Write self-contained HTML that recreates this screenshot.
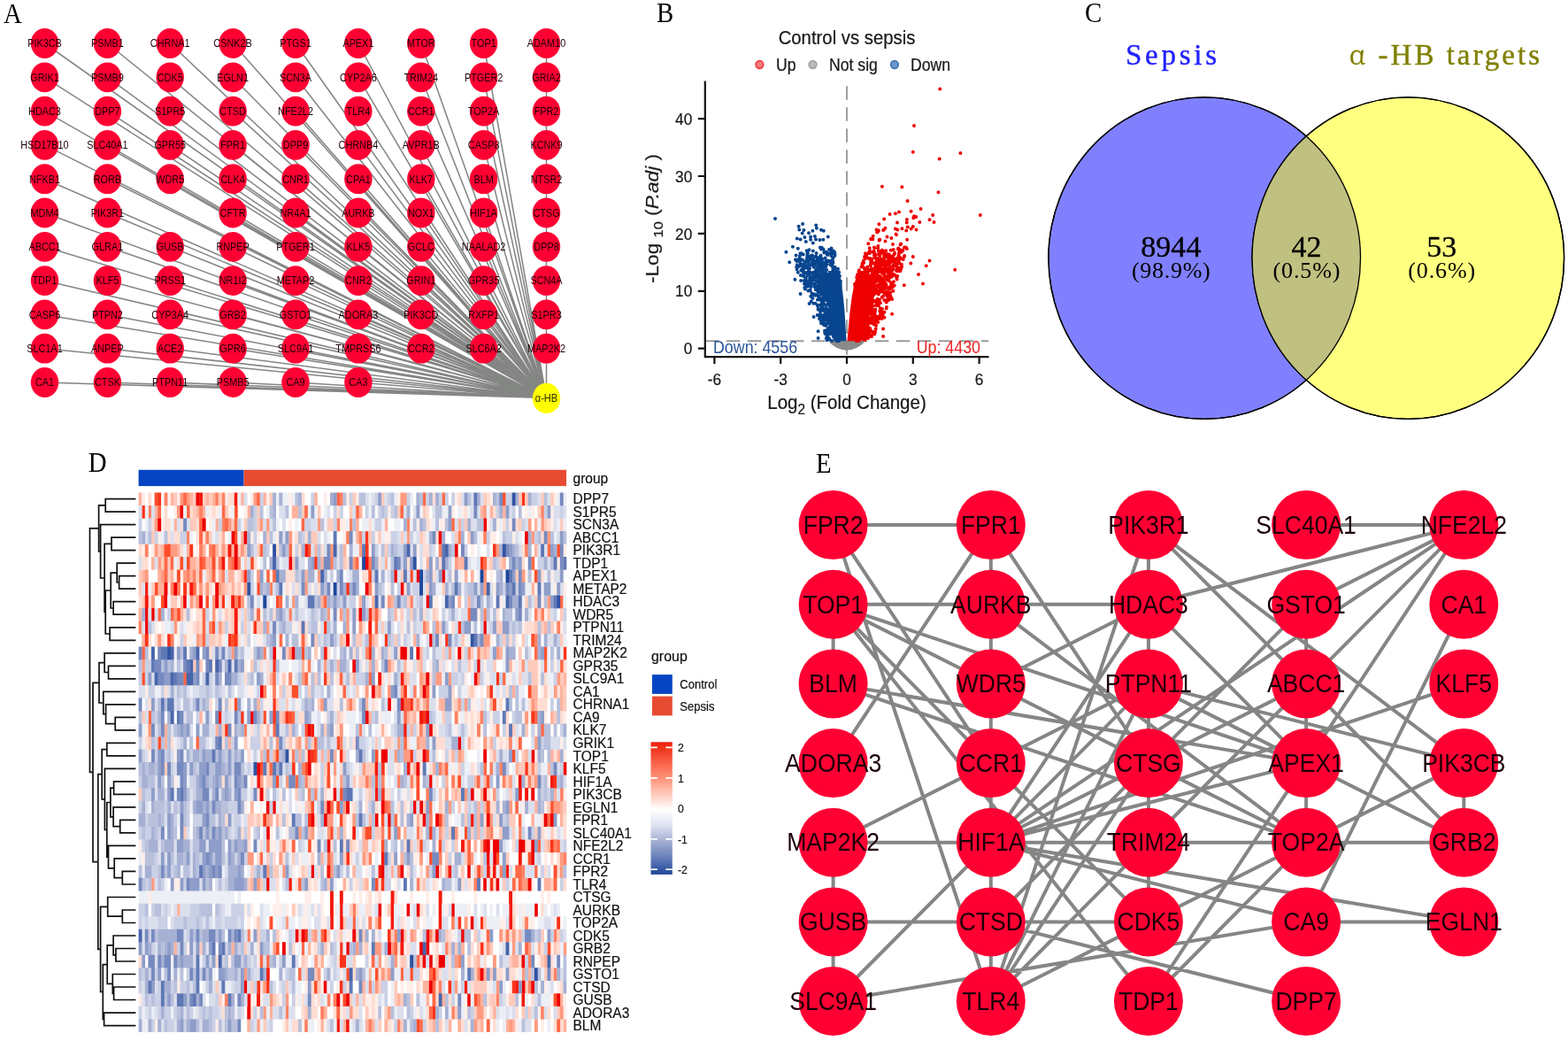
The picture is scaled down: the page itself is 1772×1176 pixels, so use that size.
<!DOCTYPE html>
<html lang="en"><head><meta charset="utf-8"><title>Figure</title>
<style>
html,body{margin:0;padding:0;background:#fff}
svg{display:block}
</style></head>
<body>
<svg width="1772" height="1176" viewBox="0 0 1772 1176">
<rect width="1772" height="1176" fill="#fff"/>
<g id="pA">
<g stroke="#848684" stroke-width="1.55" fill="none">
<path d="M50.5 49.0L617.5 449.6M121.4 49.0L617.5 449.6M192.2 49.0L617.5 449.6M263.1 49.0L617.5 449.6M334.0 49.0L617.5 449.6M404.9 49.0L617.5 449.6M475.8 49.0L617.5 449.6M546.6 49.0L617.5 449.6M617.5 49.0L617.5 449.6M50.5 87.3L617.5 449.6M121.4 87.3L617.5 449.6M192.2 87.3L617.5 449.6M263.1 87.3L617.5 449.6M334.0 87.3L617.5 449.6M404.9 87.3L617.5 449.6M475.8 87.3L617.5 449.6M546.6 87.3L617.5 449.6M617.5 87.3L617.5 449.6M50.5 125.6L617.5 449.6M121.4 125.6L617.5 449.6M192.2 125.6L617.5 449.6M263.1 125.6L617.5 449.6M334.0 125.6L617.5 449.6M404.9 125.6L617.5 449.6M475.8 125.6L617.5 449.6M546.6 125.6L617.5 449.6M617.5 125.6L617.5 449.6M50.5 163.9L617.5 449.6M121.4 163.9L617.5 449.6M192.2 163.9L617.5 449.6M263.1 163.9L617.5 449.6M334.0 163.9L617.5 449.6M404.9 163.9L617.5 449.6M475.8 163.9L617.5 449.6M546.6 163.9L617.5 449.6M617.5 163.9L617.5 449.6M50.5 202.2L617.5 449.6M121.4 202.2L617.5 449.6M192.2 202.2L617.5 449.6M263.1 202.2L617.5 449.6M334.0 202.2L617.5 449.6M404.9 202.2L617.5 449.6M475.8 202.2L617.5 449.6M546.6 202.2L617.5 449.6M617.5 202.2L617.5 449.6M50.5 240.5L617.5 449.6M121.4 240.5L617.5 449.6M263.1 240.5L617.5 449.6M334.0 240.5L617.5 449.6M404.9 240.5L617.5 449.6M475.8 240.5L617.5 449.6M546.6 240.5L617.5 449.6M617.5 240.5L617.5 449.6M50.5 278.8L617.5 449.6M121.4 278.8L617.5 449.6M192.2 278.8L617.5 449.6M263.1 278.8L617.5 449.6M334.0 278.8L617.5 449.6M404.9 278.8L617.5 449.6M475.8 278.8L617.5 449.6M546.6 278.8L617.5 449.6M617.5 278.8L617.5 449.6M50.5 317.1L617.5 449.6M121.4 317.1L617.5 449.6M192.2 317.1L617.5 449.6M263.1 317.1L617.5 449.6M334.0 317.1L617.5 449.6M404.9 317.1L617.5 449.6M475.8 317.1L617.5 449.6M546.6 317.1L617.5 449.6M617.5 317.1L617.5 449.6M50.5 355.4L617.5 449.6M121.4 355.4L617.5 449.6M192.2 355.4L617.5 449.6M263.1 355.4L617.5 449.6M334.0 355.4L617.5 449.6M404.9 355.4L617.5 449.6M475.8 355.4L617.5 449.6M546.6 355.4L617.5 449.6M617.5 355.4L617.5 449.6M50.5 393.7L617.5 449.6M121.4 393.7L617.5 449.6M192.2 393.7L617.5 449.6M263.1 393.7L617.5 449.6M334.0 393.7L617.5 449.6M404.9 393.7L617.5 449.6M475.8 393.7L617.5 449.6M546.6 393.7L617.5 449.6M617.5 393.7L617.5 449.6M50.5 432.0L617.5 449.6M121.4 432.0L617.5 449.6M192.2 432.0L617.5 449.6M263.1 432.0L617.5 449.6M334.0 432.0L617.5 449.6M404.9 432.0L617.5 449.6"/>
</g>
<g fill="#FF0033">
<ellipse cx="50.5" cy="49.0" rx="15.7" ry="16.9"/>
<ellipse cx="121.4" cy="49.0" rx="15.7" ry="16.9"/>
<ellipse cx="192.2" cy="49.0" rx="15.7" ry="16.9"/>
<ellipse cx="263.1" cy="49.0" rx="15.7" ry="16.9"/>
<ellipse cx="334.0" cy="49.0" rx="15.7" ry="16.9"/>
<ellipse cx="404.9" cy="49.0" rx="15.7" ry="16.9"/>
<ellipse cx="475.8" cy="49.0" rx="15.7" ry="16.9"/>
<ellipse cx="546.6" cy="49.0" rx="15.7" ry="16.9"/>
<ellipse cx="617.5" cy="49.0" rx="15.7" ry="16.9"/>
<ellipse cx="50.5" cy="87.3" rx="15.7" ry="16.9"/>
<ellipse cx="121.4" cy="87.3" rx="15.7" ry="16.9"/>
<ellipse cx="192.2" cy="87.3" rx="15.7" ry="16.9"/>
<ellipse cx="263.1" cy="87.3" rx="15.7" ry="16.9"/>
<ellipse cx="334.0" cy="87.3" rx="15.7" ry="16.9"/>
<ellipse cx="404.9" cy="87.3" rx="15.7" ry="16.9"/>
<ellipse cx="475.8" cy="87.3" rx="15.7" ry="16.9"/>
<ellipse cx="546.6" cy="87.3" rx="15.7" ry="16.9"/>
<ellipse cx="617.5" cy="87.3" rx="15.7" ry="16.9"/>
<ellipse cx="50.5" cy="125.6" rx="15.7" ry="16.9"/>
<ellipse cx="121.4" cy="125.6" rx="15.7" ry="16.9"/>
<ellipse cx="192.2" cy="125.6" rx="15.7" ry="16.9"/>
<ellipse cx="263.1" cy="125.6" rx="15.7" ry="16.9"/>
<ellipse cx="334.0" cy="125.6" rx="15.7" ry="16.9"/>
<ellipse cx="404.9" cy="125.6" rx="15.7" ry="16.9"/>
<ellipse cx="475.8" cy="125.6" rx="15.7" ry="16.9"/>
<ellipse cx="546.6" cy="125.6" rx="15.7" ry="16.9"/>
<ellipse cx="617.5" cy="125.6" rx="15.7" ry="16.9"/>
<ellipse cx="50.5" cy="163.9" rx="15.7" ry="16.9"/>
<ellipse cx="121.4" cy="163.9" rx="15.7" ry="16.9"/>
<ellipse cx="192.2" cy="163.9" rx="15.7" ry="16.9"/>
<ellipse cx="263.1" cy="163.9" rx="15.7" ry="16.9"/>
<ellipse cx="334.0" cy="163.9" rx="15.7" ry="16.9"/>
<ellipse cx="404.9" cy="163.9" rx="15.7" ry="16.9"/>
<ellipse cx="475.8" cy="163.9" rx="15.7" ry="16.9"/>
<ellipse cx="546.6" cy="163.9" rx="15.7" ry="16.9"/>
<ellipse cx="617.5" cy="163.9" rx="15.7" ry="16.9"/>
<ellipse cx="50.5" cy="202.2" rx="15.7" ry="16.9"/>
<ellipse cx="121.4" cy="202.2" rx="15.7" ry="16.9"/>
<ellipse cx="192.2" cy="202.2" rx="15.7" ry="16.9"/>
<ellipse cx="263.1" cy="202.2" rx="15.7" ry="16.9"/>
<ellipse cx="334.0" cy="202.2" rx="15.7" ry="16.9"/>
<ellipse cx="404.9" cy="202.2" rx="15.7" ry="16.9"/>
<ellipse cx="475.8" cy="202.2" rx="15.7" ry="16.9"/>
<ellipse cx="546.6" cy="202.2" rx="15.7" ry="16.9"/>
<ellipse cx="617.5" cy="202.2" rx="15.7" ry="16.9"/>
<ellipse cx="50.5" cy="240.5" rx="15.7" ry="16.9"/>
<ellipse cx="121.4" cy="240.5" rx="15.7" ry="16.9"/>
<ellipse cx="263.1" cy="240.5" rx="15.7" ry="16.9"/>
<ellipse cx="334.0" cy="240.5" rx="15.7" ry="16.9"/>
<ellipse cx="404.9" cy="240.5" rx="15.7" ry="16.9"/>
<ellipse cx="475.8" cy="240.5" rx="15.7" ry="16.9"/>
<ellipse cx="546.6" cy="240.5" rx="15.7" ry="16.9"/>
<ellipse cx="617.5" cy="240.5" rx="15.7" ry="16.9"/>
<ellipse cx="50.5" cy="278.8" rx="15.7" ry="16.9"/>
<ellipse cx="121.4" cy="278.8" rx="15.7" ry="16.9"/>
<ellipse cx="192.2" cy="278.8" rx="15.7" ry="16.9"/>
<ellipse cx="263.1" cy="278.8" rx="15.7" ry="16.9"/>
<ellipse cx="334.0" cy="278.8" rx="15.7" ry="16.9"/>
<ellipse cx="404.9" cy="278.8" rx="15.7" ry="16.9"/>
<ellipse cx="475.8" cy="278.8" rx="15.7" ry="16.9"/>
<ellipse cx="546.6" cy="278.8" rx="15.7" ry="16.9"/>
<ellipse cx="617.5" cy="278.8" rx="15.7" ry="16.9"/>
<ellipse cx="50.5" cy="317.1" rx="15.7" ry="16.9"/>
<ellipse cx="121.4" cy="317.1" rx="15.7" ry="16.9"/>
<ellipse cx="192.2" cy="317.1" rx="15.7" ry="16.9"/>
<ellipse cx="263.1" cy="317.1" rx="15.7" ry="16.9"/>
<ellipse cx="334.0" cy="317.1" rx="15.7" ry="16.9"/>
<ellipse cx="404.9" cy="317.1" rx="15.7" ry="16.9"/>
<ellipse cx="475.8" cy="317.1" rx="15.7" ry="16.9"/>
<ellipse cx="546.6" cy="317.1" rx="15.7" ry="16.9"/>
<ellipse cx="617.5" cy="317.1" rx="15.7" ry="16.9"/>
<ellipse cx="50.5" cy="355.4" rx="15.7" ry="16.9"/>
<ellipse cx="121.4" cy="355.4" rx="15.7" ry="16.9"/>
<ellipse cx="192.2" cy="355.4" rx="15.7" ry="16.9"/>
<ellipse cx="263.1" cy="355.4" rx="15.7" ry="16.9"/>
<ellipse cx="334.0" cy="355.4" rx="15.7" ry="16.9"/>
<ellipse cx="404.9" cy="355.4" rx="15.7" ry="16.9"/>
<ellipse cx="475.8" cy="355.4" rx="15.7" ry="16.9"/>
<ellipse cx="546.6" cy="355.4" rx="15.7" ry="16.9"/>
<ellipse cx="617.5" cy="355.4" rx="15.7" ry="16.9"/>
<ellipse cx="50.5" cy="393.7" rx="15.7" ry="16.9"/>
<ellipse cx="121.4" cy="393.7" rx="15.7" ry="16.9"/>
<ellipse cx="192.2" cy="393.7" rx="15.7" ry="16.9"/>
<ellipse cx="263.1" cy="393.7" rx="15.7" ry="16.9"/>
<ellipse cx="334.0" cy="393.7" rx="15.7" ry="16.9"/>
<ellipse cx="404.9" cy="393.7" rx="15.7" ry="16.9"/>
<ellipse cx="475.8" cy="393.7" rx="15.7" ry="16.9"/>
<ellipse cx="546.6" cy="393.7" rx="15.7" ry="16.9"/>
<ellipse cx="617.5" cy="393.7" rx="15.7" ry="16.9"/>
<ellipse cx="50.5" cy="432.0" rx="15.7" ry="16.9"/>
<ellipse cx="121.4" cy="432.0" rx="15.7" ry="16.9"/>
<ellipse cx="192.2" cy="432.0" rx="15.7" ry="16.9"/>
<ellipse cx="263.1" cy="432.0" rx="15.7" ry="16.9"/>
<ellipse cx="334.0" cy="432.0" rx="15.7" ry="16.9"/>
<ellipse cx="404.9" cy="432.0" rx="15.7" ry="16.9"/>
</g>
<ellipse cx="617.5" cy="449.90000000000003" rx="15.7" ry="17.2" fill="#FFFF00"/>
<g font-family="Liberation Sans, Arial, sans-serif" font-size="12.8" fill="#1c0008" text-anchor="middle">
<text transform="translate(50.5 53.3) scale(0.85 1)">PIK3CB</text>
<text transform="translate(121.4 53.3) scale(0.85 1)">PSMB1</text>
<text transform="translate(192.2 53.3) scale(0.85 1)">CHRNA1</text>
<text transform="translate(263.1 53.3) scale(0.85 1)">CSNK2B</text>
<text transform="translate(334.0 53.3) scale(0.85 1)">PTGS1</text>
<text transform="translate(404.9 53.3) scale(0.85 1)">APEX1</text>
<text transform="translate(475.8 53.3) scale(0.85 1)">MTOR</text>
<text transform="translate(546.6 53.3) scale(0.85 1)">TOP1</text>
<text transform="translate(617.5 53.3) scale(0.85 1)">ADAM10</text>
<text transform="translate(50.5 91.6) scale(0.85 1)">GRIK1</text>
<text transform="translate(121.4 91.6) scale(0.85 1)">PSMB9</text>
<text transform="translate(192.2 91.6) scale(0.85 1)">CDK5</text>
<text transform="translate(263.1 91.6) scale(0.85 1)">EGLN1</text>
<text transform="translate(334.0 91.6) scale(0.85 1)">SCN3A</text>
<text transform="translate(404.9 91.6) scale(0.85 1)">CYP2A6</text>
<text transform="translate(475.8 91.6) scale(0.85 1)">TRIM24</text>
<text transform="translate(546.6 91.6) scale(0.85 1)">PTGER2</text>
<text transform="translate(617.5 91.6) scale(0.85 1)">GRIA2</text>
<text transform="translate(50.5 129.9) scale(0.85 1)">HDAC3</text>
<text transform="translate(121.4 129.9) scale(0.85 1)">DPP7</text>
<text transform="translate(192.2 129.9) scale(0.85 1)">S1PR5</text>
<text transform="translate(263.1 129.9) scale(0.85 1)">CTSD</text>
<text transform="translate(334.0 129.9) scale(0.85 1)">NFE2L2</text>
<text transform="translate(404.9 129.9) scale(0.85 1)">TLR4</text>
<text transform="translate(475.8 129.9) scale(0.85 1)">CCR1</text>
<text transform="translate(546.6 129.9) scale(0.85 1)">TOP2A</text>
<text transform="translate(617.5 129.9) scale(0.85 1)">FPR2</text>
<text transform="translate(50.5 168.2) scale(0.85 1)">HSD17B10</text>
<text transform="translate(121.4 168.2) scale(0.85 1)">SLC40A1</text>
<text transform="translate(192.2 168.2) scale(0.85 1)">GPR55</text>
<text transform="translate(263.1 168.2) scale(0.85 1)">FPR1</text>
<text transform="translate(334.0 168.2) scale(0.85 1)">DPP9</text>
<text transform="translate(404.9 168.2) scale(0.85 1)">CHRNB4</text>
<text transform="translate(475.8 168.2) scale(0.85 1)">AVPR1B</text>
<text transform="translate(546.6 168.2) scale(0.85 1)">CASP8</text>
<text transform="translate(617.5 168.2) scale(0.85 1)">KCNK9</text>
<text transform="translate(50.5 206.5) scale(0.85 1)">NFKB1</text>
<text transform="translate(121.4 206.5) scale(0.85 1)">RORB</text>
<text transform="translate(192.2 206.5) scale(0.85 1)">WDR5</text>
<text transform="translate(263.1 206.5) scale(0.85 1)">CLK4</text>
<text transform="translate(334.0 206.5) scale(0.85 1)">CNR1</text>
<text transform="translate(404.9 206.5) scale(0.85 1)">CPA1</text>
<text transform="translate(475.8 206.5) scale(0.85 1)">KLK7</text>
<text transform="translate(546.6 206.5) scale(0.85 1)">BLM</text>
<text transform="translate(617.5 206.5) scale(0.85 1)">NTSR2</text>
<text transform="translate(50.5 244.8) scale(0.85 1)">MDM4</text>
<text transform="translate(121.4 244.8) scale(0.85 1)">PIK3R1</text>
<text transform="translate(263.1 244.8) scale(0.85 1)">CFTR</text>
<text transform="translate(334.0 244.8) scale(0.85 1)">NR4A1</text>
<text transform="translate(404.9 244.8) scale(0.85 1)">AURKB</text>
<text transform="translate(475.8 244.8) scale(0.85 1)">NOX1</text>
<text transform="translate(546.6 244.8) scale(0.85 1)">HIF1A</text>
<text transform="translate(617.5 244.8) scale(0.85 1)">CTSG</text>
<text transform="translate(50.5 283.1) scale(0.85 1)">ABCC1</text>
<text transform="translate(121.4 283.1) scale(0.85 1)">GLRA1</text>
<text transform="translate(192.2 283.1) scale(0.85 1)">GUSB</text>
<text transform="translate(263.1 283.1) scale(0.85 1)">RNPEP</text>
<text transform="translate(334.0 283.1) scale(0.85 1)">PTGER1</text>
<text transform="translate(404.9 283.1) scale(0.85 1)">KLK5</text>
<text transform="translate(475.8 283.1) scale(0.85 1)">GCLC</text>
<text transform="translate(546.6 283.1) scale(0.85 1)">NAALAD2</text>
<text transform="translate(617.5 283.1) scale(0.85 1)">DPP8</text>
<text transform="translate(50.5 321.4) scale(0.85 1)">TDP1</text>
<text transform="translate(121.4 321.4) scale(0.85 1)">KLF5</text>
<text transform="translate(192.2 321.4) scale(0.85 1)">PRSS1</text>
<text transform="translate(263.1 321.4) scale(0.85 1)">NR1I2</text>
<text transform="translate(334.0 321.4) scale(0.85 1)">METAP2</text>
<text transform="translate(404.9 321.4) scale(0.85 1)">CNR2</text>
<text transform="translate(475.8 321.4) scale(0.85 1)">GRIN1</text>
<text transform="translate(546.6 321.4) scale(0.85 1)">GPR35</text>
<text transform="translate(617.5 321.4) scale(0.85 1)">SCN4A</text>
<text transform="translate(50.5 359.7) scale(0.85 1)">CASP6</text>
<text transform="translate(121.4 359.7) scale(0.85 1)">PTPN2</text>
<text transform="translate(192.2 359.7) scale(0.85 1)">CYP3A4</text>
<text transform="translate(263.1 359.7) scale(0.85 1)">GRB2</text>
<text transform="translate(334.0 359.7) scale(0.85 1)">GSTO1</text>
<text transform="translate(404.9 359.7) scale(0.85 1)">ADORA3</text>
<text transform="translate(475.8 359.7) scale(0.85 1)">PIK3CD</text>
<text transform="translate(546.6 359.7) scale(0.85 1)">RXFP1</text>
<text transform="translate(617.5 359.7) scale(0.85 1)">S1PR3</text>
<text transform="translate(50.5 398.0) scale(0.85 1)">SLC1A1</text>
<text transform="translate(121.4 398.0) scale(0.85 1)">ANPEP</text>
<text transform="translate(192.2 398.0) scale(0.85 1)">ACE2</text>
<text transform="translate(263.1 398.0) scale(0.85 1)">GPR6</text>
<text transform="translate(334.0 398.0) scale(0.85 1)">SLC9A1</text>
<text transform="translate(404.9 398.0) scale(0.85 1)">TMPRSS6</text>
<text transform="translate(475.8 398.0) scale(0.85 1)">CCR2</text>
<text transform="translate(546.6 398.0) scale(0.85 1)">SLC6A2</text>
<text transform="translate(617.5 398.0) scale(0.85 1)">MAP2K2</text>
<text transform="translate(50.5 436.3) scale(0.85 1)">CA1</text>
<text transform="translate(121.4 436.3) scale(0.85 1)">CTSK</text>
<text transform="translate(192.2 436.3) scale(0.85 1)">PTPN11</text>
<text transform="translate(263.1 436.3) scale(0.85 1)">PSMB5</text>
<text transform="translate(334.0 436.3) scale(0.85 1)">CA9</text>
<text transform="translate(404.9 436.3) scale(0.85 1)">CA3</text>
<text transform="translate(617.5 453.8) scale(0.88 1)" font-size="12.5" fill="#2a2a00">α-HB</text>
</g>
</g>
<g id="pB">
<g stroke="#9a9a9a" stroke-width="1.9" stroke-dasharray="15.5 8.5" fill="none">
<path d="M957.0 97.3V403.1"/>
<path d="M796.8 385.3H1117"/>
</g>
<polygon points="937.1,384.9 938.1,387.2 941.0,390.1 945.8,392.9 951.5,395.0 957.0,395.8 962.5,395.0 968.2,392.9 973.0,390.1 975.9,387.2 977.4,384.9" fill="#8a8a8a"/>
<path d="M935.5 343.6h0M925.4 300.1h0M933.3 338.5h0M942.9 368.2h0M921.8 327.2h0M946.3 376.6h0M938.3 376.9h0M934.8 321.4h0M901.2 294.7h0M928.1 325.0h0M946.1 370.7h0M938.8 336.6h0M945.3 367.7h0M946.0 382.5h0M926.5 344.7h0M931.4 337.4h0M931.3 339.2h0M939.6 343.1h0M899.0 293.3h0M919.0 307.8h0M942.9 356.2h0M943.8 358.6h0M930.1 314.6h0M928.7 307.2h0M909.2 297.0h0M948.1 385.2h0M925.6 301.4h0M925.9 294.9h0M942.9 378.5h0M931.6 313.5h0M946.3 377.2h0M914.0 296.4h0M946.3 374.4h0M946.9 376.0h0M931.8 311.8h0M935.0 333.7h0M938.3 367.7h0M941.5 373.2h0M945.1 374.5h0M944.7 365.6h0M911.6 295.8h0M929.6 357.2h0M943.8 365.8h0M921.5 306.5h0M932.1 376.0h0M944.7 365.6h0M931.1 314.1h0M943.7 358.0h0M943.4 377.0h0M940.0 362.9h0M939.6 351.0h0M924.3 296.9h0M920.2 332.3h0M945.7 368.4h0M912.0 301.5h0M944.3 362.3h0M908.8 317.1h0M930.9 367.1h0M922.3 304.0h0M941.1 346.4h0M934.8 381.7h0M937.7 363.3h0M933.5 361.6h0M936.2 330.3h0M938.9 369.1h0M947.1 378.9h0M921.5 333.7h0M935.9 328.7h0M929.3 300.7h0M947.6 383.7h0M940.6 344.2h0M944.7 369.0h0M937.7 332.5h0M927.2 351.9h0M918.5 294.9h0M927.9 321.6h0M946.4 372.3h0M937.1 383.6h0M909.0 320.7h0M943.7 383.3h0M929.5 340.8h0M923.7 355.9h0M944.2 378.3h0M911.6 317.3h0M922.0 317.3h0M908.3 312.2h0M935.1 352.8h0M908.9 302.2h0M929.5 346.8h0M923.8 305.7h0M934.4 327.7h0M930.5 331.6h0M942.5 377.9h0M907.1 293.7h0M931.4 318.2h0M926.6 317.5h0M926.6 344.7h0M940.1 377.5h0M944.1 382.5h0M939.3 340.9h0M930.1 320.9h0M915.6 328.6h0M944.5 361.7h0M936.6 357.5h0M945.3 366.6h0M919.7 301.8h0M924.1 344.5h0M936.3 355.1h0M943.6 367.0h0M908.1 311.0h0M928.0 304.1h0M936.3 331.5h0M943.9 372.7h0M911.7 308.1h0M909.4 319.7h0M943.9 359.8h0M939.7 343.7h0M943.5 365.5h0M932.3 327.6h0M931.0 356.2h0M924.7 294.8h0M947.3 378.4h0M930.7 304.8h0M927.8 320.0h0M932.9 356.8h0M948.0 383.5h0M940.4 343.3h0M930.9 308.8h0M946.4 372.3h0M933.2 327.3h0M927.5 327.2h0M904.9 310.9h0M934.6 322.2h0M939.7 341.5h0M946.2 384.3h0M933.9 319.4h0M943.0 360.2h0M929.5 321.0h0M924.1 328.6h0M930.2 349.0h0M929.9 301.7h0M916.4 299.3h0M944.5 373.3h0M915.7 327.6h0M937.4 350.5h0M913.8 304.2h0M925.1 298.2h0M935.4 325.2h0M917.0 318.7h0M924.7 326.1h0M932.2 365.6h0M900.3 294.9h0M925.2 335.8h0M927.9 355.7h0M929.1 306.4h0M945.4 377.6h0M925.8 334.5h0M939.7 340.3h0M931.9 310.7h0M931.8 311.5h0M932.3 354.4h0M946.3 372.3h0M928.7 337.7h0M919.9 307.9h0M924.3 298.1h0M929.0 297.8h0M941.8 364.9h0M935.5 358.5h0M931.2 326.4h0M924.6 307.5h0M941.8 356.5h0M908.2 307.4h0M934.2 366.1h0M923.1 296.0h0M937.4 332.5h0M934.5 335.9h0M937.1 329.5h0M923.3 295.9h0M929.6 348.3h0M934.0 333.4h0M934.8 321.6h0M936.1 335.6h0M904.3 297.1h0M941.6 360.5h0M944.8 373.6h0M908.8 310.1h0M938.8 341.3h0M940.9 367.6h0M929.4 300.0h0M932.5 313.4h0M945.3 367.4h0M933.5 321.9h0M936.7 352.5h0M940.1 375.6h0M943.9 373.9h0M944.3 362.2h0M935.9 336.4h0M940.1 350.6h0M938.6 336.5h0M940.3 366.4h0M931.0 326.4h0M922.7 306.8h0M930.3 306.3h0M916.7 317.0h0M928.5 302.1h0M927.5 356.2h0M928.0 365.2h0M930.2 303.5h0M937.0 363.2h0M944.4 361.3h0M928.3 308.6h0M932.1 312.5h0M933.6 348.1h0M947.9 383.6h0M913.2 322.4h0M928.6 296.0h0M927.7 338.7h0M930.4 338.9h0M945.7 367.8h0M946.8 375.5h0M933.8 334.4h0M937.7 332.8h0M945.5 368.3h0M901.8 307.8h0M929.5 299.8h0M934.6 379.6h0M928.9 342.7h0M940.4 355.1h0M936.4 337.8h0M937.2 329.9h0M916.4 320.7h0M943.7 368.6h0M930.8 317.1h0M945.4 367.3h0M939.1 338.0h0M913.2 302.9h0M915.3 320.3h0M933.9 327.3h0M932.8 330.0h0M911.5 294.7h0M930.1 361.5h0M918.3 316.7h0M929.0 310.2h0M908.4 302.6h0M920.6 321.2h0M930.1 314.7h0M934.0 318.7h0M940.1 353.8h0M947.2 384.3h0M928.3 326.4h0M929.7 363.9h0M933.8 323.9h0M929.3 324.5h0M936.6 336.1h0M919.0 293.1h0M920.6 320.6h0M928.6 294.9h0M924.8 328.5h0M942.8 361.6h0M947.4 380.6h0M942.1 350.6h0M930.6 362.1h0M934.0 334.6h0M921.8 296.1h0M919.2 293.6h0M931.9 310.7h0M924.5 330.2h0M935.7 381.1h0M943.8 370.5h0M943.4 369.7h0M936.9 328.9h0M926.0 298.1h0M932.4 336.7h0M941.6 351.6h0M929.7 324.9h0M936.1 359.1h0M943.7 358.0h0M944.7 362.7h0M938.4 370.8h0M925.9 349.3h0M933.3 316.3h0M902.8 294.1h0M935.8 378.5h0M937.8 345.7h0M927.9 295.6h0M918.4 337.0h0M930.0 318.7h0M910.8 295.1h0M937.0 329.6h0M933.1 327.7h0M945.4 366.5h0M938.7 336.6h0M932.9 344.4h0M939.7 343.3h0M934.9 331.6h0M926.8 313.6h0M902.2 293.3h0M933.0 317.6h0M935.2 374.8h0M923.6 313.0h0M941.9 352.2h0M928.7 322.1h0M929.5 330.7h0M932.8 315.8h0M927.6 362.3h0M908.1 300.9h0M947.8 381.6h0M942.2 360.3h0M936.5 327.8h0M938.5 335.3h0M941.7 377.3h0M930.8 334.5h0M939.2 350.9h0M944.2 365.9h0M915.0 316.6h0M947.2 378.4h0M923.1 310.7h0M932.3 314.4h0M940.5 346.2h0M929.7 310.6h0M909.3 325.0h0M939.0 355.3h0M909.8 316.5h0M939.4 345.9h0M936.2 376.3h0M947.2 378.0h0M934.1 333.3h0M933.8 322.1h0M932.6 313.8h0M939.4 365.6h0M946.5 377.7h0M922.8 318.4h0M943.8 359.2h0M933.7 352.3h0M942.3 351.5h0M927.8 319.9h0M903.9 300.6h0M926.3 301.1h0M930.7 311.3h0M941.5 356.0h0M906.7 299.1h0M943.3 362.4h0M940.9 351.6h0M940.0 348.8h0M941.8 367.3h0M926.1 311.8h0M924.7 308.2h0M937.9 369.0h0M929.4 304.1h0M945.5 383.2h0M932.8 335.1h0M918.8 296.2h0M932.0 311.1h0M925.0 334.9h0M947.1 377.5h0M911.6 317.3h0M942.6 377.5h0M938.9 372.0h0M935.2 325.5h0M936.5 364.9h0M926.9 337.2h0M940.5 348.9h0M917.9 296.0h0M934.9 339.8h0M922.4 318.8h0M926.8 300.9h0M921.1 309.1h0M913.8 306.6h0M909.2 308.4h0M919.4 297.0h0M928.9 337.0h0M928.9 311.3h0M941.1 346.5h0M905.1 317.0h0M942.0 350.7h0M943.6 366.4h0M926.3 358.4h0M946.8 379.8h0M941.7 374.7h0M932.3 313.8h0M945.5 379.5h0M917.5 331.4h0M947.8 381.9h0M945.4 368.3h0M937.4 363.6h0M936.8 330.4h0M945.1 368.2h0M938.0 369.4h0M939.4 356.5h0M927.4 310.0h0M931.0 361.3h0M927.9 301.0h0M916.2 334.8h0M939.3 340.8h0M935.0 380.7h0M929.6 311.4h0M934.4 336.6h0M926.0 360.0h0M935.0 324.7h0M946.2 384.3h0M930.8 351.0h0M926.5 319.5h0M946.0 370.8h0M942.6 355.6h0M925.3 305.2h0M909.9 326.6h0M940.7 360.7h0M938.1 371.4h0M940.0 385.1h0M913.0 307.3h0M946.7 377.7h0M934.1 319.2h0M936.6 341.0h0M921.4 297.2h0M929.6 306.3h0M929.2 312.5h0M929.7 300.8h0M931.2 309.1h0M933.8 335.2h0M936.1 370.7h0M942.5 356.6h0M946.6 378.3h0M930.6 342.2h0M934.8 352.1h0M945.5 375.5h0M919.4 342.7h0M921.6 308.8h0M947.1 384.1h0M933.7 319.8h0M934.7 333.3h0M934.6 384.3h0M931.6 311.6h0M935.7 328.5h0M938.0 350.6h0M942.5 357.8h0M934.4 349.1h0M944.2 361.6h0M932.2 317.9h0M922.3 298.2h0M932.4 318.6h0M931.6 309.1h0M946.3 372.3h0M923.9 322.8h0M944.3 368.7h0M923.7 308.1h0M946.8 377.0h0M946.1 370.8h0M941.5 347.8h0M926.4 300.4h0M931.4 338.1h0M915.1 314.6h0M940.8 349.7h0M941.4 347.3h0M933.2 348.3h0M912.3 294.8h0M928.1 324.4h0M947.3 383.6h0M936.3 353.7h0M945.6 375.5h0M926.3 338.3h0M923.3 309.2h0M938.0 370.7h0M923.7 302.0h0M939.3 352.8h0M939.8 372.2h0M923.2 294.3h0M916.3 319.3h0M931.1 367.1h0M936.1 327.5h0M946.8 377.6h0M927.7 332.1h0M926.7 354.9h0M939.7 352.0h0M932.0 373.8h0M934.3 372.8h0M933.0 335.2h0M937.3 333.6h0M900.2 301.5h0M923.7 309.9h0M937.2 374.0h0M929.6 358.7h0M940.5 363.1h0M931.2 308.7h0M938.3 334.8h0M947.7 382.3h0M903.1 294.3h0M934.4 324.6h0M922.8 323.4h0M936.7 350.1h0M932.1 311.2h0M943.2 366.9h0M945.0 372.1h0M937.6 332.8h0M938.2 337.4h0M936.5 332.9h0M936.1 326.1h0M935.2 323.4h0M920.8 296.9h0M937.8 342.0h0M926.5 327.8h0M919.1 315.4h0M916.7 340.5h0M911.2 308.0h0M939.0 347.6h0M918.4 333.1h0M934.3 336.8h0M923.9 345.4h0M943.2 355.7h0M912.0 318.4h0M926.2 317.8h0M931.9 316.0h0M937.3 330.6h0M944.7 373.8h0M937.2 338.9h0M942.0 380.5h0M938.2 336.8h0M941.8 357.0h0M944.8 363.5h0M902.1 301.3h0M916.6 323.9h0M928.7 346.4h0M937.0 364.8h0M918.5 333.0h0M938.6 376.2h0M943.5 373.9h0M929.0 297.6h0M943.9 362.8h0M943.2 355.3h0M912.4 302.8h0M940.3 348.7h0M937.5 331.3h0M937.1 382.4h0M940.3 356.9h0M900.8 299.2h0M939.7 341.7h0M928.3 358.0h0M929.7 302.6h0M929.4 308.0h0M939.8 341.7h0M900.6 304.2h0M940.3 366.6h0M933.7 367.6h0M947.6 380.7h0M932.5 318.4h0M909.0 302.3h0M934.1 319.5h0M910.9 321.1h0M940.6 344.2h0M944.3 364.7h0M933.9 319.8h0M945.4 368.6h0M920.6 324.0h0M935.1 350.9h0M922.8 303.8h0M944.2 364.2h0M919.0 299.9h0M938.2 359.8h0M932.6 377.0h0M936.5 344.7h0M938.7 336.3h0M936.2 330.0h0M934.4 362.1h0M946.5 377.2h0M932.4 315.6h0M940.1 359.5h0M933.3 368.1h0M928.5 294.2h0M929.5 342.7h0M924.6 349.8h0M939.1 339.2h0M930.2 334.0h0M935.6 352.1h0M927.1 313.1h0M923.9 338.7h0M929.9 322.2h0M928.7 297.6h0M932.3 313.4h0M936.4 329.2h0M929.3 344.7h0M916.0 312.8h0M942.1 363.5h0M940.9 364.9h0M939.4 339.3h0M926.4 330.3h0M920.0 332.5h0M945.7 368.7h0M945.8 383.6h0M938.2 345.2h0M934.1 361.0h0M935.8 378.6h0M932.7 332.8h0M931.5 312.3h0M945.5 371.8h0M947.0 381.4h0M931.7 328.0h0M939.7 360.9h0M938.1 377.1h0M945.5 369.4h0M939.9 370.5h0M915.3 308.7h0M946.0 379.6h0M942.0 351.7h0M928.7 295.8h0M928.1 340.1h0M928.3 294.4h0M929.9 343.3h0M947.4 381.6h0M930.1 303.2h0M940.9 349.1h0M941.1 346.1h0M933.7 382.1h0M919.7 314.9h0M944.5 364.1h0M937.6 334.4h0M921.3 342.7h0M941.2 351.7h0M920.2 294.8h0M946.4 381.6h0M935.9 325.4h0M935.0 353.6h0M923.1 305.6h0M926.3 303.6h0M928.2 349.1h0M931.0 350.1h0M944.1 365.4h0M942.3 368.3h0M945.8 370.2h0M942.9 365.5h0M941.1 356.8h0M917.6 293.7h0M930.4 305.8h0M942.0 350.0h0M932.8 321.5h0M944.1 360.0h0M945.3 368.5h0M924.6 349.0h0M933.3 319.4h0M942.3 352.0h0M927.2 298.9h0M920.1 314.7h0M930.0 301.7h0M941.6 355.6h0M936.3 377.6h0M933.1 355.3h0M939.0 337.4h0M941.3 349.0h0M947.7 381.5h0M937.3 330.4h0M941.3 356.5h0M938.3 335.1h0M933.6 320.1h0M923.9 318.4h0M946.0 371.7h0M936.3 359.4h0M939.7 347.9h0M930.2 305.5h0M942.6 358.3h0M945.2 365.4h0M943.7 383.0h0M923.4 333.1h0M927.3 295.4h0M913.2 323.5h0M938.7 365.3h0M911.1 323.8h0M930.1 305.2h0M936.3 327.0h0M939.1 345.8h0M946.3 379.7h0M939.9 355.0h0M943.9 359.5h0M938.5 348.2h0M940.4 369.9h0M944.7 363.2h0M940.7 353.8h0M942.3 371.4h0M928.5 320.6h0M934.6 320.7h0M940.3 349.2h0M946.1 379.5h0M945.2 380.2h0M933.9 331.3h0M942.6 355.3h0M947.1 383.1h0M923.4 303.1h0M938.0 361.1h0M943.4 368.1h0M913.4 328.6h0M937.6 351.8h0M913.8 298.4h0M928.8 327.4h0M939.2 347.4h0M932.6 359.8h0M928.1 304.2h0M929.9 301.4h0M943.7 372.7h0M942.1 356.8h0M928.4 295.2h0M945.3 367.5h0M934.5 322.6h0M945.5 385.2h0M942.0 308.9h0M923.4 304.7h0M924.1 302.4h0M913.5 301.9h0M933.8 284.7h0M912.7 310.9h0M921.8 312.3h0M919.6 296.2h0M912.6 284.9h0M928.5 318.8h0M927.5 304.9h0M940.5 310.0h0M926.7 294.0h0M942.9 315.6h0M944.7 311.8h0M944.6 303.9h0M949.6 322.9h0M925.5 321.2h0M936.4 320.8h0M929.0 293.0h0M916.7 318.7h0M943.3 288.9h0M932.4 314.8h0M932.6 292.0h0M938.5 295.4h0M935.7 295.4h0M919.4 311.5h0M912.4 290.0h0M933.2 301.6h0M922.7 295.7h0M913.8 290.5h0M939.2 320.3h0M939.7 297.3h0M949.9 317.8h0M907.4 300.9h0M940.4 284.6h0M932.1 296.5h0M933.6 298.9h0M904.4 286.2h0M925.9 323.5h0M949.8 320.6h0M921.4 313.5h0M940.5 283.6h0M948.7 311.6h0M930.7 302.7h0M939.6 309.8h0M911.9 291.8h0M937.0 313.6h0M916.4 299.5h0M931.6 284.2h0M926.4 296.3h0M941.4 291.8h0M947.9 318.2h0M937.0 286.2h0M945.0 305.0h0M948.9 311.9h0M943.6 301.7h0M938.5 299.2h0M933.8 316.0h0M941.5 310.1h0M949.8 323.4h0M935.2 287.9h0M946.4 322.2h0M905.3 305.2h0M915.9 317.0h0M934.2 305.1h0M932.4 291.5h0M932.9 323.1h0M923.1 297.8h0M910.8 313.9h0M903.9 289.1h0M914.5 306.9h0M941.1 295.0h0M947.2 324.4h0M949.1 320.5h0M919.5 310.4h0M931.4 312.5h0M946.1 325.1h0M943.2 285.1h0M915.0 303.3h0M917.1 292.1h0M916.6 308.7h0M915.4 290.6h0M941.1 284.0h0M931.3 285.5h0M938.6 295.8h0M943.5 287.2h0M940.7 301.2h0M937.1 309.2h0M913.7 297.8h0M925.2 310.2h0M940.9 310.6h0M934.7 287.4h0M941.1 321.6h0M939.8 294.3h0M926.2 294.2h0M941.4 296.9h0M947.4 321.1h0M934.8 310.8h0M935.5 325.2h0M938.8 308.5h0M907.3 302.9h0M915.2 316.9h0M919.8 312.0h0M911.5 321.0h0M907.8 307.4h0M937.0 316.3h0M941.2 295.8h0M924.2 314.0h0M934.4 285.6h0M939.4 317.8h0M939.8 283.8h0M934.3 298.8h0M940.6 298.4h0M910.0 299.6h0M922.0 289.4h0M927.2 304.3h0M919.0 320.7h0M930.6 296.5h0M932.3 297.5h0M942.5 309.3h0M926.0 300.2h0M947.0 303.8h0M931.5 299.1h0M925.1 300.5h0M940.2 286.3h0M905.7 305.8h0M936.1 294.4h0M903.9 294.5h0M913.2 308.6h0M911.0 320.2h0M941.3 304.8h0M921.1 290.1h0M912.4 286.0h0M927.5 291.9h0M941.9 283.6h0M918.1 288.8h0M918.1 315.0h0M929.1 306.4h0M939.3 289.0h0M925.7 313.8h0M932.5 322.5h0M928.5 292.3h0M918.6 315.4h0M915.3 289.5h0M909.7 302.4h0M941.3 291.9h0M946.7 310.1h0M941.2 324.0h0M912.2 289.1h0M946.1 320.6h0M914.3 309.2h0M909.2 299.5h0M912.3 322.5h0M927.5 316.8h0M917.3 288.6h0M925.8 317.2h0M948.1 307.4h0M939.6 311.2h0M938.3 299.0h0M920.1 300.1h0M947.2 317.9h0M930.0 296.3h0M948.0 320.1h0M922.6 285.9h0M943.8 310.5h0M918.8 283.6h0M934.2 294.5h0M936.0 312.5h0M928.2 319.4h0M915.4 307.6h0M933.1 308.3h0M908.2 304.2h0M922.1 310.9h0M929.4 315.6h0M905.0 286.4h0M905.8 286.3h0M922.0 270.6h0M922.9 257.7h0M916.1 267.4h0M939.6 280.4h0M930.5 281.6h0M901.8 280.7h0M912.9 286.1h0M930.3 270.8h0M937.0 281.9h0M928.0 259.7h0M928.0 281.5h0M906.7 263.6h0M918.8 274.5h0M903.6 291.6h0M928.1 291.8h0M911.7 283.3h0M926.4 270.9h0M903.3 259.6h0M915.7 292.9h0M926.9 279.6h0M928.8 279.8h0M916.1 270.8h0M902.6 255.8h0M922.2 254.6h0M914.0 263.2h0M900.8 269.4h0M923.6 292.2h0M914.5 282.3h0M899.6 288.5h0M927.5 288.7h0M926.5 290.5h0M935.8 267.5h0M915.0 289.9h0M910.8 273.0h0M907.7 287.4h0M909.4 268.0h0M923.2 291.1h0M905.2 293.0h0M876.0 247.0h0M907.1 252.9h0M908.4 260.0h0M918.4 260.7h0M930.8 260.7h0M920.9 267.1h0M904.6 270.4h0M895.9 278.8h0M888.4 284.7h0M892.2 296.3h0M898.4 315.8h0M904.6 332.0h0M914.6 343.1h0M919.6 358.0h0M924.6 374.2h0M924.6 382.0h0" stroke="#08458f" stroke-width="4.0" stroke-linecap="round" fill="none"/>
<path d="M1013.2 298.2h0M969.6 383.0h0M984.4 335.9h0M980.9 375.0h0M978.1 357.5h0M975.0 373.8h0M970.5 373.3h0M979.5 338.1h0M985.8 313.6h0M976.4 347.1h0M975.0 365.2h0M983.1 333.8h0M987.5 306.9h0M987.6 306.9h0M997.0 295.8h0M983.5 347.8h0M1015.6 305.7h0M976.4 347.2h0M983.3 371.1h0M996.2 317.6h0M975.0 370.8h0M968.5 382.6h0M996.0 357.5h0M1000.4 326.0h0M970.7 381.0h0M970.0 378.0h0M986.1 375.0h0M978.4 355.0h0M1003.1 325.0h0M997.5 298.0h0M999.3 339.1h0M977.1 348.9h0M984.7 317.1h0M978.3 351.4h0M979.6 341.3h0M980.1 345.6h0M980.6 380.7h0M972.7 379.6h0M981.7 334.8h0M972.4 364.7h0M976.8 351.0h0M978.4 340.7h0M988.8 316.2h0M969.8 384.4h0M991.2 296.2h0M1006.1 330.6h0M982.1 351.6h0M976.6 351.3h0M987.8 329.1h0M978.3 356.2h0M991.8 337.7h0M969.0 380.4h0M973.7 362.0h0M988.9 311.9h0M990.5 306.0h0M982.4 358.9h0M988.2 377.4h0M988.4 308.6h0M988.9 356.0h0M995.0 312.6h0M978.4 380.0h0M974.4 380.8h0M1002.4 334.4h0M981.2 326.4h0M1004.6 299.2h0M979.8 331.8h0M986.9 317.4h0M1010.7 322.6h0M989.5 300.8h0M988.7 313.3h0M986.6 316.0h0M980.2 344.0h0M971.3 374.4h0M983.7 317.6h0M982.7 374.6h0M988.1 323.9h0M970.2 374.8h0M995.7 356.7h0M1002.4 333.6h0M974.3 365.8h0M996.7 335.8h0M984.5 373.9h0M977.6 341.7h0M978.9 345.5h0M1006.6 323.1h0M988.4 339.8h0M989.3 349.5h0M979.1 375.6h0M976.4 369.9h0M973.3 366.6h0M972.5 370.2h0M985.3 330.8h0M982.0 349.5h0M989.2 307.6h0M984.1 331.5h0M993.3 294.9h0M983.4 321.0h0M983.4 361.2h0M980.5 332.3h0M980.7 379.3h0M986.4 350.5h0M984.3 345.4h0M1006.0 333.7h0M993.2 301.4h0M978.5 340.4h0M984.3 315.9h0M989.8 357.0h0M975.9 382.0h0M985.6 332.9h0M974.9 354.6h0M1005.7 297.6h0M986.0 311.0h0M985.8 313.0h0M976.1 366.9h0M980.5 329.1h0M992.0 314.8h0M1013.8 302.4h0M984.7 321.7h0M1003.5 297.6h0M989.8 358.5h0M984.4 318.3h0M972.9 362.3h0M979.7 335.8h0M974.5 358.3h0M973.6 373.1h0M974.3 360.1h0M977.6 359.7h0M988.3 304.7h0M1008.0 306.0h0M986.4 329.1h0M989.6 317.6h0M1005.5 324.4h0M985.8 313.8h0M984.9 380.3h0M989.0 351.8h0M975.4 363.8h0M986.7 351.1h0M995.5 298.3h0M981.3 333.1h0M992.2 363.9h0M987.1 375.1h0M981.7 324.7h0M989.0 302.2h0M979.6 333.2h0M993.4 294.1h0M988.1 304.9h0M981.9 323.9h0M972.8 382.5h0M1003.0 294.7h0M1003.8 306.4h0M978.6 337.2h0M979.0 336.7h0M980.6 336.7h0M978.5 339.3h0M986.0 320.3h0M977.9 340.5h0M983.9 340.4h0M998.1 295.6h0M971.5 372.8h0M984.7 354.3h0M1018.8 298.7h0M1015.4 297.7h0M1013.4 306.1h0M971.1 383.4h0M990.8 330.8h0M988.7 328.8h0M990.1 299.3h0M1003.5 337.4h0M968.6 382.3h0M1015.3 305.2h0M968.4 383.0h0M998.3 308.8h0M985.3 337.4h0M1001.8 315.5h0M967.9 385.2h0M1014.1 312.1h0M989.8 308.5h0M976.3 354.3h0M977.4 383.9h0M978.9 361.1h0M980.3 336.8h0M986.0 323.1h0M988.8 363.7h0M971.5 369.1h0M976.4 361.9h0M986.9 313.0h0M980.2 363.3h0M977.4 361.3h0M989.4 361.8h0M972.0 368.3h0M975.4 357.5h0M994.3 318.3h0M991.5 312.4h0M979.0 378.0h0M973.2 362.7h0M1001.9 347.1h0M977.2 351.1h0M1019.1 301.3h0M976.0 349.6h0M1001.5 312.5h0M988.3 354.1h0M976.7 350.3h0M993.3 330.6h0M993.7 341.4h0M971.1 384.0h0M975.7 350.2h0M989.6 301.0h0M987.6 366.3h0M1016.2 296.7h0M995.6 353.8h0M979.3 372.2h0M990.9 298.1h0M978.0 372.8h0M1001.7 303.9h0M994.5 297.8h0M975.6 351.0h0M993.3 360.1h0M969.6 378.7h0M975.0 353.2h0M974.4 357.0h0M974.1 373.9h0M985.4 335.5h0M990.2 315.0h0M990.6 298.0h0M972.4 364.7h0M986.1 356.7h0M994.8 300.1h0M972.2 370.5h0M980.7 332.9h0M1013.9 312.2h0M984.5 342.9h0M991.4 307.3h0M990.2 367.7h0M991.6 295.1h0M987.3 315.0h0M969.1 380.5h0M980.9 369.3h0M972.1 365.8h0M984.7 365.0h0M987.2 339.3h0M977.8 342.4h0M969.0 383.9h0M969.3 381.4h0M982.8 328.2h0M985.5 341.7h0M976.0 356.0h0M995.9 303.8h0M981.7 346.8h0M978.9 342.8h0M990.0 301.1h0M1010.2 299.0h0M988.6 304.0h0M1004.8 338.4h0M974.0 358.7h0M984.1 318.6h0M980.1 331.5h0M991.7 297.9h0M977.2 376.3h0M980.5 353.3h0M1000.3 339.4h0M980.7 337.9h0M970.8 385.1h0M978.8 360.5h0M984.9 327.0h0M972.9 377.0h0M986.3 340.9h0M992.4 295.9h0M977.0 344.5h0M986.4 311.5h0M1003.7 308.9h0M990.6 361.8h0M981.2 338.8h0M1003.8 334.1h0M982.0 340.1h0M989.0 358.5h0M979.9 338.9h0M972.2 367.2h0M1004.2 308.4h0M1015.7 295.1h0M998.9 322.1h0M1000.4 319.7h0M986.1 311.4h0M987.6 310.2h0M991.1 362.8h0M971.6 383.2h0M988.5 353.6h0M1003.3 329.0h0M999.7 299.3h0M975.8 379.3h0M989.1 375.2h0M989.5 305.0h0M979.9 368.1h0M1013.6 315.4h0M980.9 327.9h0M983.5 318.3h0M1003.4 305.3h0M1006.7 312.9h0M1004.1 332.8h0M985.8 326.4h0M977.5 349.8h0M968.5 383.2h0M986.2 311.9h0M996.8 325.0h0M988.0 321.3h0M975.2 356.1h0M978.5 368.0h0M1007.9 322.0h0M994.9 354.8h0M990.5 301.3h0M999.4 297.5h0M1006.6 296.6h0M975.6 354.5h0M982.9 337.1h0M981.2 382.0h0M982.9 335.9h0M984.8 316.6h0M977.1 366.9h0M974.0 363.0h0M969.3 378.8h0M980.0 352.5h0M1000.1 297.8h0M978.9 347.1h0M975.8 363.6h0M991.0 296.9h0M986.7 345.4h0M991.1 315.0h0M1006.1 326.2h0M989.8 302.1h0M1006.9 335.4h0M979.1 336.6h0M984.6 314.7h0M975.3 371.4h0M983.3 360.1h0M985.0 318.3h0M994.5 314.6h0M986.8 320.2h0M976.8 345.4h0M1001.6 341.5h0M988.5 303.4h0M969.9 378.7h0M986.1 321.3h0M972.6 373.5h0M992.9 332.4h0M984.6 348.1h0M990.7 322.5h0M976.5 381.0h0M970.4 373.4h0M977.6 341.6h0M971.0 378.5h0M977.6 342.1h0M1010.7 297.4h0M984.7 340.4h0M997.7 356.2h0M971.2 374.2h0M987.6 364.9h0M981.1 338.4h0M995.1 348.5h0M985.6 361.5h0M986.7 320.0h0M978.4 351.6h0M978.5 343.5h0M983.7 327.8h0M986.4 357.3h0M981.1 343.3h0M992.2 304.2h0M995.0 350.6h0M1007.7 295.3h0M985.3 348.3h0M985.1 317.0h0M1009.8 318.5h0M992.0 324.8h0M985.6 345.2h0M983.7 364.4h0M1005.6 335.6h0M985.2 353.8h0M970.1 383.7h0M985.5 314.6h0M981.1 328.7h0M1001.6 348.6h0M988.9 367.1h0M973.7 379.8h0M1005.7 309.6h0M982.5 349.2h0M997.9 319.6h0M991.3 316.5h0M982.2 362.1h0M985.2 333.5h0M992.1 294.3h0M986.7 313.3h0M1009.9 318.3h0M978.8 360.0h0M983.2 336.6h0M977.4 369.9h0M999.2 302.9h0M987.3 358.6h0M976.7 346.6h0M984.2 329.4h0M1006.0 336.4h0M1004.8 332.8h0M987.4 352.8h0M970.2 378.3h0M994.0 321.5h0M989.1 308.9h0M975.1 360.0h0M978.9 335.7h0M984.2 350.7h0M971.8 371.6h0M1013.7 304.8h0M973.2 362.2h0M970.3 374.4h0M999.4 312.1h0M976.8 360.9h0M982.7 321.2h0M1007.0 309.8h0M980.9 365.8h0M984.5 320.8h0M988.8 304.3h0M978.9 341.6h0M992.4 344.5h0M987.4 332.7h0M992.5 294.3h0M978.8 364.7h0M989.7 371.4h0M977.8 353.8h0M992.9 345.5h0M1000.5 300.9h0M972.7 369.5h0M983.5 320.2h0M1009.8 303.9h0M974.0 364.4h0M981.9 364.2h0M976.1 380.9h0M981.3 379.5h0M986.0 335.2h0M969.8 376.5h0M999.4 352.7h0M999.9 330.0h0M969.2 379.5h0M975.4 383.3h0M972.1 369.0h0M993.4 323.8h0M977.9 355.6h0M979.1 358.6h0M977.0 352.5h0M973.8 362.3h0M973.2 361.2h0M980.4 356.7h0M973.4 360.5h0M991.5 307.3h0M979.7 338.1h0M1003.2 303.5h0M990.6 327.9h0M987.5 321.5h0M978.6 347.2h0M982.1 338.8h0M984.2 336.5h0M1008.0 312.6h0M972.4 364.6h0M974.0 357.5h0M994.4 311.9h0M974.0 358.9h0M1007.2 305.2h0M993.8 322.3h0M987.9 316.6h0M981.6 348.6h0M1018.2 304.1h0M1008.6 300.8h0M969.9 378.4h0M997.5 295.8h0M979.8 337.8h0M993.2 305.8h0M992.0 294.0h0M992.1 293.7h0M972.6 371.6h0M981.3 326.3h0M1003.6 333.4h0M989.9 345.1h0M987.1 330.7h0M974.2 369.3h0M999.9 302.3h0M974.9 365.3h0M980.7 335.2h0M988.4 332.0h0M968.6 383.6h0M982.2 324.7h0M978.8 378.6h0M996.9 354.5h0M979.4 333.8h0M982.0 326.6h0M999.4 310.2h0M984.4 315.4h0M978.8 382.1h0M971.0 372.3h0M968.7 382.5h0M1001.8 341.6h0M975.2 355.7h0M987.0 309.0h0M989.4 326.7h0M990.1 299.1h0M981.8 333.4h0M987.3 309.4h0M983.6 319.4h0M1003.2 339.6h0M973.5 363.2h0M1000.4 300.7h0M969.4 379.2h0M973.6 363.4h0M999.3 307.4h0M1002.3 295.0h0M983.3 327.4h0M988.0 319.1h0M972.1 379.8h0M980.7 349.9h0M968.9 380.8h0M994.0 294.7h0M974.8 354.8h0M1002.9 330.7h0M975.0 368.6h0M991.9 339.2h0M980.2 333.2h0M980.9 367.8h0M982.7 378.1h0M968.8 382.2h0M994.9 342.2h0M994.3 328.2h0M997.5 315.1h0M980.3 380.5h0M971.0 371.6h0M968.6 381.8h0M990.7 304.4h0M969.6 377.3h0M995.4 307.3h0M989.4 300.8h0M970.9 374.9h0M971.7 367.7h0M978.7 366.8h0M971.4 369.8h0M981.1 335.9h0M975.6 371.5h0M980.7 338.5h0M977.6 341.6h0M981.0 328.6h0M974.8 354.3h0M996.2 303.5h0M981.2 349.1h0M990.4 298.6h0M986.2 349.9h0M985.9 351.0h0M989.2 301.6h0M974.6 359.0h0M1000.3 316.1h0M1007.2 320.8h0M973.4 368.1h0M1002.7 306.7h0M989.1 374.9h0M1004.7 317.0h0M982.2 351.9h0M1013.8 296.9h0M1000.9 332.1h0M1011.4 293.2h0M1008.2 324.8h0M972.7 372.0h0M979.6 333.3h0M985.1 313.3h0M982.0 327.3h0M981.2 355.5h0M974.3 367.6h0M1017.2 306.3h0M974.9 361.1h0M983.0 321.3h0M987.8 307.0h0M981.0 334.0h0M967.9 385.2h0M968.9 385.1h0M996.4 359.9h0M981.2 326.5h0M983.9 319.3h0M989.5 340.9h0M1013.3 306.3h0M977.9 346.5h0M977.3 348.6h0M988.0 316.9h0M982.6 322.1h0M1013.1 313.1h0M978.1 366.6h0M971.1 370.3h0M976.7 347.1h0M990.7 317.9h0M1009.4 323.1h0M969.1 379.9h0M971.1 382.0h0M997.9 309.3h0M997.9 334.8h0M975.6 351.0h0M981.3 326.1h0M972.5 364.1h0M971.1 370.4h0M978.9 336.3h0M997.8 329.7h0M975.0 353.5h0M995.0 323.4h0M995.0 303.8h0M999.4 331.6h0M1010.0 322.9h0M985.9 358.8h0M985.1 326.9h0M970.7 384.3h0M979.4 361.0h0M983.1 338.3h0M969.2 379.8h0M991.1 329.3h0M1008.5 294.0h0M976.9 358.5h0M993.9 338.7h0M996.9 348.9h0M980.3 340.7h0M979.6 341.0h0M992.3 293.1h0M976.1 348.4h0M982.4 322.8h0M973.1 371.5h0M994.6 329.8h0M978.1 344.3h0M994.2 351.4h0M972.1 365.6h0M993.1 303.6h0M970.6 373.1h0M1003.0 303.2h0M976.0 379.3h0M974.8 365.6h0M980.3 329.5h0M991.9 299.0h0M981.5 372.0h0M970.1 375.2h0M985.7 325.2h0M1005.5 302.3h0M972.0 366.2h0M984.4 329.7h0M993.2 357.5h0M979.0 366.1h0M985.0 378.5h0M999.3 297.8h0M985.0 355.7h0M1005.8 302.0h0M971.8 381.5h0M974.9 372.4h0M1011.4 297.7h0M977.8 362.3h0M974.6 356.0h0M998.8 316.7h0M977.4 354.2h0M995.8 321.1h0M977.5 342.5h0M970.0 376.4h0M991.5 309.1h0M983.5 325.9h0M975.7 351.3h0M999.7 295.4h0M978.5 373.4h0M988.3 330.2h0M993.1 314.3h0M1016.4 304.5h0M984.7 347.8h0M978.1 350.8h0M983.6 351.5h0M976.8 352.8h0M1004.4 307.2h0M1001.2 322.9h0M984.0 349.7h0M974.1 362.1h0M980.9 376.0h0M991.0 300.4h0M975.7 350.4h0M977.1 372.2h0M988.7 303.1h0M984.2 361.8h0M988.3 364.4h0M978.7 352.7h0M972.8 366.7h0M977.5 346.1h0M983.6 318.1h0M997.7 326.4h0M974.9 355.2h0M970.3 374.2h0M993.6 312.3h0M970.5 383.9h0M981.7 330.1h0M970.5 382.1h0M998.6 352.7h0M995.8 352.1h0M995.2 305.3h0M982.0 373.7h0M974.0 377.0h0M969.9 376.3h0M976.5 347.4h0M999.3 293.8h0M1016.1 302.6h0M994.1 315.4h0M991.7 341.7h0M982.2 323.6h0M985.0 303.2h0M998.9 303.8h0M994.5 296.5h0M1008.7 292.3h0M969.2 321.7h0M969.2 323.6h0M986.8 285.1h0M986.0 307.0h0M980.1 301.7h0M985.6 292.7h0M1008.3 289.9h0M983.8 325.5h0M1001.5 321.6h0M973.1 322.6h0M996.8 293.1h0M987.2 297.4h0M976.7 303.6h0M977.8 306.0h0M976.1 297.1h0M971.3 319.8h0M992.7 303.1h0M1005.6 325.4h0M988.4 290.3h0M999.4 318.9h0M982.3 284.3h0M1007.8 293.7h0M982.9 286.0h0M970.1 320.5h0M1004.4 315.8h0M993.2 287.2h0M977.0 320.2h0M991.6 315.4h0M1005.1 295.2h0M985.6 307.1h0M982.3 305.8h0M996.7 306.4h0M984.3 295.5h0M975.4 301.6h0M977.4 323.6h0M969.4 310.4h0M979.4 322.2h0M1011.1 285.8h0M974.5 324.3h0M978.5 310.0h0M987.5 319.8h0M988.5 290.2h0M968.8 318.1h0M994.3 324.9h0M995.2 315.8h0M977.4 292.2h0M976.2 317.6h0M1003.9 293.1h0M983.4 312.8h0M985.0 310.6h0M983.2 292.1h0M1014.0 291.4h0M1013.1 300.2h0M981.7 286.0h0M983.2 283.7h0M978.7 291.6h0M983.0 312.8h0M1002.0 290.2h0M1003.9 317.0h0M994.3 289.0h0M973.5 323.4h0M981.8 313.2h0M999.0 285.8h0M977.6 291.0h0M995.8 315.2h0M974.9 311.2h0M966.3 322.9h0M989.3 308.2h0M990.0 308.7h0M968.2 313.3h0M984.1 297.1h0M983.0 304.8h0M968.6 314.2h0M976.9 313.0h0M966.4 320.7h0M970.9 305.3h0M988.0 288.5h0M988.8 306.8h0M967.2 324.5h0M995.4 292.4h0M981.6 304.7h0M992.5 293.9h0M1009.3 292.1h0M1004.9 287.8h0M989.4 297.1h0M992.6 303.1h0M1004.5 303.4h0M977.5 289.4h0M997.7 293.8h0M1010.3 300.3h0M981.2 323.5h0M1009.3 309.7h0M986.5 318.6h0M995.5 319.5h0M999.7 304.9h0M1004.7 312.6h0M970.9 325.3h0M1010.7 294.6h0M983.4 292.8h0M992.4 322.1h0M975.9 294.7h0M995.8 286.1h0M981.2 324.1h0M970.9 311.3h0M1015.6 288.2h0M980.8 320.3h0M993.3 314.0h0M976.0 320.9h0M985.9 308.2h0M992.0 307.2h0M1016.0 285.9h0M1010.3 287.3h0M973.9 315.9h0M994.7 306.2h0M983.5 300.0h0M987.3 283.7h0M966.9 324.7h0M995.2 316.7h0M977.1 290.1h0M974.0 315.6h0M1012.4 292.4h0M969.8 314.4h0M1018.5 284.8h0M990.5 295.3h0M1005.1 294.1h0M979.0 304.1h0M996.5 303.4h0M992.4 311.9h0M1006.9 319.4h0M973.1 316.6h0M1017.3 285.0h0M1011.1 286.5h0M1009.2 289.8h0M973.4 301.6h0M1008.4 294.7h0M977.1 290.2h0M993.2 323.0h0M1008.0 305.0h0M992.8 283.8h0M998.9 297.1h0M985.7 296.3h0M974.5 298.6h0M1004.8 287.6h0M991.5 291.7h0M982.0 316.9h0M993.4 296.8h0M965.9 321.0h0M976.4 308.8h0M973.1 316.0h0M996.6 308.0h0M1002.6 287.0h0M999.6 324.7h0M1001.2 299.9h0M983.9 299.7h0M970.0 311.2h0M974.6 297.5h0M1011.7 296.8h0M995.9 297.4h0M1016.1 291.5h0M1017.8 291.3h0M970.5 306.2h0M996.7 299.6h0M999.0 289.1h0M969.0 310.2h0M999.2 290.5h0M999.4 284.0h0M1006.7 289.6h0M993.5 283.8h0M989.7 287.7h0M974.6 325.1h0M1011.3 310.7h0M992.3 278.1h0M992.6 260.2h0M996.8 282.6h0M1004.5 290.1h0M1017.6 276.6h0M1024.8 280.9h0M1002.0 287.5h0M978.0 286.2h0M1020.4 282.8h0M1001.1 283.3h0M993.7 270.8h0M984.6 270.1h0M992.2 280.4h0M1024.7 251.6h0M1014.3 259.6h0M1024.9 248.0h0M981.9 292.1h0M1025.8 256.4h0M1029.6 238.8h0M1003.3 288.9h0M1012.5 264.6h0M1022.0 289.8h0M993.6 271.6h0M1016.0 239.4h0M1007.3 291.8h0M988.0 284.8h0M1006.8 282.8h0M1009.7 281.9h0M1035.2 245.1h0M1032.3 246.3h0M1016.4 285.0h0M1003.4 291.2h0M980.7 291.6h0M1005.6 241.9h0M1011.9 258.5h0M1012.7 293.1h0M1017.5 292.0h0M1014.0 251.4h0M981.3 275.3h0M990.5 259.6h0M1025.1 270.7h0M992.9 261.1h0M1019.4 258.2h0M1014.9 281.5h0M1002.5 267.5h0M994.3 270.7h0M1019.9 283.5h0M1015.2 280.4h0M987.9 279.6h0M1020.7 293.1h0M1031.8 256.1h0M986.7 266.8h0M979.1 288.7h0M1013.0 265.3h0M1011.9 241.3h0M987.8 285.9h0M978.0 289.3h0M1000.5 272.6h0M1023.9 279.5h0M1017.3 282.2h0M986.3 270.3h0M1004.2 292.7h0M999.2 247.4h0M998.9 259.5h0M1024.2 260.5h0M1000.4 257.8h0M1022.1 289.0h0M1033.0 244.3h0M984.2 269.8h0M1022.0 279.5h0M989.8 291.9h0M1017.0 292.4h0M982.7 280.2h0M988.4 280.1h0M1009.0 276.0h0M991.2 262.4h0M984.2 270.2h0M1018.2 275.5h0M1016.5 284.6h0M996.0 285.4h0M993.4 253.3h0M1007.4 269.0h0M1029.6 258.6h0M998.2 260.0h0M999.7 287.3h0M1062.2 100.4h0M1033.0 141.9h0M1031.8 171.7h0M1061.7 179.5h0M1085.4 173.0h0M996.9 210.7h0M1019.3 211.3h0M1060.5 217.2h0M1025.6 226.9h0M1040.5 236.0h0M1107.8 243.1h0M1054.2 243.1h0M1050.5 248.3h0M1055.5 250.9h0M1039.3 250.9h0M1035.5 259.4h0M1050.5 294.4h0M1046.7 300.2h0M1038.0 310.0h0M1079.2 304.8h0M1043.0 320.4h0M1021.8 322.3h0M1009.4 328.8h0M1008.1 337.9h0M1008.1 354.8h0M999.4 358.7h0M998.1 371.6h0M998.1 380.1h0M1029.3 297.6h0M1031.8 289.9h0" stroke="#ee0000" stroke-width="4.0" stroke-linecap="round" fill="none"/>
<polygon points="956.6,385.3 955.9,374.2 955.1,361.2 954.2,348.3 952.9,335.3 951.2,322.3 949.8,312.6 948.5,306.1 936.2,306.1 934.9,312.6 933.8,322.3 933.1,335.3 936.9,348.3 940.4,361.2 943.3,374.2 945.3,385.3" fill="#08458f"/>
<polygon points="957.4,385.3 958.4,374.2 959.6,361.2 961.0,348.3 962.7,335.3 965.1,322.3 967.7,312.6 969.9,306.1 982.4,306.1 982.8,312.6 983.7,322.3 985.2,335.3 981.8,348.3 978.2,361.2 974.7,374.2 971.8,385.3" fill="#ee0000"/>
<g stroke="#111" stroke-width="2.2" fill="none">
<path d="M796.8 91.5V403.1H1117.5"/>
<path d="M788.8 393.7H796.8M788.8 328.8H796.8M788.8 263.9H796.8M788.8 199.0H796.8M788.8 134.1H796.8M807.4 403.1V411.1M882.2 403.1V411.1M957.0 403.1V411.1M1031.8 403.1V411.1M1106.6 403.1V411.1"/>
</g>
<g font-family="Liberation Sans, Arial, sans-serif" fill="#1a1a1a" stroke="#1a1a1a" stroke-width="0.25">
<text transform="translate(782.3 400.3) scale(0.9 1)" font-size="19.2" text-anchor="end">0</text>
<text transform="translate(782.3 335.4) scale(0.9 1)" font-size="19.2" text-anchor="end">10</text>
<text transform="translate(782.3 270.5) scale(0.9 1)" font-size="19.2" text-anchor="end">20</text>
<text transform="translate(782.3 205.6) scale(0.9 1)" font-size="19.2" text-anchor="end">30</text>
<text transform="translate(782.3 140.7) scale(0.9 1)" font-size="19.2" text-anchor="end">40</text>
<text transform="translate(807.4 435.2) scale(0.9 1)" font-size="19.2" text-anchor="middle">-6</text>
<text transform="translate(882.2 435.2) scale(0.9 1)" font-size="19.2" text-anchor="middle">-3</text>
<text transform="translate(957.0 435.2) scale(0.9 1)" font-size="19.2" text-anchor="middle">0</text>
<text transform="translate(1031.8 435.2) scale(0.9 1)" font-size="19.2" text-anchor="middle">3</text>
<text transform="translate(1106.6 435.2) scale(0.9 1)" font-size="19.2" text-anchor="middle">6</text>
<text transform="translate(957 49.8) scale(0.9 1)" font-size="22.6" text-anchor="middle">Control vs sepsis</text>
<text transform="translate(877 79.6) scale(0.9 1)" font-size="19.6" text-anchor="start">Up</text>
<text transform="translate(937 79.6) scale(0.9 1)" font-size="19.6" text-anchor="start">Not sig</text>
<text transform="translate(1029 79.6) scale(0.9 1)" font-size="19.6" text-anchor="start">Down</text>
<text transform="translate(957 461.8) scale(0.9 1)" font-size="22.8" text-anchor="middle">Log<tspan font-size="17" dy="6">2</tspan><tspan dy="-6"> (Fold Change)</tspan></text>
<text transform="translate(744.3 247) rotate(-90) scale(1 0.9)" font-size="22.6" text-anchor="middle">-Log <tspan font-size="16.5" dy="5.5">10</tspan><tspan dy="-5.5"> (</tspan><tspan font-style="italic">P.adj</tspan> )</text>
</g>
<g font-family="Liberation Sans, Arial, sans-serif" stroke-width="0.2">
<text transform="translate(806 398.8) scale(0.9 1)" font-size="19.8" text-anchor="start" fill="#2a5599">Down: 4556</text>
<text transform="translate(1108 398.8) scale(0.9 1)" font-size="19.8" text-anchor="end" fill="#ee2222">Up: 4430</text>
</g>
<circle cx="858.4" cy="73" r="4.3" fill="#f47c7c" stroke="#f03a3a" stroke-width="1.7"/>
<circle cx="918.5" cy="73" r="4.3" fill="#bcbcbc" stroke="#a0a0a0" stroke-width="1.7"/>
<circle cx="1010.9" cy="73" r="4.3" fill="#6b97c8" stroke="#3f74b4" stroke-width="1.7"/>
</g>
<g id="pC">
<ellipse cx="1361.2" cy="291.6" rx="176.3" ry="181.8" fill="#8080ff" stroke="#000" stroke-width="1.3"/>
<ellipse cx="1591.3" cy="291.6" rx="176.3" ry="181.8" fill="#ffff80" stroke="#000" stroke-width="1.3"/>
<clipPath id="cl1"><ellipse cx="1361.2" cy="291.6" rx="176.3" ry="181.8"/></clipPath>
<ellipse cx="1591.3" cy="291.6" rx="176.3" ry="181.8" fill="#c0c080" clip-path="url(#cl1)"/>
<ellipse cx="1361.2" cy="291.6" rx="176.3" ry="181.8" fill="none" stroke="#000" stroke-width="1.3"/>
<ellipse cx="1591.3" cy="291.6" rx="176.3" ry="181.8" fill="none" stroke="#000" stroke-width="1.3"/>
<g font-family="Liberation Serif, Noto Serif CJK SC, serif" fill="#000" text-anchor="middle">
<text x="1323.3" y="290" font-size="34" textLength="68.3" stroke="#000" stroke-width="0.3" lengthAdjust="spacing">8944</text>
<text x="1323.3" y="314" font-size="26" textLength="88.8" lengthAdjust="spacing">(98.9%)</text>
<text x="1476.5" y="290" font-size="34" textLength="33.9" stroke="#000" stroke-width="0.3" lengthAdjust="spacing">42</text>
<text x="1476.5" y="314" font-size="26" textLength="75.9" lengthAdjust="spacing">(0.5%)</text>
<text x="1629.2" y="290" font-size="34" textLength="33.9" stroke="#000" stroke-width="0.3" lengthAdjust="spacing">53</text>
<text x="1629.2" y="314" font-size="26" textLength="75.9" lengthAdjust="spacing">(0.6%)</text>
</g>
<text x="1272" y="73" font-family="Liberation Serif, Noto Serif CJK SC, serif" font-size="33" fill="#2222ff" stroke="#2222ff" stroke-width="0.4" textLength="103" lengthAdjust="spacing">Sepsis</text>
<text x="1525" y="73" font-family="Liberation Serif, Noto Serif CJK SC, serif" font-size="33" fill="#808000" stroke="#808000" stroke-width="0.4" textLength="215" lengthAdjust="spacing"><tspan font-family="Noto Serif CJK SC, Liberation Serif, serif" font-size="30">α</tspan> -HB targets</text>
</g>
<g id="pD">
<rect x="156.6" y="530.8" width="119.0" height="18.3" fill="#0545c4"/>
<rect x="275.6" y="530.8" width="364.4" height="18.3" fill="#e64b32"/>
<path fill="rgb(255,178,157)" d="M156.6 556.4h3.9v14.8h-3.9zM192.7 556.4h3.9v14.8h-3.9zM214.3 556.4h3.9v14.8h-3.9zM232.4 556.4h3.9v14.8h-3.9zM239.6 556.4h3.9v14.8h-3.9zM272.0 556.4h3.9v14.8h-3.9zM297.3 556.4h3.9v14.8h-3.9zM355.0 556.4h3.9v14.8h-3.9zM174.6 570.9h3.9v14.8h-3.9zM221.5 570.9h3.9v14.8h-3.9zM228.7 570.9h3.9v14.8h-3.9zM279.3 570.9h3.9v14.8h-3.9zM329.8 570.9h3.9v14.8h-3.9zM333.4 570.9h3.9v14.8h-3.9zM405.5 570.9h3.9v14.8h-3.9zM542.6 570.9h3.9v14.8h-3.9zM553.4 570.9h3.9v14.8h-3.9zM567.9 570.9h3.9v14.8h-3.9zM196.3 585.4h3.9v14.8h-3.9zM243.2 585.4h3.9v14.8h-3.9zM401.9 585.4h3.9v14.8h-3.9zM434.4 585.4h3.9v14.8h-3.9zM517.3 585.4h3.9v14.8h-3.9zM603.9 585.4h3.9v14.8h-3.9zM250.4 599.9h3.9v14.8h-3.9zM272.0 599.9h3.9v14.8h-3.9zM401.9 599.9h3.9v14.8h-3.9zM181.9 614.4h3.9v14.8h-3.9zM199.9 614.4h3.9v14.8h-3.9zM210.7 614.4h3.9v14.8h-3.9zM228.7 614.4h3.9v14.8h-3.9zM243.2 614.4h3.9v14.8h-3.9zM261.2 614.4h3.9v14.8h-3.9zM355.0 614.4h3.9v14.8h-3.9zM387.5 614.4h3.9v14.8h-3.9zM603.9 614.4h3.9v14.8h-3.9zM171.0 628.9h3.9v14.8h-3.9zM214.3 628.9h3.9v14.8h-3.9zM217.9 628.9h3.9v14.8h-3.9zM232.4 628.9h3.9v14.8h-3.9zM236.0 628.9h3.9v14.8h-3.9zM362.2 628.9h3.9v14.8h-3.9zM434.4 628.9h3.9v14.8h-3.9zM481.3 628.9h3.9v14.8h-3.9zM517.3 628.9h3.9v14.8h-3.9zM521.0 628.9h3.9v14.8h-3.9zM567.9 628.9h3.9v14.8h-3.9zM160.2 643.5h3.9v14.8h-3.9zM178.2 643.5h3.9v14.8h-3.9zM192.7 643.5h3.9v14.8h-3.9zM214.3 643.5h3.9v14.8h-3.9zM236.0 643.5h3.9v14.8h-3.9zM246.8 643.5h3.9v14.8h-3.9zM257.6 643.5h3.9v14.8h-3.9zM261.2 643.5h3.9v14.8h-3.9zM272.0 643.5h3.9v14.8h-3.9zM344.2 643.5h3.9v14.8h-3.9zM524.6 643.5h3.9v14.8h-3.9zM531.8 643.5h3.9v14.8h-3.9zM178.2 658.0h3.9v14.8h-3.9zM181.9 658.0h3.9v14.8h-3.9zM250.4 658.0h3.9v14.8h-3.9zM261.2 658.0h3.9v14.8h-3.9zM600.3 658.0h3.9v14.8h-3.9zM203.5 672.5h3.9v14.8h-3.9zM362.2 672.5h3.9v14.8h-3.9zM405.5 672.5h3.9v14.8h-3.9zM419.9 672.5h3.9v14.8h-3.9zM441.6 672.5h3.9v14.8h-3.9zM517.3 672.5h3.9v14.8h-3.9zM528.2 672.5h3.9v14.8h-3.9zM156.6 687.0h3.9v14.8h-3.9zM203.5 687.0h3.9v14.8h-3.9zM419.9 687.0h3.9v14.8h-3.9zM445.2 687.0h3.9v14.8h-3.9zM481.3 701.5h3.9v14.8h-3.9zM614.7 701.5h3.9v14.8h-3.9zM160.2 716.0h3.9v14.8h-3.9zM225.1 716.0h3.9v14.8h-3.9zM383.9 716.0h3.9v14.8h-3.9zM419.9 716.0h3.9v14.8h-3.9zM466.8 716.0h3.9v14.8h-3.9zM474.1 730.5h3.9v14.8h-3.9zM546.2 730.5h3.9v14.8h-3.9zM564.2 730.5h3.9v14.8h-3.9zM340.6 745.0h3.9v14.8h-3.9zM380.3 745.0h3.9v14.8h-3.9zM416.3 745.0h3.9v14.8h-3.9zM456.0 745.0h3.9v14.8h-3.9zM474.1 745.0h3.9v14.8h-3.9zM575.1 745.0h3.9v14.8h-3.9zM304.5 759.5h3.9v14.8h-3.9zM398.3 759.5h3.9v14.8h-3.9zM456.0 759.5h3.9v14.8h-3.9zM477.7 759.5h3.9v14.8h-3.9zM636.4 759.5h3.9v14.8h-3.9zM423.6 774.0h3.9v14.8h-3.9zM474.1 774.0h3.9v14.8h-3.9zM549.8 774.0h3.9v14.8h-3.9zM578.7 774.0h3.9v14.8h-3.9zM600.3 774.0h3.9v14.8h-3.9zM603.9 774.0h3.9v14.8h-3.9zM632.8 774.0h3.9v14.8h-3.9zM290.1 788.6h3.9v14.8h-3.9zM391.1 788.6h3.9v14.8h-3.9zM412.7 788.6h3.9v14.8h-3.9zM477.7 788.6h3.9v14.8h-3.9zM495.7 788.6h3.9v14.8h-3.9zM499.3 788.6h3.9v14.8h-3.9zM553.4 788.6h3.9v14.8h-3.9zM603.9 788.6h3.9v14.8h-3.9zM632.8 788.6h3.9v14.8h-3.9zM225.1 803.1h3.9v14.8h-3.9zM318.9 803.1h3.9v14.8h-3.9zM416.3 803.1h3.9v14.8h-3.9zM459.6 803.1h3.9v14.8h-3.9zM466.8 803.1h3.9v14.8h-3.9zM622.0 803.1h3.9v14.8h-3.9zM185.5 817.6h3.9v14.8h-3.9zM243.2 817.6h3.9v14.8h-3.9zM300.9 817.6h3.9v14.8h-3.9zM430.8 817.6h3.9v14.8h-3.9zM463.2 817.6h3.9v14.8h-3.9zM185.5 832.1h3.9v14.8h-3.9zM257.6 832.1h3.9v14.8h-3.9zM297.3 832.1h3.9v14.8h-3.9zM333.4 832.1h3.9v14.8h-3.9zM474.1 832.1h3.9v14.8h-3.9zM477.7 832.1h3.9v14.8h-3.9zM528.2 832.1h3.9v14.8h-3.9zM553.4 832.1h3.9v14.8h-3.9zM293.7 846.6h3.9v14.8h-3.9zM308.1 846.6h3.9v14.8h-3.9zM337.0 846.6h3.9v14.8h-3.9zM362.2 846.6h3.9v14.8h-3.9zM369.4 846.6h3.9v14.8h-3.9zM376.7 846.6h3.9v14.8h-3.9zM510.1 846.6h3.9v14.8h-3.9zM521.0 846.6h3.9v14.8h-3.9zM557.0 846.6h3.9v14.8h-3.9zM593.1 846.6h3.9v14.8h-3.9zM622.0 846.6h3.9v14.8h-3.9zM629.2 846.6h3.9v14.8h-3.9zM466.8 861.1h3.9v14.8h-3.9zM488.5 861.1h3.9v14.8h-3.9zM499.3 861.1h3.9v14.8h-3.9zM582.3 861.1h3.9v14.8h-3.9zM618.4 861.1h3.9v14.8h-3.9zM416.3 875.6h3.9v14.8h-3.9zM502.9 875.6h3.9v14.8h-3.9zM535.4 875.6h3.9v14.8h-3.9zM546.2 875.6h3.9v14.8h-3.9zM513.7 890.1h3.9v14.8h-3.9zM542.6 890.1h3.9v14.8h-3.9zM625.6 890.1h3.9v14.8h-3.9zM282.9 904.6h3.9v14.8h-3.9zM347.8 904.6h3.9v14.8h-3.9zM365.8 904.6h3.9v14.8h-3.9zM539.0 904.6h3.9v14.8h-3.9zM546.2 904.6h3.9v14.8h-3.9zM603.9 904.6h3.9v14.8h-3.9zM632.8 904.6h3.9v14.8h-3.9zM304.5 919.1h3.9v14.8h-3.9zM311.7 919.1h3.9v14.8h-3.9zM416.3 919.1h3.9v14.8h-3.9zM470.4 919.1h3.9v14.8h-3.9zM499.3 919.1h3.9v14.8h-3.9zM539.0 919.1h3.9v14.8h-3.9zM600.3 919.1h3.9v14.8h-3.9zM632.8 919.1h3.9v14.8h-3.9zM347.8 933.7h3.9v14.8h-3.9zM380.3 933.7h3.9v14.8h-3.9zM409.1 933.7h3.9v14.8h-3.9zM456.0 933.7h3.9v14.8h-3.9zM539.0 933.7h3.9v14.8h-3.9zM409.1 948.2h3.9v14.8h-3.9zM412.7 948.2h3.9v14.8h-3.9zM535.4 948.2h3.9v14.8h-3.9zM542.6 948.2h3.9v14.8h-3.9zM618.4 948.2h3.9v14.8h-3.9zM362.2 962.7h3.9v14.8h-3.9zM452.4 962.7h3.9v14.8h-3.9zM398.3 977.2h3.9v14.8h-3.9zM441.6 977.2h3.9v14.8h-3.9zM502.9 977.2h3.9v14.8h-3.9zM542.6 977.2h3.9v14.8h-3.9zM282.9 991.7h3.9v14.8h-3.9zM387.5 991.7h3.9v14.8h-3.9zM412.7 991.7h3.9v14.8h-3.9zM614.7 991.7h3.9v14.8h-3.9zM618.4 991.7h3.9v14.8h-3.9zM199.9 1020.7h3.9v14.8h-3.9zM423.6 1035.2h3.9v14.8h-3.9zM351.4 1049.7h3.9v14.8h-3.9zM466.8 1049.7h3.9v14.8h-3.9zM585.9 1049.7h3.9v14.8h-3.9zM196.3 1064.2h3.9v14.8h-3.9zM261.2 1064.2h3.9v14.8h-3.9zM347.8 1064.2h3.9v14.8h-3.9zM521.0 1064.2h3.9v14.8h-3.9zM607.5 1064.2h3.9v14.8h-3.9zM362.2 1078.8h3.9v14.8h-3.9zM539.0 1078.8h3.9v14.8h-3.9zM578.7 1078.8h3.9v14.8h-3.9zM582.3 1078.8h3.9v14.8h-3.9zM614.7 1078.8h3.9v14.8h-3.9zM416.3 1093.3h3.9v14.8h-3.9zM492.1 1093.3h3.9v14.8h-3.9zM546.2 1093.3h3.9v14.8h-3.9zM596.7 1093.3h3.9v14.8h-3.9zM409.1 1107.8h3.9v14.8h-3.9zM477.7 1107.8h3.9v14.8h-3.9zM481.3 1107.8h3.9v14.8h-3.9zM401.9 1122.3h3.9v14.8h-3.9zM448.8 1122.3h3.9v14.8h-3.9zM481.3 1122.3h3.9v14.8h-3.9zM499.3 1122.3h3.9v14.8h-3.9zM542.6 1122.3h3.9v14.8h-3.9zM632.8 1122.3h3.9v14.8h-3.9zM304.5 1136.8h3.9v14.8h-3.9zM365.8 1136.8h3.9v14.8h-3.9zM557.0 1136.8h3.9v14.8h-3.9zM279.3 1151.3h3.9v14.8h-3.9zM362.2 1151.3h3.9v14.8h-3.9zM387.5 1151.3h3.9v14.8h-3.9zM412.7 1151.3h3.9v14.8h-3.9zM419.9 1151.3h3.9v14.8h-3.9zM434.4 1151.3h3.9v14.8h-3.9zM488.5 1151.3h3.9v14.8h-3.9zM506.5 1151.3h3.9v14.8h-3.9zM517.3 1151.3h3.9v14.8h-3.9zM542.6 1151.3h3.9v14.8h-3.9zM571.5 1151.3h3.9v14.8h-3.9zM578.7 1151.3h3.9v14.8h-3.9zM636.4 1151.3h3.9v14.8h-3.9z"/>
<path fill="rgb(255,238,233)" d="M160.2 556.4h3.9v14.8h-3.9zM189.1 556.4h3.9v14.8h-3.9zM199.9 556.4h3.9v14.8h-3.9zM254.0 556.4h3.9v14.8h-3.9zM282.9 556.4h3.9v14.8h-3.9zM300.9 556.4h3.9v14.8h-3.9zM326.2 556.4h3.9v14.8h-3.9zM365.8 556.4h3.9v14.8h-3.9zM391.1 556.4h3.9v14.8h-3.9zM401.9 556.4h3.9v14.8h-3.9zM448.8 556.4h3.9v14.8h-3.9zM513.7 556.4h3.9v14.8h-3.9zM553.4 556.4h3.9v14.8h-3.9zM625.6 556.4h3.9v14.8h-3.9zM196.3 570.9h3.9v14.8h-3.9zM236.0 570.9h3.9v14.8h-3.9zM243.2 570.9h3.9v14.8h-3.9zM257.6 570.9h3.9v14.8h-3.9zM275.6 570.9h3.9v14.8h-3.9zM438.0 570.9h3.9v14.8h-3.9zM510.1 570.9h3.9v14.8h-3.9zM521.0 570.9h3.9v14.8h-3.9zM593.1 570.9h3.9v14.8h-3.9zM600.3 570.9h3.9v14.8h-3.9zM622.0 570.9h3.9v14.8h-3.9zM181.9 585.4h3.9v14.8h-3.9zM236.0 585.4h3.9v14.8h-3.9zM326.2 585.4h3.9v14.8h-3.9zM383.9 585.4h3.9v14.8h-3.9zM387.5 585.4h3.9v14.8h-3.9zM470.4 585.4h3.9v14.8h-3.9zM484.9 585.4h3.9v14.8h-3.9zM495.7 585.4h3.9v14.8h-3.9zM499.3 585.4h3.9v14.8h-3.9zM549.8 585.4h3.9v14.8h-3.9zM560.6 585.4h3.9v14.8h-3.9zM575.1 585.4h3.9v14.8h-3.9zM622.0 585.4h3.9v14.8h-3.9zM178.2 599.9h3.9v14.8h-3.9zM282.9 599.9h3.9v14.8h-3.9zM290.1 599.9h3.9v14.8h-3.9zM311.7 599.9h3.9v14.8h-3.9zM329.8 599.9h3.9v14.8h-3.9zM387.5 599.9h3.9v14.8h-3.9zM423.6 599.9h3.9v14.8h-3.9zM434.4 599.9h3.9v14.8h-3.9zM438.0 599.9h3.9v14.8h-3.9zM542.6 599.9h3.9v14.8h-3.9zM553.4 599.9h3.9v14.8h-3.9zM557.0 599.9h3.9v14.8h-3.9zM578.7 599.9h3.9v14.8h-3.9zM160.2 614.4h3.9v14.8h-3.9zM171.0 614.4h3.9v14.8h-3.9zM221.5 614.4h3.9v14.8h-3.9zM329.8 614.4h3.9v14.8h-3.9zM416.3 614.4h3.9v14.8h-3.9zM470.4 614.4h3.9v14.8h-3.9zM531.8 614.4h3.9v14.8h-3.9zM636.4 614.4h3.9v14.8h-3.9zM477.7 628.9h3.9v14.8h-3.9zM488.5 628.9h3.9v14.8h-3.9zM629.2 628.9h3.9v14.8h-3.9zM196.3 643.5h3.9v14.8h-3.9zM203.5 643.5h3.9v14.8h-3.9zM243.2 643.5h3.9v14.8h-3.9zM264.8 643.5h3.9v14.8h-3.9zM304.5 643.5h3.9v14.8h-3.9zM510.1 643.5h3.9v14.8h-3.9zM521.0 643.5h3.9v14.8h-3.9zM553.4 643.5h3.9v14.8h-3.9zM593.1 643.5h3.9v14.8h-3.9zM600.3 643.5h3.9v14.8h-3.9zM622.0 643.5h3.9v14.8h-3.9zM189.1 658.0h3.9v14.8h-3.9zM239.6 658.0h3.9v14.8h-3.9zM272.0 658.0h3.9v14.8h-3.9zM326.2 658.0h3.9v14.8h-3.9zM351.4 658.0h3.9v14.8h-3.9zM419.9 658.0h3.9v14.8h-3.9zM438.0 658.0h3.9v14.8h-3.9zM557.0 658.0h3.9v14.8h-3.9zM603.9 658.0h3.9v14.8h-3.9zM625.6 658.0h3.9v14.8h-3.9zM636.4 658.0h3.9v14.8h-3.9zM199.9 672.5h3.9v14.8h-3.9zM275.6 672.5h3.9v14.8h-3.9zM416.3 672.5h3.9v14.8h-3.9zM434.4 672.5h3.9v14.8h-3.9zM488.5 672.5h3.9v14.8h-3.9zM492.1 672.5h3.9v14.8h-3.9zM564.2 672.5h3.9v14.8h-3.9zM611.1 672.5h3.9v14.8h-3.9zM214.3 687.0h3.9v14.8h-3.9zM243.2 687.0h3.9v14.8h-3.9zM250.4 687.0h3.9v14.8h-3.9zM293.7 687.0h3.9v14.8h-3.9zM380.3 687.0h3.9v14.8h-3.9zM448.8 687.0h3.9v14.8h-3.9zM539.0 687.0h3.9v14.8h-3.9zM614.7 687.0h3.9v14.8h-3.9zM174.6 701.5h3.9v14.8h-3.9zM181.9 701.5h3.9v14.8h-3.9zM199.9 701.5h3.9v14.8h-3.9zM210.7 701.5h3.9v14.8h-3.9zM214.3 701.5h3.9v14.8h-3.9zM268.4 701.5h3.9v14.8h-3.9zM282.9 701.5h3.9v14.8h-3.9zM329.8 701.5h3.9v14.8h-3.9zM358.6 701.5h3.9v14.8h-3.9zM463.2 701.5h3.9v14.8h-3.9zM589.5 701.5h3.9v14.8h-3.9zM625.6 701.5h3.9v14.8h-3.9zM632.8 701.5h3.9v14.8h-3.9zM199.9 716.0h3.9v14.8h-3.9zM210.7 716.0h3.9v14.8h-3.9zM214.3 716.0h3.9v14.8h-3.9zM250.4 716.0h3.9v14.8h-3.9zM290.1 716.0h3.9v14.8h-3.9zM293.7 716.0h3.9v14.8h-3.9zM337.0 716.0h3.9v14.8h-3.9zM394.7 716.0h3.9v14.8h-3.9zM452.4 716.0h3.9v14.8h-3.9zM524.6 716.0h3.9v14.8h-3.9zM553.4 716.0h3.9v14.8h-3.9zM582.3 716.0h3.9v14.8h-3.9zM167.4 730.5h3.9v14.8h-3.9zM282.9 730.5h3.9v14.8h-3.9zM311.7 730.5h3.9v14.8h-3.9zM315.3 730.5h3.9v14.8h-3.9zM405.5 730.5h3.9v14.8h-3.9zM423.6 730.5h3.9v14.8h-3.9zM513.7 730.5h3.9v14.8h-3.9zM239.6 745.0h3.9v14.8h-3.9zM275.6 745.0h3.9v14.8h-3.9zM344.2 745.0h3.9v14.8h-3.9zM409.1 745.0h3.9v14.8h-3.9zM445.2 745.0h3.9v14.8h-3.9zM459.6 745.0h3.9v14.8h-3.9zM463.2 745.0h3.9v14.8h-3.9zM484.9 745.0h3.9v14.8h-3.9zM502.9 745.0h3.9v14.8h-3.9zM531.8 745.0h3.9v14.8h-3.9zM546.2 745.0h3.9v14.8h-3.9zM578.7 745.0h3.9v14.8h-3.9zM607.5 745.0h3.9v14.8h-3.9zM625.6 745.0h3.9v14.8h-3.9zM315.3 759.5h3.9v14.8h-3.9zM322.5 759.5h3.9v14.8h-3.9zM329.8 759.5h3.9v14.8h-3.9zM347.8 759.5h3.9v14.8h-3.9zM376.7 759.5h3.9v14.8h-3.9zM524.6 759.5h3.9v14.8h-3.9zM549.8 759.5h3.9v14.8h-3.9zM575.1 759.5h3.9v14.8h-3.9zM607.5 759.5h3.9v14.8h-3.9zM163.8 774.0h3.9v14.8h-3.9zM279.3 774.0h3.9v14.8h-3.9zM282.9 774.0h3.9v14.8h-3.9zM304.5 774.0h3.9v14.8h-3.9zM380.3 774.0h3.9v14.8h-3.9zM383.9 774.0h3.9v14.8h-3.9zM409.1 774.0h3.9v14.8h-3.9zM459.6 774.0h3.9v14.8h-3.9zM484.9 774.0h3.9v14.8h-3.9zM535.4 774.0h3.9v14.8h-3.9zM542.6 774.0h3.9v14.8h-3.9zM564.2 774.0h3.9v14.8h-3.9zM611.1 774.0h3.9v14.8h-3.9zM618.4 774.0h3.9v14.8h-3.9zM250.4 788.6h3.9v14.8h-3.9zM261.2 788.6h3.9v14.8h-3.9zM297.3 788.6h3.9v14.8h-3.9zM300.9 788.6h3.9v14.8h-3.9zM333.4 788.6h3.9v14.8h-3.9zM376.7 788.6h3.9v14.8h-3.9zM380.3 788.6h3.9v14.8h-3.9zM387.5 788.6h3.9v14.8h-3.9zM423.6 788.6h3.9v14.8h-3.9zM441.6 788.6h3.9v14.8h-3.9zM492.1 788.6h3.9v14.8h-3.9zM531.8 788.6h3.9v14.8h-3.9zM535.4 788.6h3.9v14.8h-3.9zM560.6 788.6h3.9v14.8h-3.9zM365.8 803.1h3.9v14.8h-3.9zM387.5 803.1h3.9v14.8h-3.9zM427.2 803.1h3.9v14.8h-3.9zM470.4 803.1h3.9v14.8h-3.9zM517.3 803.1h3.9v14.8h-3.9zM528.2 803.1h3.9v14.8h-3.9zM535.4 803.1h3.9v14.8h-3.9zM553.4 803.1h3.9v14.8h-3.9zM589.5 803.1h3.9v14.8h-3.9zM596.7 803.1h3.9v14.8h-3.9zM614.7 803.1h3.9v14.8h-3.9zM636.4 803.1h3.9v14.8h-3.9zM163.8 817.6h3.9v14.8h-3.9zM261.2 817.6h3.9v14.8h-3.9zM297.3 817.6h3.9v14.8h-3.9zM376.7 817.6h3.9v14.8h-3.9zM427.2 817.6h3.9v14.8h-3.9zM434.4 817.6h3.9v14.8h-3.9zM492.1 817.6h3.9v14.8h-3.9zM513.7 817.6h3.9v14.8h-3.9zM528.2 817.6h3.9v14.8h-3.9zM535.4 817.6h3.9v14.8h-3.9zM542.6 817.6h3.9v14.8h-3.9zM553.4 817.6h3.9v14.8h-3.9zM603.9 817.6h3.9v14.8h-3.9zM279.3 832.1h3.9v14.8h-3.9zM308.1 832.1h3.9v14.8h-3.9zM329.8 832.1h3.9v14.8h-3.9zM391.1 832.1h3.9v14.8h-3.9zM535.4 832.1h3.9v14.8h-3.9zM539.0 832.1h3.9v14.8h-3.9zM560.6 832.1h3.9v14.8h-3.9zM567.9 832.1h3.9v14.8h-3.9zM632.8 832.1h3.9v14.8h-3.9zM167.4 846.6h3.9v14.8h-3.9zM196.3 846.6h3.9v14.8h-3.9zM326.2 846.6h3.9v14.8h-3.9zM427.2 846.6h3.9v14.8h-3.9zM492.1 846.6h3.9v14.8h-3.9zM499.3 846.6h3.9v14.8h-3.9zM603.9 846.6h3.9v14.8h-3.9zM636.4 846.6h3.9v14.8h-3.9zM358.6 861.1h3.9v14.8h-3.9zM401.9 861.1h3.9v14.8h-3.9zM434.4 861.1h3.9v14.8h-3.9zM445.2 861.1h3.9v14.8h-3.9zM474.1 861.1h3.9v14.8h-3.9zM510.1 861.1h3.9v14.8h-3.9zM535.4 861.1h3.9v14.8h-3.9zM196.3 875.6h3.9v14.8h-3.9zM297.3 875.6h3.9v14.8h-3.9zM358.6 875.6h3.9v14.8h-3.9zM401.9 875.6h3.9v14.8h-3.9zM564.2 875.6h3.9v14.8h-3.9zM582.3 875.6h3.9v14.8h-3.9zM618.4 875.6h3.9v14.8h-3.9zM315.3 890.1h3.9v14.8h-3.9zM369.4 890.1h3.9v14.8h-3.9zM373.0 890.1h3.9v14.8h-3.9zM456.0 890.1h3.9v14.8h-3.9zM499.3 890.1h3.9v14.8h-3.9zM535.4 890.1h3.9v14.8h-3.9zM539.0 890.1h3.9v14.8h-3.9zM553.4 890.1h3.9v14.8h-3.9zM596.7 890.1h3.9v14.8h-3.9zM636.4 890.1h3.9v14.8h-3.9zM275.6 904.6h3.9v14.8h-3.9zM293.7 904.6h3.9v14.8h-3.9zM322.5 904.6h3.9v14.8h-3.9zM337.0 904.6h3.9v14.8h-3.9zM376.7 904.6h3.9v14.8h-3.9zM394.7 904.6h3.9v14.8h-3.9zM427.2 904.6h3.9v14.8h-3.9zM459.6 904.6h3.9v14.8h-3.9zM564.2 904.6h3.9v14.8h-3.9zM578.7 904.6h3.9v14.8h-3.9zM589.5 904.6h3.9v14.8h-3.9zM614.7 904.6h3.9v14.8h-3.9zM326.2 919.1h3.9v14.8h-3.9zM394.7 919.1h3.9v14.8h-3.9zM448.8 919.1h3.9v14.8h-3.9zM456.0 919.1h3.9v14.8h-3.9zM466.8 919.1h3.9v14.8h-3.9zM506.5 919.1h3.9v14.8h-3.9zM304.5 933.7h3.9v14.8h-3.9zM322.5 933.7h3.9v14.8h-3.9zM394.7 933.7h3.9v14.8h-3.9zM517.3 933.7h3.9v14.8h-3.9zM557.0 933.7h3.9v14.8h-3.9zM560.6 933.7h3.9v14.8h-3.9zM614.7 933.7h3.9v14.8h-3.9zM625.6 933.7h3.9v14.8h-3.9zM156.6 948.2h3.9v14.8h-3.9zM304.5 948.2h3.9v14.8h-3.9zM308.1 948.2h3.9v14.8h-3.9zM326.2 948.2h3.9v14.8h-3.9zM351.4 948.2h3.9v14.8h-3.9zM355.0 948.2h3.9v14.8h-3.9zM401.9 948.2h3.9v14.8h-3.9zM427.2 948.2h3.9v14.8h-3.9zM492.1 948.2h3.9v14.8h-3.9zM506.5 948.2h3.9v14.8h-3.9zM553.4 948.2h3.9v14.8h-3.9zM160.2 962.7h3.9v14.8h-3.9zM337.0 962.7h3.9v14.8h-3.9zM347.8 962.7h3.9v14.8h-3.9zM466.8 962.7h3.9v14.8h-3.9zM470.4 962.7h3.9v14.8h-3.9zM510.1 962.7h3.9v14.8h-3.9zM593.1 962.7h3.9v14.8h-3.9zM614.7 962.7h3.9v14.8h-3.9zM329.8 977.2h3.9v14.8h-3.9zM337.0 977.2h3.9v14.8h-3.9zM412.7 977.2h3.9v14.8h-3.9zM517.3 977.2h3.9v14.8h-3.9zM578.7 977.2h3.9v14.8h-3.9zM196.3 991.7h3.9v14.8h-3.9zM199.9 991.7h3.9v14.8h-3.9zM351.4 991.7h3.9v14.8h-3.9zM391.1 991.7h3.9v14.8h-3.9zM398.3 991.7h3.9v14.8h-3.9zM445.2 991.7h3.9v14.8h-3.9zM492.1 991.7h3.9v14.8h-3.9zM531.8 991.7h3.9v14.8h-3.9zM542.6 991.7h3.9v14.8h-3.9zM600.3 991.7h3.9v14.8h-3.9zM167.4 1006.2h3.9v14.8h-3.9zM311.7 1006.2h3.9v14.8h-3.9zM344.2 1006.2h3.9v14.8h-3.9zM347.8 1006.2h3.9v14.8h-3.9zM362.2 1006.2h3.9v14.8h-3.9zM398.3 1006.2h3.9v14.8h-3.9zM405.5 1006.2h3.9v14.8h-3.9zM412.7 1006.2h3.9v14.8h-3.9zM423.6 1006.2h3.9v14.8h-3.9zM463.2 1006.2h3.9v14.8h-3.9zM481.3 1006.2h3.9v14.8h-3.9zM510.1 1006.2h3.9v14.8h-3.9zM535.4 1006.2h3.9v14.8h-3.9zM578.7 1006.2h3.9v14.8h-3.9zM611.1 1006.2h3.9v14.8h-3.9zM618.4 1006.2h3.9v14.8h-3.9zM275.6 1020.7h3.9v14.8h-3.9zM282.9 1020.7h3.9v14.8h-3.9zM308.1 1020.7h3.9v14.8h-3.9zM311.7 1020.7h3.9v14.8h-3.9zM315.3 1020.7h3.9v14.8h-3.9zM322.5 1020.7h3.9v14.8h-3.9zM333.4 1020.7h3.9v14.8h-3.9zM344.2 1020.7h3.9v14.8h-3.9zM355.0 1020.7h3.9v14.8h-3.9zM362.2 1020.7h3.9v14.8h-3.9zM376.7 1020.7h3.9v14.8h-3.9zM434.4 1020.7h3.9v14.8h-3.9zM452.4 1020.7h3.9v14.8h-3.9zM477.7 1020.7h3.9v14.8h-3.9zM502.9 1020.7h3.9v14.8h-3.9zM528.2 1020.7h3.9v14.8h-3.9zM582.3 1020.7h3.9v14.8h-3.9zM589.5 1020.7h3.9v14.8h-3.9zM279.3 1035.2h3.9v14.8h-3.9zM286.5 1035.2h3.9v14.8h-3.9zM340.6 1035.2h3.9v14.8h-3.9zM344.2 1035.2h3.9v14.8h-3.9zM362.2 1035.2h3.9v14.8h-3.9zM365.8 1035.2h3.9v14.8h-3.9zM405.5 1035.2h3.9v14.8h-3.9zM412.7 1035.2h3.9v14.8h-3.9zM419.9 1035.2h3.9v14.8h-3.9zM456.0 1035.2h3.9v14.8h-3.9zM477.7 1035.2h3.9v14.8h-3.9zM528.2 1035.2h3.9v14.8h-3.9zM564.2 1035.2h3.9v14.8h-3.9zM567.9 1035.2h3.9v14.8h-3.9zM596.7 1035.2h3.9v14.8h-3.9zM600.3 1035.2h3.9v14.8h-3.9zM625.6 1035.2h3.9v14.8h-3.9zM315.3 1049.7h3.9v14.8h-3.9zM391.1 1049.7h3.9v14.8h-3.9zM394.7 1049.7h3.9v14.8h-3.9zM423.6 1049.7h3.9v14.8h-3.9zM474.1 1049.7h3.9v14.8h-3.9zM510.1 1049.7h3.9v14.8h-3.9zM546.2 1049.7h3.9v14.8h-3.9zM210.7 1064.2h3.9v14.8h-3.9zM322.5 1064.2h3.9v14.8h-3.9zM351.4 1064.2h3.9v14.8h-3.9zM369.4 1064.2h3.9v14.8h-3.9zM456.0 1064.2h3.9v14.8h-3.9zM488.5 1064.2h3.9v14.8h-3.9zM603.9 1064.2h3.9v14.8h-3.9zM622.0 1064.2h3.9v14.8h-3.9zM257.6 1078.8h3.9v14.8h-3.9zM290.1 1078.8h3.9v14.8h-3.9zM416.3 1078.8h3.9v14.8h-3.9zM448.8 1078.8h3.9v14.8h-3.9zM488.5 1078.8h3.9v14.8h-3.9zM531.8 1078.8h3.9v14.8h-3.9zM607.5 1078.8h3.9v14.8h-3.9zM383.9 1093.3h3.9v14.8h-3.9zM481.3 1093.3h3.9v14.8h-3.9zM567.9 1093.3h3.9v14.8h-3.9zM582.3 1093.3h3.9v14.8h-3.9zM199.9 1107.8h3.9v14.8h-3.9zM344.2 1107.8h3.9v14.8h-3.9zM362.2 1107.8h3.9v14.8h-3.9zM380.3 1107.8h3.9v14.8h-3.9zM452.4 1107.8h3.9v14.8h-3.9zM459.6 1107.8h3.9v14.8h-3.9zM463.2 1107.8h3.9v14.8h-3.9zM474.1 1107.8h3.9v14.8h-3.9zM549.8 1107.8h3.9v14.8h-3.9zM575.1 1107.8h3.9v14.8h-3.9zM614.7 1107.8h3.9v14.8h-3.9zM629.2 1107.8h3.9v14.8h-3.9zM156.6 1122.3h3.9v14.8h-3.9zM250.4 1122.3h3.9v14.8h-3.9zM282.9 1122.3h3.9v14.8h-3.9zM286.5 1122.3h3.9v14.8h-3.9zM293.7 1122.3h3.9v14.8h-3.9zM315.3 1122.3h3.9v14.8h-3.9zM333.4 1122.3h3.9v14.8h-3.9zM355.0 1122.3h3.9v14.8h-3.9zM373.0 1122.3h3.9v14.8h-3.9zM383.9 1122.3h3.9v14.8h-3.9zM412.7 1122.3h3.9v14.8h-3.9zM416.3 1122.3h3.9v14.8h-3.9zM423.6 1122.3h3.9v14.8h-3.9zM513.7 1122.3h3.9v14.8h-3.9zM524.6 1122.3h3.9v14.8h-3.9zM571.5 1122.3h3.9v14.8h-3.9zM622.0 1122.3h3.9v14.8h-3.9zM636.4 1122.3h3.9v14.8h-3.9zM290.1 1136.8h3.9v14.8h-3.9zM383.9 1136.8h3.9v14.8h-3.9zM416.3 1136.8h3.9v14.8h-3.9zM423.6 1136.8h3.9v14.8h-3.9zM470.4 1136.8h3.9v14.8h-3.9zM524.6 1136.8h3.9v14.8h-3.9zM607.5 1136.8h3.9v14.8h-3.9zM636.4 1136.8h3.9v14.8h-3.9zM174.6 1151.3h3.9v14.8h-3.9zM243.2 1151.3h3.9v14.8h-3.9zM318.9 1151.3h3.9v14.8h-3.9zM340.6 1151.3h3.9v14.8h-3.9zM358.6 1151.3h3.9v14.8h-3.9zM365.8 1151.3h3.9v14.8h-3.9zM441.6 1151.3h3.9v14.8h-3.9zM499.3 1151.3h3.9v14.8h-3.9zM528.2 1151.3h3.9v14.8h-3.9zM582.3 1151.3h3.9v14.8h-3.9zM611.1 1151.3h3.9v14.8h-3.9z"/>
<path fill="rgb(255,221,211)" d="M167.4 556.4h3.9v14.8h-3.9zM257.6 556.4h3.9v14.8h-3.9zM261.2 556.4h3.9v14.8h-3.9zM340.6 556.4h3.9v14.8h-3.9zM488.5 556.4h3.9v14.8h-3.9zM517.3 556.4h3.9v14.8h-3.9zM549.8 556.4h3.9v14.8h-3.9zM185.5 570.9h3.9v14.8h-3.9zM214.3 570.9h3.9v14.8h-3.9zM239.6 570.9h3.9v14.8h-3.9zM380.3 570.9h3.9v14.8h-3.9zM481.3 570.9h3.9v14.8h-3.9zM524.6 570.9h3.9v14.8h-3.9zM557.0 570.9h3.9v14.8h-3.9zM171.0 585.4h3.9v14.8h-3.9zM185.5 585.4h3.9v14.8h-3.9zM189.1 585.4h3.9v14.8h-3.9zM203.5 585.4h3.9v14.8h-3.9zM221.5 585.4h3.9v14.8h-3.9zM416.3 585.4h3.9v14.8h-3.9zM481.3 585.4h3.9v14.8h-3.9zM567.9 585.4h3.9v14.8h-3.9zM582.3 585.4h3.9v14.8h-3.9zM618.4 585.4h3.9v14.8h-3.9zM189.1 599.9h3.9v14.8h-3.9zM196.3 599.9h3.9v14.8h-3.9zM199.9 599.9h3.9v14.8h-3.9zM221.5 599.9h3.9v14.8h-3.9zM228.7 599.9h3.9v14.8h-3.9zM246.8 599.9h3.9v14.8h-3.9zM333.4 599.9h3.9v14.8h-3.9zM344.2 599.9h3.9v14.8h-3.9zM477.7 599.9h3.9v14.8h-3.9zM492.1 599.9h3.9v14.8h-3.9zM611.1 599.9h3.9v14.8h-3.9zM156.6 614.4h3.9v14.8h-3.9zM203.5 614.4h3.9v14.8h-3.9zM246.8 614.4h3.9v14.8h-3.9zM311.7 614.4h3.9v14.8h-3.9zM337.0 614.4h3.9v14.8h-3.9zM362.2 614.4h3.9v14.8h-3.9zM477.7 614.4h3.9v14.8h-3.9zM481.3 614.4h3.9v14.8h-3.9zM589.5 614.4h3.9v14.8h-3.9zM160.2 628.9h3.9v14.8h-3.9zM163.8 628.9h3.9v14.8h-3.9zM199.9 628.9h3.9v14.8h-3.9zM243.2 628.9h3.9v14.8h-3.9zM286.5 628.9h3.9v14.8h-3.9zM391.1 628.9h3.9v14.8h-3.9zM427.2 628.9h3.9v14.8h-3.9zM459.6 628.9h3.9v14.8h-3.9zM495.7 628.9h3.9v14.8h-3.9zM549.8 628.9h3.9v14.8h-3.9zM589.5 628.9h3.9v14.8h-3.9zM268.4 643.5h3.9v14.8h-3.9zM322.5 643.5h3.9v14.8h-3.9zM326.2 643.5h3.9v14.8h-3.9zM329.8 643.5h3.9v14.8h-3.9zM409.1 643.5h3.9v14.8h-3.9zM412.7 643.5h3.9v14.8h-3.9zM488.5 643.5h3.9v14.8h-3.9zM611.1 643.5h3.9v14.8h-3.9zM210.7 658.0h3.9v14.8h-3.9zM221.5 658.0h3.9v14.8h-3.9zM228.7 658.0h3.9v14.8h-3.9zM236.0 658.0h3.9v14.8h-3.9zM257.6 658.0h3.9v14.8h-3.9zM264.8 658.0h3.9v14.8h-3.9zM322.5 658.0h3.9v14.8h-3.9zM333.4 658.0h3.9v14.8h-3.9zM358.6 658.0h3.9v14.8h-3.9zM456.0 658.0h3.9v14.8h-3.9zM156.6 672.5h3.9v14.8h-3.9zM167.4 672.5h3.9v14.8h-3.9zM257.6 672.5h3.9v14.8h-3.9zM207.1 687.0h3.9v14.8h-3.9zM221.5 687.0h3.9v14.8h-3.9zM225.1 687.0h3.9v14.8h-3.9zM257.6 687.0h3.9v14.8h-3.9zM268.4 687.0h3.9v14.8h-3.9zM286.5 687.0h3.9v14.8h-3.9zM308.1 687.0h3.9v14.8h-3.9zM401.9 687.0h3.9v14.8h-3.9zM477.7 687.0h3.9v14.8h-3.9zM492.1 687.0h3.9v14.8h-3.9zM560.6 687.0h3.9v14.8h-3.9zM217.9 701.5h3.9v14.8h-3.9zM225.1 701.5h3.9v14.8h-3.9zM257.6 701.5h3.9v14.8h-3.9zM337.0 701.5h3.9v14.8h-3.9zM344.2 701.5h3.9v14.8h-3.9zM409.1 701.5h3.9v14.8h-3.9zM452.4 701.5h3.9v14.8h-3.9zM510.1 701.5h3.9v14.8h-3.9zM593.1 701.5h3.9v14.8h-3.9zM596.7 701.5h3.9v14.8h-3.9zM600.3 701.5h3.9v14.8h-3.9zM167.4 716.0h3.9v14.8h-3.9zM174.6 716.0h3.9v14.8h-3.9zM181.9 716.0h3.9v14.8h-3.9zM243.2 716.0h3.9v14.8h-3.9zM268.4 716.0h3.9v14.8h-3.9zM275.6 716.0h3.9v14.8h-3.9zM344.2 716.0h3.9v14.8h-3.9zM495.7 716.0h3.9v14.8h-3.9zM575.1 716.0h3.9v14.8h-3.9zM236.0 730.5h3.9v14.8h-3.9zM369.4 730.5h3.9v14.8h-3.9zM398.3 730.5h3.9v14.8h-3.9zM427.2 730.5h3.9v14.8h-3.9zM438.0 730.5h3.9v14.8h-3.9zM448.8 730.5h3.9v14.8h-3.9zM459.6 730.5h3.9v14.8h-3.9zM521.0 730.5h3.9v14.8h-3.9zM293.7 745.0h3.9v14.8h-3.9zM300.9 745.0h3.9v14.8h-3.9zM495.7 745.0h3.9v14.8h-3.9zM513.7 745.0h3.9v14.8h-3.9zM585.9 745.0h3.9v14.8h-3.9zM636.4 745.0h3.9v14.8h-3.9zM275.6 759.5h3.9v14.8h-3.9zM300.9 759.5h3.9v14.8h-3.9zM380.3 759.5h3.9v14.8h-3.9zM394.7 759.5h3.9v14.8h-3.9zM430.8 759.5h3.9v14.8h-3.9zM438.0 759.5h3.9v14.8h-3.9zM484.9 759.5h3.9v14.8h-3.9zM614.7 759.5h3.9v14.8h-3.9zM185.5 774.0h3.9v14.8h-3.9zM322.5 774.0h3.9v14.8h-3.9zM326.2 774.0h3.9v14.8h-3.9zM510.1 774.0h3.9v14.8h-3.9zM528.2 774.0h3.9v14.8h-3.9zM571.5 774.0h3.9v14.8h-3.9zM629.2 774.0h3.9v14.8h-3.9zM167.4 788.6h3.9v14.8h-3.9zM236.0 788.6h3.9v14.8h-3.9zM257.6 788.6h3.9v14.8h-3.9zM419.9 788.6h3.9v14.8h-3.9zM474.1 788.6h3.9v14.8h-3.9zM510.1 788.6h3.9v14.8h-3.9zM542.6 788.6h3.9v14.8h-3.9zM564.2 788.6h3.9v14.8h-3.9zM596.7 788.6h3.9v14.8h-3.9zM607.5 788.6h3.9v14.8h-3.9zM611.1 788.6h3.9v14.8h-3.9zM614.7 788.6h3.9v14.8h-3.9zM337.0 803.1h3.9v14.8h-3.9zM340.6 803.1h3.9v14.8h-3.9zM383.9 803.1h3.9v14.8h-3.9zM524.6 803.1h3.9v14.8h-3.9zM531.8 803.1h3.9v14.8h-3.9zM539.0 803.1h3.9v14.8h-3.9zM571.5 803.1h3.9v14.8h-3.9zM632.8 803.1h3.9v14.8h-3.9zM282.9 817.6h3.9v14.8h-3.9zM293.7 817.6h3.9v14.8h-3.9zM380.3 817.6h3.9v14.8h-3.9zM470.4 817.6h3.9v14.8h-3.9zM488.5 817.6h3.9v14.8h-3.9zM531.8 817.6h3.9v14.8h-3.9zM557.0 817.6h3.9v14.8h-3.9zM571.5 817.6h3.9v14.8h-3.9zM163.8 832.1h3.9v14.8h-3.9zM192.7 832.1h3.9v14.8h-3.9zM250.4 832.1h3.9v14.8h-3.9zM293.7 832.1h3.9v14.8h-3.9zM300.9 832.1h3.9v14.8h-3.9zM322.5 832.1h3.9v14.8h-3.9zM398.3 832.1h3.9v14.8h-3.9zM441.6 832.1h3.9v14.8h-3.9zM459.6 832.1h3.9v14.8h-3.9zM492.1 832.1h3.9v14.8h-3.9zM495.7 832.1h3.9v14.8h-3.9zM499.3 832.1h3.9v14.8h-3.9zM531.8 832.1h3.9v14.8h-3.9zM549.8 832.1h3.9v14.8h-3.9zM564.2 832.1h3.9v14.8h-3.9zM571.5 832.1h3.9v14.8h-3.9zM582.3 832.1h3.9v14.8h-3.9zM279.3 846.6h3.9v14.8h-3.9zM344.2 846.6h3.9v14.8h-3.9zM470.4 846.6h3.9v14.8h-3.9zM474.1 846.6h3.9v14.8h-3.9zM506.5 846.6h3.9v14.8h-3.9zM553.4 846.6h3.9v14.8h-3.9zM625.6 846.6h3.9v14.8h-3.9zM355.0 861.1h3.9v14.8h-3.9zM383.9 861.1h3.9v14.8h-3.9zM448.8 861.1h3.9v14.8h-3.9zM463.2 861.1h3.9v14.8h-3.9zM484.9 861.1h3.9v14.8h-3.9zM531.8 861.1h3.9v14.8h-3.9zM250.4 875.6h3.9v14.8h-3.9zM282.9 875.6h3.9v14.8h-3.9zM351.4 875.6h3.9v14.8h-3.9zM365.8 875.6h3.9v14.8h-3.9zM466.8 875.6h3.9v14.8h-3.9zM492.1 875.6h3.9v14.8h-3.9zM513.7 875.6h3.9v14.8h-3.9zM593.1 875.6h3.9v14.8h-3.9zM290.1 890.1h3.9v14.8h-3.9zM297.3 890.1h3.9v14.8h-3.9zM365.8 890.1h3.9v14.8h-3.9zM412.7 890.1h3.9v14.8h-3.9zM434.4 890.1h3.9v14.8h-3.9zM438.0 890.1h3.9v14.8h-3.9zM463.2 890.1h3.9v14.8h-3.9zM549.8 890.1h3.9v14.8h-3.9zM315.3 904.6h3.9v14.8h-3.9zM398.3 904.6h3.9v14.8h-3.9zM412.7 904.6h3.9v14.8h-3.9zM423.6 904.6h3.9v14.8h-3.9zM448.8 904.6h3.9v14.8h-3.9zM456.0 904.6h3.9v14.8h-3.9zM499.3 904.6h3.9v14.8h-3.9zM553.4 904.6h3.9v14.8h-3.9zM557.0 904.6h3.9v14.8h-3.9zM254.0 919.1h3.9v14.8h-3.9zM286.5 919.1h3.9v14.8h-3.9zM293.7 919.1h3.9v14.8h-3.9zM315.3 919.1h3.9v14.8h-3.9zM322.5 919.1h3.9v14.8h-3.9zM355.0 919.1h3.9v14.8h-3.9zM474.1 919.1h3.9v14.8h-3.9zM546.2 919.1h3.9v14.8h-3.9zM560.6 919.1h3.9v14.8h-3.9zM611.1 919.1h3.9v14.8h-3.9zM636.4 919.1h3.9v14.8h-3.9zM272.0 933.7h3.9v14.8h-3.9zM611.1 933.7h3.9v14.8h-3.9zM636.4 933.7h3.9v14.8h-3.9zM279.3 948.2h3.9v14.8h-3.9zM293.7 948.2h3.9v14.8h-3.9zM322.5 948.2h3.9v14.8h-3.9zM373.0 948.2h3.9v14.8h-3.9zM387.5 948.2h3.9v14.8h-3.9zM398.3 948.2h3.9v14.8h-3.9zM423.6 948.2h3.9v14.8h-3.9zM456.0 948.2h3.9v14.8h-3.9zM502.9 948.2h3.9v14.8h-3.9zM578.7 948.2h3.9v14.8h-3.9zM593.1 948.2h3.9v14.8h-3.9zM596.7 948.2h3.9v14.8h-3.9zM290.1 962.7h3.9v14.8h-3.9zM308.1 962.7h3.9v14.8h-3.9zM318.9 962.7h3.9v14.8h-3.9zM394.7 962.7h3.9v14.8h-3.9zM441.6 962.7h3.9v14.8h-3.9zM542.6 962.7h3.9v14.8h-3.9zM622.0 962.7h3.9v14.8h-3.9zM629.2 962.7h3.9v14.8h-3.9zM344.2 977.2h3.9v14.8h-3.9zM358.6 977.2h3.9v14.8h-3.9zM459.6 977.2h3.9v14.8h-3.9zM474.1 977.2h3.9v14.8h-3.9zM553.4 977.2h3.9v14.8h-3.9zM614.7 977.2h3.9v14.8h-3.9zM629.2 977.2h3.9v14.8h-3.9zM311.7 991.7h3.9v14.8h-3.9zM333.4 991.7h3.9v14.8h-3.9zM347.8 991.7h3.9v14.8h-3.9zM355.0 991.7h3.9v14.8h-3.9zM401.9 991.7h3.9v14.8h-3.9zM427.2 991.7h3.9v14.8h-3.9zM474.1 991.7h3.9v14.8h-3.9zM488.5 991.7h3.9v14.8h-3.9zM521.0 991.7h3.9v14.8h-3.9zM528.2 991.7h3.9v14.8h-3.9zM557.0 991.7h3.9v14.8h-3.9zM582.3 991.7h3.9v14.8h-3.9zM636.4 991.7h3.9v14.8h-3.9zM416.3 1006.2h3.9v14.8h-3.9zM427.2 1006.2h3.9v14.8h-3.9zM445.2 1006.2h3.9v14.8h-3.9zM401.9 1020.7h3.9v14.8h-3.9zM412.7 1020.7h3.9v14.8h-3.9zM416.3 1020.7h3.9v14.8h-3.9zM474.1 1020.7h3.9v14.8h-3.9zM578.7 1020.7h3.9v14.8h-3.9zM611.1 1020.7h3.9v14.8h-3.9zM452.4 1035.2h3.9v14.8h-3.9zM589.5 1035.2h3.9v14.8h-3.9zM380.3 1049.7h3.9v14.8h-3.9zM401.9 1049.7h3.9v14.8h-3.9zM506.5 1049.7h3.9v14.8h-3.9zM567.9 1049.7h3.9v14.8h-3.9zM575.1 1049.7h3.9v14.8h-3.9zM582.3 1049.7h3.9v14.8h-3.9zM290.1 1064.2h3.9v14.8h-3.9zM329.8 1064.2h3.9v14.8h-3.9zM355.0 1064.2h3.9v14.8h-3.9zM409.1 1064.2h3.9v14.8h-3.9zM448.8 1064.2h3.9v14.8h-3.9zM459.6 1064.2h3.9v14.8h-3.9zM492.1 1064.2h3.9v14.8h-3.9zM531.8 1064.2h3.9v14.8h-3.9zM546.2 1064.2h3.9v14.8h-3.9zM611.1 1064.2h3.9v14.8h-3.9zM629.2 1064.2h3.9v14.8h-3.9zM156.6 1078.8h3.9v14.8h-3.9zM243.2 1078.8h3.9v14.8h-3.9zM344.2 1078.8h3.9v14.8h-3.9zM358.6 1078.8h3.9v14.8h-3.9zM380.3 1078.8h3.9v14.8h-3.9zM434.4 1078.8h3.9v14.8h-3.9zM506.5 1078.8h3.9v14.8h-3.9zM546.2 1078.8h3.9v14.8h-3.9zM585.9 1078.8h3.9v14.8h-3.9zM622.0 1078.8h3.9v14.8h-3.9zM398.3 1093.3h3.9v14.8h-3.9zM427.2 1093.3h3.9v14.8h-3.9zM474.1 1093.3h3.9v14.8h-3.9zM495.7 1093.3h3.9v14.8h-3.9zM506.5 1093.3h3.9v14.8h-3.9zM513.7 1093.3h3.9v14.8h-3.9zM560.6 1093.3h3.9v14.8h-3.9zM564.2 1093.3h3.9v14.8h-3.9zM575.1 1093.3h3.9v14.8h-3.9zM578.7 1093.3h3.9v14.8h-3.9zM293.7 1107.8h3.9v14.8h-3.9zM351.4 1107.8h3.9v14.8h-3.9zM391.1 1107.8h3.9v14.8h-3.9zM470.4 1107.8h3.9v14.8h-3.9zM492.1 1107.8h3.9v14.8h-3.9zM531.8 1107.8h3.9v14.8h-3.9zM632.8 1107.8h3.9v14.8h-3.9zM311.7 1122.3h3.9v14.8h-3.9zM340.6 1122.3h3.9v14.8h-3.9zM351.4 1122.3h3.9v14.8h-3.9zM358.6 1122.3h3.9v14.8h-3.9zM419.9 1122.3h3.9v14.8h-3.9zM492.1 1122.3h3.9v14.8h-3.9zM506.5 1122.3h3.9v14.8h-3.9zM549.8 1122.3h3.9v14.8h-3.9zM600.3 1122.3h3.9v14.8h-3.9zM250.4 1136.8h3.9v14.8h-3.9zM282.9 1136.8h3.9v14.8h-3.9zM340.6 1136.8h3.9v14.8h-3.9zM351.4 1136.8h3.9v14.8h-3.9zM355.0 1136.8h3.9v14.8h-3.9zM376.7 1136.8h3.9v14.8h-3.9zM387.5 1136.8h3.9v14.8h-3.9zM398.3 1136.8h3.9v14.8h-3.9zM401.9 1136.8h3.9v14.8h-3.9zM419.9 1136.8h3.9v14.8h-3.9zM481.3 1136.8h3.9v14.8h-3.9zM546.2 1136.8h3.9v14.8h-3.9zM553.4 1136.8h3.9v14.8h-3.9zM582.3 1136.8h3.9v14.8h-3.9zM618.4 1136.8h3.9v14.8h-3.9zM329.8 1151.3h3.9v14.8h-3.9zM333.4 1151.3h3.9v14.8h-3.9zM438.0 1151.3h3.9v14.8h-3.9zM481.3 1151.3h3.9v14.8h-3.9zM521.0 1151.3h3.9v14.8h-3.9zM557.0 1151.3h3.9v14.8h-3.9zM625.6 1151.3h3.9v14.8h-3.9zM632.8 1151.3h3.9v14.8h-3.9z"/>
<path fill="rgb(255,78,43)" d="M174.6 556.4h3.9v14.8h-3.9zM567.9 556.4h3.9v14.8h-3.9zM264.8 570.9h3.9v14.8h-3.9zM264.8 599.9h3.9v14.8h-3.9zM185.5 614.4h3.9v14.8h-3.9zM189.1 614.4h3.9v14.8h-3.9zM347.8 614.4h3.9v14.8h-3.9zM629.2 614.4h3.9v14.8h-3.9zM203.5 628.9h3.9v14.8h-3.9zM210.7 628.9h3.9v14.8h-3.9zM225.1 628.9h3.9v14.8h-3.9zM239.6 628.9h3.9v14.8h-3.9zM282.9 628.9h3.9v14.8h-3.9zM199.9 643.5h3.9v14.8h-3.9zM416.3 643.5h3.9v14.8h-3.9zM463.2 643.5h3.9v14.8h-3.9zM603.9 643.5h3.9v14.8h-3.9zM174.6 658.0h3.9v14.8h-3.9zM290.1 658.0h3.9v14.8h-3.9zM181.9 672.5h3.9v14.8h-3.9zM232.4 672.5h3.9v14.8h-3.9zM311.7 672.5h3.9v14.8h-3.9zM199.9 687.0h3.9v14.8h-3.9zM239.6 701.5h3.9v14.8h-3.9zM261.2 716.0h3.9v14.8h-3.9zM416.3 716.0h3.9v14.8h-3.9zM600.3 716.0h3.9v14.8h-3.9zM340.6 730.5h3.9v14.8h-3.9zM614.7 730.5h3.9v14.8h-3.9zM160.2 759.5h3.9v14.8h-3.9zM329.8 774.0h3.9v14.8h-3.9zM333.4 774.0h3.9v14.8h-3.9zM596.7 774.0h3.9v14.8h-3.9zM264.8 788.6h3.9v14.8h-3.9zM557.0 788.6h3.9v14.8h-3.9zM297.3 803.1h3.9v14.8h-3.9zM326.2 803.1h3.9v14.8h-3.9zM344.2 817.6h3.9v14.8h-3.9zM178.2 832.1h3.9v14.8h-3.9zM380.3 832.1h3.9v14.8h-3.9zM311.7 846.6h3.9v14.8h-3.9zM355.0 846.6h3.9v14.8h-3.9zM423.6 846.6h3.9v14.8h-3.9zM481.3 846.6h3.9v14.8h-3.9zM578.7 846.6h3.9v14.8h-3.9zM293.7 861.1h3.9v14.8h-3.9zM344.2 861.1h3.9v14.8h-3.9zM369.4 861.1h3.9v14.8h-3.9zM311.7 875.6h3.9v14.8h-3.9zM369.4 875.6h3.9v14.8h-3.9zM423.6 875.6h3.9v14.8h-3.9zM470.4 875.6h3.9v14.8h-3.9zM517.3 875.6h3.9v14.8h-3.9zM549.8 875.6h3.9v14.8h-3.9zM383.9 890.1h3.9v14.8h-3.9zM470.4 890.1h3.9v14.8h-3.9zM351.4 904.6h3.9v14.8h-3.9zM380.3 904.6h3.9v14.8h-3.9zM549.8 904.6h3.9v14.8h-3.9zM622.0 904.6h3.9v14.8h-3.9zM383.9 919.1h3.9v14.8h-3.9zM430.8 919.1h3.9v14.8h-3.9zM495.7 919.1h3.9v14.8h-3.9zM373.0 933.7h3.9v14.8h-3.9zM412.7 933.7h3.9v14.8h-3.9zM416.3 933.7h3.9v14.8h-3.9zM438.0 933.7h3.9v14.8h-3.9zM524.6 933.7h3.9v14.8h-3.9zM347.8 948.2h3.9v14.8h-3.9zM430.8 948.2h3.9v14.8h-3.9zM474.1 948.2h3.9v14.8h-3.9zM495.7 948.2h3.9v14.8h-3.9zM484.9 962.7h3.9v14.8h-3.9zM560.6 962.7h3.9v14.8h-3.9zM596.7 962.7h3.9v14.8h-3.9zM539.0 977.2h3.9v14.8h-3.9zM625.6 977.2h3.9v14.8h-3.9zM423.6 991.7h3.9v14.8h-3.9zM304.5 1035.2h3.9v14.8h-3.9zM427.2 1035.2h3.9v14.8h-3.9zM311.7 1064.2h3.9v14.8h-3.9zM618.4 1064.2h3.9v14.8h-3.9zM391.1 1093.3h3.9v14.8h-3.9zM423.6 1093.3h3.9v14.8h-3.9zM463.2 1093.3h3.9v14.8h-3.9zM355.0 1107.8h3.9v14.8h-3.9zM387.5 1122.3h3.9v14.8h-3.9zM535.4 1122.3h3.9v14.8h-3.9zM625.6 1122.3h3.9v14.8h-3.9zM470.4 1151.3h3.9v14.8h-3.9z"/>
<path fill="rgb(250,52,26)" d="M178.2 556.4h3.9v14.8h-3.9zM589.5 556.4h3.9v14.8h-3.9zM160.2 570.9h3.9v14.8h-3.9zM412.7 599.9h3.9v14.8h-3.9zM214.3 614.4h3.9v14.8h-3.9zM412.7 614.4h3.9v14.8h-3.9zM557.0 614.4h3.9v14.8h-3.9zM355.0 628.9h3.9v14.8h-3.9zM542.6 628.9h3.9v14.8h-3.9zM275.6 643.5h3.9v14.8h-3.9zM207.1 658.0h3.9v14.8h-3.9zM391.1 658.0h3.9v14.8h-3.9zM250.4 672.5h3.9v14.8h-3.9zM268.4 672.5h3.9v14.8h-3.9zM416.3 687.0h3.9v14.8h-3.9zM286.5 701.5h3.9v14.8h-3.9zM365.8 701.5h3.9v14.8h-3.9zM517.3 701.5h3.9v14.8h-3.9zM163.8 716.0h3.9v14.8h-3.9zM189.1 716.0h3.9v14.8h-3.9zM257.6 716.0h3.9v14.8h-3.9zM264.8 716.0h3.9v14.8h-3.9zM434.4 716.0h3.9v14.8h-3.9zM502.9 716.0h3.9v14.8h-3.9zM416.3 730.5h3.9v14.8h-3.9zM636.4 730.5h3.9v14.8h-3.9zM308.1 745.0h3.9v14.8h-3.9zM365.8 759.5h3.9v14.8h-3.9zM560.6 759.5h3.9v14.8h-3.9zM456.0 774.0h3.9v14.8h-3.9zM553.4 774.0h3.9v14.8h-3.9zM308.1 788.6h3.9v14.8h-3.9zM463.2 788.6h3.9v14.8h-3.9zM272.0 803.1h3.9v14.8h-3.9zM308.1 803.1h3.9v14.8h-3.9zM322.5 803.1h3.9v14.8h-3.9zM477.7 803.1h3.9v14.8h-3.9zM600.3 803.1h3.9v14.8h-3.9zM254.0 817.6h3.9v14.8h-3.9zM351.4 846.6h3.9v14.8h-3.9zM383.9 846.6h3.9v14.8h-3.9zM463.2 846.6h3.9v14.8h-3.9zM329.8 861.1h3.9v14.8h-3.9zM430.8 861.1h3.9v14.8h-3.9zM593.1 861.1h3.9v14.8h-3.9zM625.6 875.6h3.9v14.8h-3.9zM430.8 890.1h3.9v14.8h-3.9zM297.3 919.1h3.9v14.8h-3.9zM347.8 919.1h3.9v14.8h-3.9zM484.9 933.7h3.9v14.8h-3.9zM622.0 948.2h3.9v14.8h-3.9zM391.1 962.7h3.9v14.8h-3.9zM430.8 991.7h3.9v14.8h-3.9zM553.4 991.7h3.9v14.8h-3.9zM517.3 1035.2h3.9v14.8h-3.9zM542.6 1035.2h3.9v14.8h-3.9zM629.2 1035.2h3.9v14.8h-3.9zM344.2 1049.7h3.9v14.8h-3.9zM365.8 1049.7h3.9v14.8h-3.9zM438.0 1049.7h3.9v14.8h-3.9zM383.9 1064.2h3.9v14.8h-3.9zM542.6 1064.2h3.9v14.8h-3.9zM383.9 1078.8h3.9v14.8h-3.9zM387.5 1078.8h3.9v14.8h-3.9zM488.5 1093.3h3.9v14.8h-3.9zM290.1 1107.8h3.9v14.8h-3.9zM300.9 1107.8h3.9v14.8h-3.9zM383.9 1107.8h3.9v14.8h-3.9zM506.5 1107.8h3.9v14.8h-3.9zM578.7 1107.8h3.9v14.8h-3.9zM488.5 1136.8h3.9v14.8h-3.9z"/>
<path fill="rgb(255,129,98)" d="M185.5 556.4h3.9v14.8h-3.9zM243.2 556.4h3.9v14.8h-3.9zM250.4 556.4h3.9v14.8h-3.9zM383.9 556.4h3.9v14.8h-3.9zM167.4 570.9h3.9v14.8h-3.9zM225.1 570.9h3.9v14.8h-3.9zM611.1 570.9h3.9v14.8h-3.9zM250.4 585.4h3.9v14.8h-3.9zM380.3 585.4h3.9v14.8h-3.9zM394.7 585.4h3.9v14.8h-3.9zM459.6 585.4h3.9v14.8h-3.9zM210.7 599.9h3.9v14.8h-3.9zM232.4 599.9h3.9v14.8h-3.9zM391.1 599.9h3.9v14.8h-3.9zM405.5 599.9h3.9v14.8h-3.9zM517.3 599.9h3.9v14.8h-3.9zM546.2 599.9h3.9v14.8h-3.9zM163.8 614.4h3.9v14.8h-3.9zM225.1 614.4h3.9v14.8h-3.9zM236.0 614.4h3.9v14.8h-3.9zM495.7 614.4h3.9v14.8h-3.9zM593.1 614.4h3.9v14.8h-3.9zM246.8 628.9h3.9v14.8h-3.9zM257.6 628.9h3.9v14.8h-3.9zM268.4 628.9h3.9v14.8h-3.9zM373.0 628.9h3.9v14.8h-3.9zM416.3 628.9h3.9v14.8h-3.9zM210.7 643.5h3.9v14.8h-3.9zM217.9 643.5h3.9v14.8h-3.9zM250.4 643.5h3.9v14.8h-3.9zM192.7 658.0h3.9v14.8h-3.9zM199.9 658.0h3.9v14.8h-3.9zM304.5 658.0h3.9v14.8h-3.9zM416.3 658.0h3.9v14.8h-3.9zM264.8 672.5h3.9v14.8h-3.9zM463.2 672.5h3.9v14.8h-3.9zM326.2 687.0h3.9v14.8h-3.9zM546.2 687.0h3.9v14.8h-3.9zM603.9 687.0h3.9v14.8h-3.9zM611.1 687.0h3.9v14.8h-3.9zM156.6 701.5h3.9v14.8h-3.9zM236.0 701.5h3.9v14.8h-3.9zM477.7 701.5h3.9v14.8h-3.9zM629.2 701.5h3.9v14.8h-3.9zM192.7 716.0h3.9v14.8h-3.9zM603.9 716.0h3.9v14.8h-3.9zM297.3 730.5h3.9v14.8h-3.9zM412.7 730.5h3.9v14.8h-3.9zM528.2 730.5h3.9v14.8h-3.9zM539.0 730.5h3.9v14.8h-3.9zM347.8 745.0h3.9v14.8h-3.9zM326.2 759.5h3.9v14.8h-3.9zM297.3 774.0h3.9v14.8h-3.9zM308.1 774.0h3.9v14.8h-3.9zM466.8 774.0h3.9v14.8h-3.9zM394.7 788.6h3.9v14.8h-3.9zM481.3 788.6h3.9v14.8h-3.9zM513.7 803.1h3.9v14.8h-3.9zM542.6 803.1h3.9v14.8h-3.9zM275.6 817.6h3.9v14.8h-3.9zM405.5 817.6h3.9v14.8h-3.9zM474.1 817.6h3.9v14.8h-3.9zM539.0 817.6h3.9v14.8h-3.9zM560.6 817.6h3.9v14.8h-3.9zM383.9 832.1h3.9v14.8h-3.9zM575.1 832.1h3.9v14.8h-3.9zM329.8 846.6h3.9v14.8h-3.9zM340.6 861.1h3.9v14.8h-3.9zM495.7 861.1h3.9v14.8h-3.9zM553.4 861.1h3.9v14.8h-3.9zM564.2 861.1h3.9v14.8h-3.9zM600.3 861.1h3.9v14.8h-3.9zM344.2 875.6h3.9v14.8h-3.9zM412.7 875.6h3.9v14.8h-3.9zM430.8 875.6h3.9v14.8h-3.9zM448.8 875.6h3.9v14.8h-3.9zM463.2 875.6h3.9v14.8h-3.9zM510.1 875.6h3.9v14.8h-3.9zM567.9 875.6h3.9v14.8h-3.9zM596.7 875.6h3.9v14.8h-3.9zM347.8 890.1h3.9v14.8h-3.9zM355.0 890.1h3.9v14.8h-3.9zM481.3 890.1h3.9v14.8h-3.9zM632.8 890.1h3.9v14.8h-3.9zM438.0 904.6h3.9v14.8h-3.9zM484.9 919.1h3.9v14.8h-3.9zM430.8 933.7h3.9v14.8h-3.9zM448.8 933.7h3.9v14.8h-3.9zM470.4 933.7h3.9v14.8h-3.9zM553.4 933.7h3.9v14.8h-3.9zM585.9 933.7h3.9v14.8h-3.9zM318.9 948.2h3.9v14.8h-3.9zM625.6 948.2h3.9v14.8h-3.9zM416.3 962.7h3.9v14.8h-3.9zM495.7 962.7h3.9v14.8h-3.9zM636.4 962.7h3.9v14.8h-3.9zM448.8 977.2h3.9v14.8h-3.9zM564.2 977.2h3.9v14.8h-3.9zM589.5 977.2h3.9v14.8h-3.9zM470.4 991.7h3.9v14.8h-3.9zM535.4 991.7h3.9v14.8h-3.9zM398.3 1020.7h3.9v14.8h-3.9zM416.3 1035.2h3.9v14.8h-3.9zM510.1 1035.2h3.9v14.8h-3.9zM593.1 1035.2h3.9v14.8h-3.9zM279.3 1049.7h3.9v14.8h-3.9zM445.2 1049.7h3.9v14.8h-3.9zM484.9 1049.7h3.9v14.8h-3.9zM571.5 1049.7h3.9v14.8h-3.9zM625.6 1049.7h3.9v14.8h-3.9zM502.9 1064.2h3.9v14.8h-3.9zM517.3 1078.8h3.9v14.8h-3.9zM596.7 1078.8h3.9v14.8h-3.9zM539.0 1093.3h3.9v14.8h-3.9zM625.6 1093.3h3.9v14.8h-3.9zM416.3 1107.8h3.9v14.8h-3.9zM495.7 1107.8h3.9v14.8h-3.9zM596.7 1107.8h3.9v14.8h-3.9zM254.0 1122.3h3.9v14.8h-3.9zM369.4 1122.3h3.9v14.8h-3.9zM376.7 1122.3h3.9v14.8h-3.9zM539.0 1122.3h3.9v14.8h-3.9zM560.6 1122.3h3.9v14.8h-3.9zM322.5 1136.8h3.9v14.8h-3.9zM362.2 1136.8h3.9v14.8h-3.9zM510.1 1136.8h3.9v14.8h-3.9zM611.1 1136.8h3.9v14.8h-3.9zM344.2 1151.3h3.9v14.8h-3.9zM416.3 1151.3h3.9v14.8h-3.9zM448.8 1151.3h3.9v14.8h-3.9z"/>
<path fill="rgb(255,202,187)" d="M196.3 556.4h3.9v14.8h-3.9zM217.9 556.4h3.9v14.8h-3.9zM228.7 556.4h3.9v14.8h-3.9zM236.0 556.4h3.9v14.8h-3.9zM246.8 556.4h3.9v14.8h-3.9zM304.5 556.4h3.9v14.8h-3.9zM398.3 556.4h3.9v14.8h-3.9zM430.8 556.4h3.9v14.8h-3.9zM546.2 556.4h3.9v14.8h-3.9zM585.9 556.4h3.9v14.8h-3.9zM593.1 556.4h3.9v14.8h-3.9zM611.1 556.4h3.9v14.8h-3.9zM622.0 556.4h3.9v14.8h-3.9zM217.9 570.9h3.9v14.8h-3.9zM254.0 570.9h3.9v14.8h-3.9zM290.1 570.9h3.9v14.8h-3.9zM340.6 570.9h3.9v14.8h-3.9zM358.6 570.9h3.9v14.8h-3.9zM394.7 570.9h3.9v14.8h-3.9zM448.8 570.9h3.9v14.8h-3.9zM477.7 570.9h3.9v14.8h-3.9zM607.5 570.9h3.9v14.8h-3.9zM214.3 585.4h3.9v14.8h-3.9zM217.9 585.4h3.9v14.8h-3.9zM261.2 585.4h3.9v14.8h-3.9zM275.6 585.4h3.9v14.8h-3.9zM290.1 585.4h3.9v14.8h-3.9zM369.4 585.4h3.9v14.8h-3.9zM373.0 585.4h3.9v14.8h-3.9zM524.6 585.4h3.9v14.8h-3.9zM585.9 585.4h3.9v14.8h-3.9zM614.7 585.4h3.9v14.8h-3.9zM632.8 585.4h3.9v14.8h-3.9zM171.0 599.9h3.9v14.8h-3.9zM236.0 599.9h3.9v14.8h-3.9zM300.9 599.9h3.9v14.8h-3.9zM351.4 599.9h3.9v14.8h-3.9zM355.0 599.9h3.9v14.8h-3.9zM416.3 599.9h3.9v14.8h-3.9zM427.2 599.9h3.9v14.8h-3.9zM452.4 599.9h3.9v14.8h-3.9zM474.1 599.9h3.9v14.8h-3.9zM513.7 599.9h3.9v14.8h-3.9zM528.2 599.9h3.9v14.8h-3.9zM178.2 614.4h3.9v14.8h-3.9zM254.0 614.4h3.9v14.8h-3.9zM268.4 614.4h3.9v14.8h-3.9zM275.6 614.4h3.9v14.8h-3.9zM290.1 614.4h3.9v14.8h-3.9zM434.4 614.4h3.9v14.8h-3.9zM181.9 628.9h3.9v14.8h-3.9zM189.1 628.9h3.9v14.8h-3.9zM221.5 628.9h3.9v14.8h-3.9zM275.6 628.9h3.9v14.8h-3.9zM329.8 628.9h3.9v14.8h-3.9zM387.5 628.9h3.9v14.8h-3.9zM553.4 628.9h3.9v14.8h-3.9zM564.2 628.9h3.9v14.8h-3.9zM156.6 643.5h3.9v14.8h-3.9zM189.1 643.5h3.9v14.8h-3.9zM221.5 643.5h3.9v14.8h-3.9zM232.4 643.5h3.9v14.8h-3.9zM452.4 643.5h3.9v14.8h-3.9zM582.3 643.5h3.9v14.8h-3.9zM156.6 658.0h3.9v14.8h-3.9zM171.0 658.0h3.9v14.8h-3.9zM254.0 658.0h3.9v14.8h-3.9zM268.4 658.0h3.9v14.8h-3.9zM481.3 658.0h3.9v14.8h-3.9zM499.3 658.0h3.9v14.8h-3.9zM160.2 672.5h3.9v14.8h-3.9zM192.7 672.5h3.9v14.8h-3.9zM196.3 672.5h3.9v14.8h-3.9zM217.9 672.5h3.9v14.8h-3.9zM246.8 672.5h3.9v14.8h-3.9zM459.6 672.5h3.9v14.8h-3.9zM593.1 672.5h3.9v14.8h-3.9zM603.9 672.5h3.9v14.8h-3.9zM254.0 687.0h3.9v14.8h-3.9zM261.2 687.0h3.9v14.8h-3.9zM275.6 687.0h3.9v14.8h-3.9zM427.2 687.0h3.9v14.8h-3.9zM452.4 687.0h3.9v14.8h-3.9zM463.2 687.0h3.9v14.8h-3.9zM488.5 687.0h3.9v14.8h-3.9zM607.5 687.0h3.9v14.8h-3.9zM618.4 687.0h3.9v14.8h-3.9zM632.8 687.0h3.9v14.8h-3.9zM221.5 701.5h3.9v14.8h-3.9zM250.4 701.5h3.9v14.8h-3.9zM261.2 701.5h3.9v14.8h-3.9zM275.6 701.5h3.9v14.8h-3.9zM290.1 701.5h3.9v14.8h-3.9zM293.7 701.5h3.9v14.8h-3.9zM430.8 701.5h3.9v14.8h-3.9zM495.7 701.5h3.9v14.8h-3.9zM560.6 701.5h3.9v14.8h-3.9zM564.2 701.5h3.9v14.8h-3.9zM603.9 701.5h3.9v14.8h-3.9zM611.1 701.5h3.9v14.8h-3.9zM622.0 701.5h3.9v14.8h-3.9zM207.1 716.0h3.9v14.8h-3.9zM236.0 716.0h3.9v14.8h-3.9zM239.6 716.0h3.9v14.8h-3.9zM246.8 716.0h3.9v14.8h-3.9zM355.0 716.0h3.9v14.8h-3.9zM387.5 716.0h3.9v14.8h-3.9zM401.9 716.0h3.9v14.8h-3.9zM405.5 716.0h3.9v14.8h-3.9zM423.6 716.0h3.9v14.8h-3.9zM445.2 716.0h3.9v14.8h-3.9zM521.0 716.0h3.9v14.8h-3.9zM567.9 716.0h3.9v14.8h-3.9zM589.5 716.0h3.9v14.8h-3.9zM632.8 716.0h3.9v14.8h-3.9zM322.5 730.5h3.9v14.8h-3.9zM355.0 730.5h3.9v14.8h-3.9zM499.3 730.5h3.9v14.8h-3.9zM531.8 730.5h3.9v14.8h-3.9zM542.6 730.5h3.9v14.8h-3.9zM549.8 730.5h3.9v14.8h-3.9zM585.9 730.5h3.9v14.8h-3.9zM217.9 745.0h3.9v14.8h-3.9zM225.1 745.0h3.9v14.8h-3.9zM282.9 745.0h3.9v14.8h-3.9zM423.6 745.0h3.9v14.8h-3.9zM441.6 745.0h3.9v14.8h-3.9zM470.4 745.0h3.9v14.8h-3.9zM528.2 745.0h3.9v14.8h-3.9zM557.0 745.0h3.9v14.8h-3.9zM596.7 745.0h3.9v14.8h-3.9zM600.3 745.0h3.9v14.8h-3.9zM603.9 745.0h3.9v14.8h-3.9zM318.9 759.5h3.9v14.8h-3.9zM355.0 759.5h3.9v14.8h-3.9zM369.4 759.5h3.9v14.8h-3.9zM459.6 759.5h3.9v14.8h-3.9zM585.9 759.5h3.9v14.8h-3.9zM600.3 759.5h3.9v14.8h-3.9zM603.9 759.5h3.9v14.8h-3.9zM632.8 759.5h3.9v14.8h-3.9zM315.3 774.0h3.9v14.8h-3.9zM347.8 774.0h3.9v14.8h-3.9zM401.9 774.0h3.9v14.8h-3.9zM531.8 774.0h3.9v14.8h-3.9zM614.7 774.0h3.9v14.8h-3.9zM636.4 774.0h3.9v14.8h-3.9zM311.7 788.6h3.9v14.8h-3.9zM322.5 788.6h3.9v14.8h-3.9zM358.6 788.6h3.9v14.8h-3.9zM398.3 788.6h3.9v14.8h-3.9zM466.8 788.6h3.9v14.8h-3.9zM513.7 788.6h3.9v14.8h-3.9zM636.4 788.6h3.9v14.8h-3.9zM160.2 803.1h3.9v14.8h-3.9zM315.3 803.1h3.9v14.8h-3.9zM380.3 803.1h3.9v14.8h-3.9zM463.2 803.1h3.9v14.8h-3.9zM499.3 803.1h3.9v14.8h-3.9zM625.6 803.1h3.9v14.8h-3.9zM250.4 817.6h3.9v14.8h-3.9zM326.2 817.6h3.9v14.8h-3.9zM365.8 817.6h3.9v14.8h-3.9zM477.7 817.6h3.9v14.8h-3.9zM578.7 817.6h3.9v14.8h-3.9zM593.1 817.6h3.9v14.8h-3.9zM167.4 832.1h3.9v14.8h-3.9zM275.6 832.1h3.9v14.8h-3.9zM326.2 832.1h3.9v14.8h-3.9zM351.4 832.1h3.9v14.8h-3.9zM423.6 832.1h3.9v14.8h-3.9zM434.4 832.1h3.9v14.8h-3.9zM438.0 832.1h3.9v14.8h-3.9zM387.5 846.6h3.9v14.8h-3.9zM589.5 846.6h3.9v14.8h-3.9zM185.5 861.1h3.9v14.8h-3.9zM300.9 861.1h3.9v14.8h-3.9zM365.8 861.1h3.9v14.8h-3.9zM412.7 861.1h3.9v14.8h-3.9zM416.3 861.1h3.9v14.8h-3.9zM419.9 861.1h3.9v14.8h-3.9zM517.3 861.1h3.9v14.8h-3.9zM585.9 861.1h3.9v14.8h-3.9zM589.5 861.1h3.9v14.8h-3.9zM596.7 861.1h3.9v14.8h-3.9zM603.9 861.1h3.9v14.8h-3.9zM300.9 875.6h3.9v14.8h-3.9zM304.5 875.6h3.9v14.8h-3.9zM347.8 875.6h3.9v14.8h-3.9zM355.0 875.6h3.9v14.8h-3.9zM376.7 875.6h3.9v14.8h-3.9zM398.3 875.6h3.9v14.8h-3.9zM405.5 875.6h3.9v14.8h-3.9zM409.1 875.6h3.9v14.8h-3.9zM571.5 875.6h3.9v14.8h-3.9zM600.3 875.6h3.9v14.8h-3.9zM156.6 890.1h3.9v14.8h-3.9zM333.4 890.1h3.9v14.8h-3.9zM416.3 890.1h3.9v14.8h-3.9zM495.7 890.1h3.9v14.8h-3.9zM510.1 890.1h3.9v14.8h-3.9zM517.3 890.1h3.9v14.8h-3.9zM575.1 890.1h3.9v14.8h-3.9zM344.2 904.6h3.9v14.8h-3.9zM477.7 904.6h3.9v14.8h-3.9zM495.7 904.6h3.9v14.8h-3.9zM517.3 904.6h3.9v14.8h-3.9zM524.6 904.6h3.9v14.8h-3.9zM618.4 904.6h3.9v14.8h-3.9zM636.4 904.6h3.9v14.8h-3.9zM279.3 919.1h3.9v14.8h-3.9zM282.9 919.1h3.9v14.8h-3.9zM290.1 919.1h3.9v14.8h-3.9zM387.5 919.1h3.9v14.8h-3.9zM524.6 919.1h3.9v14.8h-3.9zM575.1 919.1h3.9v14.8h-3.9zM578.7 919.1h3.9v14.8h-3.9zM207.1 933.7h3.9v14.8h-3.9zM279.3 933.7h3.9v14.8h-3.9zM387.5 933.7h3.9v14.8h-3.9zM423.6 933.7h3.9v14.8h-3.9zM427.2 933.7h3.9v14.8h-3.9zM474.1 933.7h3.9v14.8h-3.9zM499.3 933.7h3.9v14.8h-3.9zM506.5 933.7h3.9v14.8h-3.9zM531.8 933.7h3.9v14.8h-3.9zM546.2 933.7h3.9v14.8h-3.9zM564.2 933.7h3.9v14.8h-3.9zM578.7 933.7h3.9v14.8h-3.9zM603.9 933.7h3.9v14.8h-3.9zM622.0 933.7h3.9v14.8h-3.9zM315.3 948.2h3.9v14.8h-3.9zM394.7 948.2h3.9v14.8h-3.9zM419.9 948.2h3.9v14.8h-3.9zM463.2 948.2h3.9v14.8h-3.9zM470.4 948.2h3.9v14.8h-3.9zM513.7 948.2h3.9v14.8h-3.9zM524.6 948.2h3.9v14.8h-3.9zM614.7 948.2h3.9v14.8h-3.9zM300.9 962.7h3.9v14.8h-3.9zM329.8 962.7h3.9v14.8h-3.9zM351.4 962.7h3.9v14.8h-3.9zM387.5 962.7h3.9v14.8h-3.9zM412.7 962.7h3.9v14.8h-3.9zM502.9 962.7h3.9v14.8h-3.9zM524.6 962.7h3.9v14.8h-3.9zM571.5 962.7h3.9v14.8h-3.9zM282.9 977.2h3.9v14.8h-3.9zM308.1 977.2h3.9v14.8h-3.9zM311.7 977.2h3.9v14.8h-3.9zM340.6 977.2h3.9v14.8h-3.9zM495.7 977.2h3.9v14.8h-3.9zM521.0 977.2h3.9v14.8h-3.9zM535.4 977.2h3.9v14.8h-3.9zM279.3 991.7h3.9v14.8h-3.9zM293.7 991.7h3.9v14.8h-3.9zM369.4 991.7h3.9v14.8h-3.9zM409.1 991.7h3.9v14.8h-3.9zM477.7 991.7h3.9v14.8h-3.9zM567.9 991.7h3.9v14.8h-3.9zM622.0 991.7h3.9v14.8h-3.9zM329.8 1020.7h3.9v14.8h-3.9zM394.7 1020.7h3.9v14.8h-3.9zM438.0 1020.7h3.9v14.8h-3.9zM290.1 1035.2h3.9v14.8h-3.9zM387.5 1035.2h3.9v14.8h-3.9zM470.4 1035.2h3.9v14.8h-3.9zM546.2 1035.2h3.9v14.8h-3.9zM578.7 1035.2h3.9v14.8h-3.9zM290.1 1049.7h3.9v14.8h-3.9zM311.7 1049.7h3.9v14.8h-3.9zM337.0 1049.7h3.9v14.8h-3.9zM369.4 1049.7h3.9v14.8h-3.9zM383.9 1049.7h3.9v14.8h-3.9zM409.1 1049.7h3.9v14.8h-3.9zM441.6 1049.7h3.9v14.8h-3.9zM456.0 1049.7h3.9v14.8h-3.9zM488.5 1049.7h3.9v14.8h-3.9zM502.9 1049.7h3.9v14.8h-3.9zM535.4 1049.7h3.9v14.8h-3.9zM611.1 1049.7h3.9v14.8h-3.9zM629.2 1049.7h3.9v14.8h-3.9zM225.1 1064.2h3.9v14.8h-3.9zM275.6 1064.2h3.9v14.8h-3.9zM365.8 1064.2h3.9v14.8h-3.9zM412.7 1064.2h3.9v14.8h-3.9zM506.5 1064.2h3.9v14.8h-3.9zM513.7 1064.2h3.9v14.8h-3.9zM539.0 1064.2h3.9v14.8h-3.9zM553.4 1064.2h3.9v14.8h-3.9zM625.6 1064.2h3.9v14.8h-3.9zM340.6 1078.8h3.9v14.8h-3.9zM398.3 1078.8h3.9v14.8h-3.9zM452.4 1078.8h3.9v14.8h-3.9zM456.0 1078.8h3.9v14.8h-3.9zM474.1 1078.8h3.9v14.8h-3.9zM492.1 1078.8h3.9v14.8h-3.9zM528.2 1078.8h3.9v14.8h-3.9zM535.4 1078.8h3.9v14.8h-3.9zM575.1 1078.8h3.9v14.8h-3.9zM611.1 1078.8h3.9v14.8h-3.9zM344.2 1093.3h3.9v14.8h-3.9zM355.0 1093.3h3.9v14.8h-3.9zM434.4 1093.3h3.9v14.8h-3.9zM535.4 1093.3h3.9v14.8h-3.9zM553.4 1093.3h3.9v14.8h-3.9zM614.7 1093.3h3.9v14.8h-3.9zM622.0 1093.3h3.9v14.8h-3.9zM243.2 1107.8h3.9v14.8h-3.9zM282.9 1107.8h3.9v14.8h-3.9zM322.5 1107.8h3.9v14.8h-3.9zM358.6 1107.8h3.9v14.8h-3.9zM427.2 1107.8h3.9v14.8h-3.9zM445.2 1107.8h3.9v14.8h-3.9zM535.4 1107.8h3.9v14.8h-3.9zM539.0 1107.8h3.9v14.8h-3.9zM542.6 1107.8h3.9v14.8h-3.9zM546.2 1107.8h3.9v14.8h-3.9zM593.1 1107.8h3.9v14.8h-3.9zM246.8 1122.3h3.9v14.8h-3.9zM308.1 1122.3h3.9v14.8h-3.9zM394.7 1122.3h3.9v14.8h-3.9zM409.1 1122.3h3.9v14.8h-3.9zM445.2 1122.3h3.9v14.8h-3.9zM452.4 1122.3h3.9v14.8h-3.9zM463.2 1122.3h3.9v14.8h-3.9zM553.4 1122.3h3.9v14.8h-3.9zM557.0 1122.3h3.9v14.8h-3.9zM575.1 1122.3h3.9v14.8h-3.9zM578.7 1122.3h3.9v14.8h-3.9zM344.2 1136.8h3.9v14.8h-3.9zM412.7 1136.8h3.9v14.8h-3.9zM434.4 1136.8h3.9v14.8h-3.9zM513.7 1136.8h3.9v14.8h-3.9zM535.4 1136.8h3.9v14.8h-3.9zM589.5 1136.8h3.9v14.8h-3.9zM596.7 1136.8h3.9v14.8h-3.9zM629.2 1136.8h3.9v14.8h-3.9zM297.3 1151.3h3.9v14.8h-3.9zM322.5 1151.3h3.9v14.8h-3.9zM427.2 1151.3h3.9v14.8h-3.9zM452.4 1151.3h3.9v14.8h-3.9zM484.9 1151.3h3.9v14.8h-3.9zM495.7 1151.3h3.9v14.8h-3.9zM539.0 1151.3h3.9v14.8h-3.9z"/>
<path fill="rgb(255,154,127)" d="M203.5 556.4h3.9v14.8h-3.9zM210.7 556.4h3.9v14.8h-3.9zM286.5 556.4h3.9v14.8h-3.9zM452.4 556.4h3.9v14.8h-3.9zM456.0 556.4h3.9v14.8h-3.9zM199.9 570.9h3.9v14.8h-3.9zM546.2 570.9h3.9v14.8h-3.9zM174.6 585.4h3.9v14.8h-3.9zM257.6 585.4h3.9v14.8h-3.9zM293.7 585.4h3.9v14.8h-3.9zM300.9 585.4h3.9v14.8h-3.9zM358.6 585.4h3.9v14.8h-3.9zM596.7 585.4h3.9v14.8h-3.9zM611.1 585.4h3.9v14.8h-3.9zM326.2 599.9h3.9v14.8h-3.9zM459.6 599.9h3.9v14.8h-3.9zM600.3 599.9h3.9v14.8h-3.9zM618.4 599.9h3.9v14.8h-3.9zM174.6 614.4h3.9v14.8h-3.9zM192.7 614.4h3.9v14.8h-3.9zM196.3 614.4h3.9v14.8h-3.9zM250.4 614.4h3.9v14.8h-3.9zM272.0 614.4h3.9v14.8h-3.9zM373.0 614.4h3.9v14.8h-3.9zM405.5 614.4h3.9v14.8h-3.9zM560.6 614.4h3.9v14.8h-3.9zM178.2 628.9h3.9v14.8h-3.9zM398.3 628.9h3.9v14.8h-3.9zM513.7 628.9h3.9v14.8h-3.9zM163.8 643.5h3.9v14.8h-3.9zM181.9 643.5h3.9v14.8h-3.9zM207.1 643.5h3.9v14.8h-3.9zM290.1 643.5h3.9v14.8h-3.9zM358.6 643.5h3.9v14.8h-3.9zM546.2 643.5h3.9v14.8h-3.9zM589.5 643.5h3.9v14.8h-3.9zM225.1 658.0h3.9v14.8h-3.9zM232.4 658.0h3.9v14.8h-3.9zM246.8 658.0h3.9v14.8h-3.9zM275.6 658.0h3.9v14.8h-3.9zM344.2 658.0h3.9v14.8h-3.9zM546.2 658.0h3.9v14.8h-3.9zM171.0 672.5h3.9v14.8h-3.9zM214.3 672.5h3.9v14.8h-3.9zM221.5 672.5h3.9v14.8h-3.9zM239.6 672.5h3.9v14.8h-3.9zM272.0 672.5h3.9v14.8h-3.9zM329.8 672.5h3.9v14.8h-3.9zM438.0 672.5h3.9v14.8h-3.9zM618.4 672.5h3.9v14.8h-3.9zM196.3 687.0h3.9v14.8h-3.9zM239.6 687.0h3.9v14.8h-3.9zM369.4 687.0h3.9v14.8h-3.9zM383.9 687.0h3.9v14.8h-3.9zM391.1 687.0h3.9v14.8h-3.9zM196.3 701.5h3.9v14.8h-3.9zM246.8 701.5h3.9v14.8h-3.9zM300.9 701.5h3.9v14.8h-3.9zM391.1 701.5h3.9v14.8h-3.9zM405.5 701.5h3.9v14.8h-3.9zM492.1 701.5h3.9v14.8h-3.9zM178.2 716.0h3.9v14.8h-3.9zM221.5 716.0h3.9v14.8h-3.9zM546.2 716.0h3.9v14.8h-3.9zM549.8 716.0h3.9v14.8h-3.9zM261.2 730.5h3.9v14.8h-3.9zM326.2 730.5h3.9v14.8h-3.9zM506.5 730.5h3.9v14.8h-3.9zM560.6 730.5h3.9v14.8h-3.9zM160.2 745.0h3.9v14.8h-3.9zM365.8 745.0h3.9v14.8h-3.9zM438.0 745.0h3.9v14.8h-3.9zM589.5 745.0h3.9v14.8h-3.9zM340.6 759.5h3.9v14.8h-3.9zM474.1 759.5h3.9v14.8h-3.9zM492.1 759.5h3.9v14.8h-3.9zM495.7 759.5h3.9v14.8h-3.9zM506.5 759.5h3.9v14.8h-3.9zM539.0 759.5h3.9v14.8h-3.9zM629.2 759.5h3.9v14.8h-3.9zM412.7 774.0h3.9v14.8h-3.9zM427.2 774.0h3.9v14.8h-3.9zM438.0 774.0h3.9v14.8h-3.9zM452.4 774.0h3.9v14.8h-3.9zM625.6 774.0h3.9v14.8h-3.9zM362.2 788.6h3.9v14.8h-3.9zM470.4 788.6h3.9v14.8h-3.9zM517.3 788.6h3.9v14.8h-3.9zM524.6 788.6h3.9v14.8h-3.9zM600.3 788.6h3.9v14.8h-3.9zM593.1 803.1h3.9v14.8h-3.9zM167.4 817.6h3.9v14.8h-3.9zM383.9 817.6h3.9v14.8h-3.9zM311.7 832.1h3.9v14.8h-3.9zM337.0 832.1h3.9v14.8h-3.9zM344.2 832.1h3.9v14.8h-3.9zM448.8 832.1h3.9v14.8h-3.9zM470.4 832.1h3.9v14.8h-3.9zM546.2 832.1h3.9v14.8h-3.9zM603.9 832.1h3.9v14.8h-3.9zM445.2 846.6h3.9v14.8h-3.9zM456.0 846.6h3.9v14.8h-3.9zM459.6 846.6h3.9v14.8h-3.9zM517.3 846.6h3.9v14.8h-3.9zM376.7 861.1h3.9v14.8h-3.9zM409.1 861.1h3.9v14.8h-3.9zM293.7 875.6h3.9v14.8h-3.9zM322.5 875.6h3.9v14.8h-3.9zM383.9 875.6h3.9v14.8h-3.9zM575.1 875.6h3.9v14.8h-3.9zM603.9 875.6h3.9v14.8h-3.9zM502.9 890.1h3.9v14.8h-3.9zM524.6 890.1h3.9v14.8h-3.9zM557.0 890.1h3.9v14.8h-3.9zM387.5 904.6h3.9v14.8h-3.9zM506.5 904.6h3.9v14.8h-3.9zM575.1 904.6h3.9v14.8h-3.9zM625.6 904.6h3.9v14.8h-3.9zM629.2 904.6h3.9v14.8h-3.9zM300.9 919.1h3.9v14.8h-3.9zM369.4 919.1h3.9v14.8h-3.9zM373.0 919.1h3.9v14.8h-3.9zM398.3 919.1h3.9v14.8h-3.9zM553.4 919.1h3.9v14.8h-3.9zM337.0 933.7h3.9v14.8h-3.9zM351.4 933.7h3.9v14.8h-3.9zM369.4 933.7h3.9v14.8h-3.9zM495.7 933.7h3.9v14.8h-3.9zM513.7 933.7h3.9v14.8h-3.9zM549.8 933.7h3.9v14.8h-3.9zM279.3 962.7h3.9v14.8h-3.9zM282.9 962.7h3.9v14.8h-3.9zM315.3 962.7h3.9v14.8h-3.9zM373.0 962.7h3.9v14.8h-3.9zM409.1 962.7h3.9v14.8h-3.9zM474.1 962.7h3.9v14.8h-3.9zM531.8 962.7h3.9v14.8h-3.9zM632.8 962.7h3.9v14.8h-3.9zM300.9 977.2h3.9v14.8h-3.9zM318.9 977.2h3.9v14.8h-3.9zM373.0 977.2h3.9v14.8h-3.9zM481.3 977.2h3.9v14.8h-3.9zM632.8 977.2h3.9v14.8h-3.9zM171.0 991.7h3.9v14.8h-3.9zM290.1 991.7h3.9v14.8h-3.9zM589.5 991.7h3.9v14.8h-3.9zM593.1 991.7h3.9v14.8h-3.9zM322.5 1035.2h3.9v14.8h-3.9zM524.6 1035.2h3.9v14.8h-3.9zM355.0 1049.7h3.9v14.8h-3.9zM463.2 1049.7h3.9v14.8h-3.9zM564.2 1049.7h3.9v14.8h-3.9zM578.7 1049.7h3.9v14.8h-3.9zM308.1 1064.2h3.9v14.8h-3.9zM401.9 1064.2h3.9v14.8h-3.9zM423.6 1064.2h3.9v14.8h-3.9zM427.2 1064.2h3.9v14.8h-3.9zM441.6 1064.2h3.9v14.8h-3.9zM549.8 1064.2h3.9v14.8h-3.9zM578.7 1064.2h3.9v14.8h-3.9zM596.7 1064.2h3.9v14.8h-3.9zM636.4 1064.2h3.9v14.8h-3.9zM355.0 1078.8h3.9v14.8h-3.9zM427.2 1078.8h3.9v14.8h-3.9zM445.2 1078.8h3.9v14.8h-3.9zM513.7 1078.8h3.9v14.8h-3.9zM557.0 1078.8h3.9v14.8h-3.9zM275.6 1093.3h3.9v14.8h-3.9zM358.6 1093.3h3.9v14.8h-3.9zM430.8 1093.3h3.9v14.8h-3.9zM438.0 1093.3h3.9v14.8h-3.9zM589.5 1093.3h3.9v14.8h-3.9zM297.3 1107.8h3.9v14.8h-3.9zM423.6 1107.8h3.9v14.8h-3.9zM513.7 1107.8h3.9v14.8h-3.9zM560.6 1107.8h3.9v14.8h-3.9zM304.5 1122.3h3.9v14.8h-3.9zM322.5 1122.3h3.9v14.8h-3.9zM297.3 1136.8h3.9v14.8h-3.9zM394.7 1136.8h3.9v14.8h-3.9zM438.0 1136.8h3.9v14.8h-3.9zM539.0 1136.8h3.9v14.8h-3.9zM542.6 1136.8h3.9v14.8h-3.9zM632.8 1136.8h3.9v14.8h-3.9zM290.1 1151.3h3.9v14.8h-3.9zM535.4 1151.3h3.9v14.8h-3.9zM575.1 1151.3h3.9v14.8h-3.9zM603.9 1151.3h3.9v14.8h-3.9z"/>
<path fill="rgb(255,104,71)" d="M207.1 556.4h3.9v14.8h-3.9zM290.1 556.4h3.9v14.8h-3.9zM380.3 556.4h3.9v14.8h-3.9zM477.7 556.4h3.9v14.8h-3.9zM499.3 556.4h3.9v14.8h-3.9zM178.2 570.9h3.9v14.8h-3.9zM210.7 570.9h3.9v14.8h-3.9zM250.4 570.9h3.9v14.8h-3.9zM344.2 570.9h3.9v14.8h-3.9zM401.9 570.9h3.9v14.8h-3.9zM452.4 570.9h3.9v14.8h-3.9zM225.1 585.4h3.9v14.8h-3.9zM254.0 585.4h3.9v14.8h-3.9zM264.8 585.4h3.9v14.8h-3.9zM340.6 585.4h3.9v14.8h-3.9zM510.1 585.4h3.9v14.8h-3.9zM225.1 599.9h3.9v14.8h-3.9zM239.6 614.4h3.9v14.8h-3.9zM293.7 614.4h3.9v14.8h-3.9zM326.2 614.4h3.9v14.8h-3.9zM618.4 614.4h3.9v14.8h-3.9zM185.5 628.9h3.9v14.8h-3.9zM192.7 628.9h3.9v14.8h-3.9zM228.7 628.9h3.9v14.8h-3.9zM261.2 628.9h3.9v14.8h-3.9zM401.9 628.9h3.9v14.8h-3.9zM546.2 628.9h3.9v14.8h-3.9zM600.3 628.9h3.9v14.8h-3.9zM185.5 643.5h3.9v14.8h-3.9zM225.1 643.5h3.9v14.8h-3.9zM239.6 643.5h3.9v14.8h-3.9zM300.9 643.5h3.9v14.8h-3.9zM308.1 643.5h3.9v14.8h-3.9zM217.9 658.0h3.9v14.8h-3.9zM315.3 672.5h3.9v14.8h-3.9zM365.8 672.5h3.9v14.8h-3.9zM632.8 672.5h3.9v14.8h-3.9zM178.2 687.0h3.9v14.8h-3.9zM192.7 687.0h3.9v14.8h-3.9zM228.7 687.0h3.9v14.8h-3.9zM290.1 687.0h3.9v14.8h-3.9zM423.6 687.0h3.9v14.8h-3.9zM528.2 687.0h3.9v14.8h-3.9zM228.7 701.5h3.9v14.8h-3.9zM423.6 701.5h3.9v14.8h-3.9zM228.7 716.0h3.9v14.8h-3.9zM315.3 716.0h3.9v14.8h-3.9zM340.6 716.0h3.9v14.8h-3.9zM160.2 730.5h3.9v14.8h-3.9zM603.9 730.5h3.9v14.8h-3.9zM614.7 745.0h3.9v14.8h-3.9zM632.8 745.0h3.9v14.8h-3.9zM207.1 759.5h3.9v14.8h-3.9zM308.1 759.5h3.9v14.8h-3.9zM344.2 759.5h3.9v14.8h-3.9zM383.9 759.5h3.9v14.8h-3.9zM416.3 759.5h3.9v14.8h-3.9zM567.9 759.5h3.9v14.8h-3.9zM387.5 774.0h3.9v14.8h-3.9zM481.3 774.0h3.9v14.8h-3.9zM456.0 788.6h3.9v14.8h-3.9zM459.6 788.6h3.9v14.8h-3.9zM167.4 803.1h3.9v14.8h-3.9zM329.8 803.1h3.9v14.8h-3.9zM456.0 803.1h3.9v14.8h-3.9zM603.9 803.1h3.9v14.8h-3.9zM308.1 817.6h3.9v14.8h-3.9zM611.1 817.6h3.9v14.8h-3.9zM221.5 832.1h3.9v14.8h-3.9zM355.0 832.1h3.9v14.8h-3.9zM456.0 832.1h3.9v14.8h-3.9zM585.9 832.1h3.9v14.8h-3.9zM300.9 846.6h3.9v14.8h-3.9zM304.5 861.1h3.9v14.8h-3.9zM502.9 861.1h3.9v14.8h-3.9zM546.2 861.1h3.9v14.8h-3.9zM333.4 875.6h3.9v14.8h-3.9zM539.0 875.6h3.9v14.8h-3.9zM373.0 904.6h3.9v14.8h-3.9zM434.4 904.6h3.9v14.8h-3.9zM484.9 904.6h3.9v14.8h-3.9zM582.3 904.6h3.9v14.8h-3.9zM445.2 919.1h3.9v14.8h-3.9zM585.9 919.1h3.9v14.8h-3.9zM618.4 919.1h3.9v14.8h-3.9zM300.9 948.2h3.9v14.8h-3.9zM329.8 948.2h3.9v14.8h-3.9zM528.2 948.2h3.9v14.8h-3.9zM607.5 948.2h3.9v14.8h-3.9zM629.2 948.2h3.9v14.8h-3.9zM293.7 962.7h3.9v14.8h-3.9zM369.4 962.7h3.9v14.8h-3.9zM528.2 962.7h3.9v14.8h-3.9zM582.3 977.2h3.9v14.8h-3.9zM585.9 977.2h3.9v14.8h-3.9zM603.9 977.2h3.9v14.8h-3.9zM337.0 991.7h3.9v14.8h-3.9zM578.7 991.7h3.9v14.8h-3.9zM585.9 991.7h3.9v14.8h-3.9zM625.6 991.7h3.9v14.8h-3.9zM398.3 1035.2h3.9v14.8h-3.9zM362.2 1049.7h3.9v14.8h-3.9zM549.8 1049.7h3.9v14.8h-3.9zM340.6 1064.2h3.9v14.8h-3.9zM445.2 1064.2h3.9v14.8h-3.9zM593.1 1064.2h3.9v14.8h-3.9zM293.7 1078.8h3.9v14.8h-3.9zM300.9 1078.8h3.9v14.8h-3.9zM419.9 1078.8h3.9v14.8h-3.9zM470.4 1078.8h3.9v14.8h-3.9zM337.0 1093.3h3.9v14.8h-3.9zM452.4 1093.3h3.9v14.8h-3.9zM484.9 1093.3h3.9v14.8h-3.9zM488.5 1107.8h3.9v14.8h-3.9zM488.5 1122.3h3.9v14.8h-3.9zM380.3 1136.8h3.9v14.8h-3.9zM484.9 1136.8h3.9v14.8h-3.9zM474.1 1151.3h3.9v14.8h-3.9zM549.8 1151.3h3.9v14.8h-3.9zM629.2 1151.3h3.9v14.8h-3.9z"/>
<path fill="rgb(238,0,0)" d="M221.5 556.4h3.9v14.8h-3.9zM203.5 570.9h3.9v14.8h-3.9zM178.2 585.4h3.9v14.8h-3.9zM228.7 585.4h3.9v14.8h-3.9zM546.2 585.4h3.9v14.8h-3.9zM261.2 599.9h3.9v14.8h-3.9zM275.6 599.9h3.9v14.8h-3.9zM495.7 599.9h3.9v14.8h-3.9zM593.1 599.9h3.9v14.8h-3.9zM264.8 614.4h3.9v14.8h-3.9zM513.7 614.4h3.9v14.8h-3.9zM264.8 628.9h3.9v14.8h-3.9zM326.2 628.9h3.9v14.8h-3.9zM412.7 628.9h3.9v14.8h-3.9zM445.2 643.5h3.9v14.8h-3.9zM470.4 643.5h3.9v14.8h-3.9zM499.3 643.5h3.9v14.8h-3.9zM185.5 658.0h3.9v14.8h-3.9zM196.3 658.0h3.9v14.8h-3.9zM243.2 658.0h3.9v14.8h-3.9zM412.7 658.0h3.9v14.8h-3.9zM452.4 658.0h3.9v14.8h-3.9zM185.5 672.5h3.9v14.8h-3.9zM207.1 672.5h3.9v14.8h-3.9zM225.1 672.5h3.9v14.8h-3.9zM243.2 672.5h3.9v14.8h-3.9zM481.3 672.5h3.9v14.8h-3.9zM163.8 687.0h3.9v14.8h-3.9zM171.0 687.0h3.9v14.8h-3.9zM405.5 687.0h3.9v14.8h-3.9zM163.8 701.5h3.9v14.8h-3.9zM546.2 701.5h3.9v14.8h-3.9zM391.1 716.0h3.9v14.8h-3.9zM484.9 716.0h3.9v14.8h-3.9zM308.1 730.5h3.9v14.8h-3.9zM329.8 730.5h3.9v14.8h-3.9zM452.4 730.5h3.9v14.8h-3.9zM456.0 730.5h3.9v14.8h-3.9zM470.4 730.5h3.9v14.8h-3.9zM517.3 730.5h3.9v14.8h-3.9zM398.3 745.0h3.9v14.8h-3.9zM539.0 745.0h3.9v14.8h-3.9zM481.3 759.5h3.9v14.8h-3.9zM535.4 759.5h3.9v14.8h-3.9zM293.7 774.0h3.9v14.8h-3.9zM419.9 774.0h3.9v14.8h-3.9zM477.7 774.0h3.9v14.8h-3.9zM438.0 788.6h3.9v14.8h-3.9zM452.4 788.6h3.9v14.8h-3.9zM282.9 803.1h3.9v14.8h-3.9zM412.7 803.1h3.9v14.8h-3.9zM481.3 803.1h3.9v14.8h-3.9zM347.8 817.6h3.9v14.8h-3.9zM484.9 817.6h3.9v14.8h-3.9zM517.3 832.1h3.9v14.8h-3.9zM430.8 846.6h3.9v14.8h-3.9zM434.4 846.6h3.9v14.8h-3.9zM477.7 846.6h3.9v14.8h-3.9zM546.2 846.6h3.9v14.8h-3.9zM600.3 846.6h3.9v14.8h-3.9zM290.1 861.1h3.9v14.8h-3.9zM347.8 861.1h3.9v14.8h-3.9zM470.4 861.1h3.9v14.8h-3.9zM636.4 861.1h3.9v14.8h-3.9zM484.9 875.6h3.9v14.8h-3.9zM585.9 875.6h3.9v14.8h-3.9zM293.7 890.1h3.9v14.8h-3.9zM376.7 890.1h3.9v14.8h-3.9zM531.8 890.1h3.9v14.8h-3.9zM546.2 890.1h3.9v14.8h-3.9zM600.3 890.1h3.9v14.8h-3.9zM300.9 904.6h3.9v14.8h-3.9zM308.1 904.6h3.9v14.8h-3.9zM369.4 904.6h3.9v14.8h-3.9zM391.1 904.6h3.9v14.8h-3.9zM430.8 904.6h3.9v14.8h-3.9zM466.8 904.6h3.9v14.8h-3.9zM474.1 904.6h3.9v14.8h-3.9zM351.4 919.1h3.9v14.8h-3.9zM365.8 919.1h3.9v14.8h-3.9zM423.6 919.1h3.9v14.8h-3.9zM438.0 919.1h3.9v14.8h-3.9zM477.7 919.1h3.9v14.8h-3.9zM492.1 919.1h3.9v14.8h-3.9zM549.8 919.1h3.9v14.8h-3.9zM614.7 919.1h3.9v14.8h-3.9zM622.0 919.1h3.9v14.8h-3.9zM300.9 933.7h3.9v14.8h-3.9zM369.4 948.2h3.9v14.8h-3.9zM549.8 948.2h3.9v14.8h-3.9zM557.0 948.2h3.9v14.8h-3.9zM560.6 948.2h3.9v14.8h-3.9zM585.9 948.2h3.9v14.8h-3.9zM589.5 948.2h3.9v14.8h-3.9zM600.3 948.2h3.9v14.8h-3.9zM549.8 962.7h3.9v14.8h-3.9zM557.0 962.7h3.9v14.8h-3.9zM600.3 962.7h3.9v14.8h-3.9zM351.4 977.2h3.9v14.8h-3.9zM430.8 977.2h3.9v14.8h-3.9zM452.4 977.2h3.9v14.8h-3.9zM492.1 977.2h3.9v14.8h-3.9zM528.2 977.2h3.9v14.8h-3.9zM300.9 991.7h3.9v14.8h-3.9zM546.2 991.7h3.9v14.8h-3.9zM560.6 991.7h3.9v14.8h-3.9zM596.7 991.7h3.9v14.8h-3.9zM427.2 1020.7h3.9v14.8h-3.9zM459.6 1020.7h3.9v14.8h-3.9zM470.4 1020.7h3.9v14.8h-3.9zM510.1 1020.7h3.9v14.8h-3.9zM603.9 1020.7h3.9v14.8h-3.9zM531.8 1035.2h3.9v14.8h-3.9zM333.4 1049.7h3.9v14.8h-3.9zM340.6 1049.7h3.9v14.8h-3.9zM398.3 1049.7h3.9v14.8h-3.9zM452.4 1049.7h3.9v14.8h-3.9zM481.3 1049.7h3.9v14.8h-3.9zM492.1 1049.7h3.9v14.8h-3.9zM521.0 1049.7h3.9v14.8h-3.9zM318.9 1064.2h3.9v14.8h-3.9zM391.1 1064.2h3.9v14.8h-3.9zM438.0 1064.2h3.9v14.8h-3.9zM474.1 1064.2h3.9v14.8h-3.9zM481.3 1064.2h3.9v14.8h-3.9zM477.7 1078.8h3.9v14.8h-3.9zM484.9 1078.8h3.9v14.8h-3.9zM495.7 1078.8h3.9v14.8h-3.9zM499.3 1078.8h3.9v14.8h-3.9zM589.5 1078.8h3.9v14.8h-3.9zM542.6 1093.3h3.9v14.8h-3.9zM275.6 1107.8h3.9v14.8h-3.9zM365.8 1107.8h3.9v14.8h-3.9zM484.9 1107.8h3.9v14.8h-3.9zM589.5 1107.8h3.9v14.8h-3.9zM600.3 1107.8h3.9v14.8h-3.9zM279.3 1122.3h3.9v14.8h-3.9zM380.3 1122.3h3.9v14.8h-3.9zM391.1 1122.3h3.9v14.8h-3.9zM528.2 1122.3h3.9v14.8h-3.9zM629.2 1122.3h3.9v14.8h-3.9zM279.3 1136.8h3.9v14.8h-3.9z"/>
<path fill="rgb(244,26,13)" d="M225.1 556.4h3.9v14.8h-3.9zM264.8 556.4h3.9v14.8h-3.9zM257.6 614.4h3.9v14.8h-3.9zM344.2 614.4h3.9v14.8h-3.9zM250.4 628.9h3.9v14.8h-3.9zM163.8 658.0h3.9v14.8h-3.9zM214.3 658.0h3.9v14.8h-3.9zM163.8 672.5h3.9v14.8h-3.9zM261.2 672.5h3.9v14.8h-3.9zM264.8 687.0h3.9v14.8h-3.9zM264.8 701.5h3.9v14.8h-3.9zM416.3 701.5h3.9v14.8h-3.9zM365.8 730.5h3.9v14.8h-3.9zM427.2 759.5h3.9v14.8h-3.9zM452.4 759.5h3.9v14.8h-3.9zM246.8 803.1h3.9v14.8h-3.9zM474.1 803.1h3.9v14.8h-3.9zM351.4 817.6h3.9v14.8h-3.9zM456.0 817.6h3.9v14.8h-3.9zM347.8 846.6h3.9v14.8h-3.9zM423.6 861.1h3.9v14.8h-3.9zM459.6 861.1h3.9v14.8h-3.9zM290.1 875.6h3.9v14.8h-3.9zM622.0 875.6h3.9v14.8h-3.9zM423.6 890.1h3.9v14.8h-3.9zM585.9 890.1h3.9v14.8h-3.9zM593.1 890.1h3.9v14.8h-3.9zM531.8 919.1h3.9v14.8h-3.9zM398.3 933.7h3.9v14.8h-3.9zM521.0 948.2h3.9v14.8h-3.9zM546.2 948.2h3.9v14.8h-3.9zM430.8 962.7h3.9v14.8h-3.9zM585.9 962.7h3.9v14.8h-3.9zM369.4 977.2h3.9v14.8h-3.9zM427.2 977.2h3.9v14.8h-3.9zM506.5 977.2h3.9v14.8h-3.9zM549.8 977.2h3.9v14.8h-3.9zM557.0 977.2h3.9v14.8h-3.9zM571.5 977.2h3.9v14.8h-3.9zM326.2 991.7h3.9v14.8h-3.9zM373.0 1006.2h3.9v14.8h-3.9zM383.9 1006.2h3.9v14.8h-3.9zM441.6 1006.2h3.9v14.8h-3.9zM495.7 1006.2h3.9v14.8h-3.9zM575.1 1006.2h3.9v14.8h-3.9zM373.0 1020.7h3.9v14.8h-3.9zM383.9 1020.7h3.9v14.8h-3.9zM441.6 1020.7h3.9v14.8h-3.9zM495.7 1020.7h3.9v14.8h-3.9zM575.1 1020.7h3.9v14.8h-3.9zM373.0 1035.2h3.9v14.8h-3.9zM383.9 1035.2h3.9v14.8h-3.9zM441.6 1035.2h3.9v14.8h-3.9zM495.7 1035.2h3.9v14.8h-3.9zM575.1 1035.2h3.9v14.8h-3.9zM452.4 1064.2h3.9v14.8h-3.9zM300.9 1093.3h3.9v14.8h-3.9zM524.6 1107.8h3.9v14.8h-3.9zM582.3 1107.8h3.9v14.8h-3.9zM290.1 1122.3h3.9v14.8h-3.9zM589.5 1122.3h3.9v14.8h-3.9zM380.3 1151.3h3.9v14.8h-3.9zM391.1 1151.3h3.9v14.8h-3.9z"/>
<path fill="rgb(237,239,246)" d="M268.4 556.4h3.9v14.8h-3.9zM311.7 556.4h3.9v14.8h-3.9zM318.9 556.4h3.9v14.8h-3.9zM322.5 556.4h3.9v14.8h-3.9zM329.8 556.4h3.9v14.8h-3.9zM416.3 556.4h3.9v14.8h-3.9zM445.2 556.4h3.9v14.8h-3.9zM463.2 556.4h3.9v14.8h-3.9zM629.2 556.4h3.9v14.8h-3.9zM636.4 556.4h3.9v14.8h-3.9zM163.8 570.9h3.9v14.8h-3.9zM207.1 570.9h3.9v14.8h-3.9zM232.4 570.9h3.9v14.8h-3.9zM246.8 570.9h3.9v14.8h-3.9zM261.2 570.9h3.9v14.8h-3.9zM300.9 570.9h3.9v14.8h-3.9zM347.8 570.9h3.9v14.8h-3.9zM355.0 570.9h3.9v14.8h-3.9zM365.8 570.9h3.9v14.8h-3.9zM416.3 570.9h3.9v14.8h-3.9zM474.1 570.9h3.9v14.8h-3.9zM499.3 570.9h3.9v14.8h-3.9zM502.9 570.9h3.9v14.8h-3.9zM517.3 570.9h3.9v14.8h-3.9zM528.2 570.9h3.9v14.8h-3.9zM549.8 570.9h3.9v14.8h-3.9zM596.7 570.9h3.9v14.8h-3.9zM163.8 585.4h3.9v14.8h-3.9zM192.7 585.4h3.9v14.8h-3.9zM239.6 585.4h3.9v14.8h-3.9zM272.0 585.4h3.9v14.8h-3.9zM311.7 585.4h3.9v14.8h-3.9zM333.4 585.4h3.9v14.8h-3.9zM365.8 585.4h3.9v14.8h-3.9zM391.1 585.4h3.9v14.8h-3.9zM409.1 585.4h3.9v14.8h-3.9zM412.7 585.4h3.9v14.8h-3.9zM419.9 585.4h3.9v14.8h-3.9zM430.8 585.4h3.9v14.8h-3.9zM445.2 585.4h3.9v14.8h-3.9zM448.8 585.4h3.9v14.8h-3.9zM463.2 585.4h3.9v14.8h-3.9zM488.5 585.4h3.9v14.8h-3.9zM564.2 585.4h3.9v14.8h-3.9zM607.5 585.4h3.9v14.8h-3.9zM629.2 585.4h3.9v14.8h-3.9zM636.4 585.4h3.9v14.8h-3.9zM181.9 599.9h3.9v14.8h-3.9zM214.3 599.9h3.9v14.8h-3.9zM239.6 599.9h3.9v14.8h-3.9zM257.6 599.9h3.9v14.8h-3.9zM268.4 599.9h3.9v14.8h-3.9zM308.1 599.9h3.9v14.8h-3.9zM369.4 599.9h3.9v14.8h-3.9zM398.3 599.9h3.9v14.8h-3.9zM430.8 599.9h3.9v14.8h-3.9zM466.8 599.9h3.9v14.8h-3.9zM481.3 599.9h3.9v14.8h-3.9zM539.0 599.9h3.9v14.8h-3.9zM564.2 599.9h3.9v14.8h-3.9zM585.9 599.9h3.9v14.8h-3.9zM625.6 599.9h3.9v14.8h-3.9zM207.1 614.4h3.9v14.8h-3.9zM398.3 614.4h3.9v14.8h-3.9zM401.9 614.4h3.9v14.8h-3.9zM427.2 614.4h3.9v14.8h-3.9zM539.0 614.4h3.9v14.8h-3.9zM196.3 628.9h3.9v14.8h-3.9zM272.0 628.9h3.9v14.8h-3.9zM293.7 628.9h3.9v14.8h-3.9zM315.3 628.9h3.9v14.8h-3.9zM405.5 628.9h3.9v14.8h-3.9zM438.0 628.9h3.9v14.8h-3.9zM510.1 628.9h3.9v14.8h-3.9zM531.8 628.9h3.9v14.8h-3.9zM535.4 628.9h3.9v14.8h-3.9zM228.7 643.5h3.9v14.8h-3.9zM297.3 643.5h3.9v14.8h-3.9zM355.0 643.5h3.9v14.8h-3.9zM369.4 643.5h3.9v14.8h-3.9zM391.1 643.5h3.9v14.8h-3.9zM427.2 643.5h3.9v14.8h-3.9zM434.4 643.5h3.9v14.8h-3.9zM517.3 643.5h3.9v14.8h-3.9zM539.0 643.5h3.9v14.8h-3.9zM567.9 643.5h3.9v14.8h-3.9zM614.7 643.5h3.9v14.8h-3.9zM167.4 658.0h3.9v14.8h-3.9zM286.5 658.0h3.9v14.8h-3.9zM318.9 658.0h3.9v14.8h-3.9zM373.0 658.0h3.9v14.8h-3.9zM492.1 658.0h3.9v14.8h-3.9zM495.7 658.0h3.9v14.8h-3.9zM521.0 658.0h3.9v14.8h-3.9zM593.1 658.0h3.9v14.8h-3.9zM596.7 658.0h3.9v14.8h-3.9zM611.1 658.0h3.9v14.8h-3.9zM622.0 658.0h3.9v14.8h-3.9zM189.1 672.5h3.9v14.8h-3.9zM210.7 672.5h3.9v14.8h-3.9zM236.0 672.5h3.9v14.8h-3.9zM254.0 672.5h3.9v14.8h-3.9zM286.5 672.5h3.9v14.8h-3.9zM293.7 672.5h3.9v14.8h-3.9zM308.1 672.5h3.9v14.8h-3.9zM326.2 672.5h3.9v14.8h-3.9zM337.0 672.5h3.9v14.8h-3.9zM340.6 672.5h3.9v14.8h-3.9zM477.7 672.5h3.9v14.8h-3.9zM499.3 672.5h3.9v14.8h-3.9zM546.2 672.5h3.9v14.8h-3.9zM567.9 672.5h3.9v14.8h-3.9zM589.5 672.5h3.9v14.8h-3.9zM636.4 672.5h3.9v14.8h-3.9zM185.5 687.0h3.9v14.8h-3.9zM236.0 687.0h3.9v14.8h-3.9zM344.2 687.0h3.9v14.8h-3.9zM373.0 687.0h3.9v14.8h-3.9zM456.0 687.0h3.9v14.8h-3.9zM484.9 687.0h3.9v14.8h-3.9zM502.9 687.0h3.9v14.8h-3.9zM517.3 687.0h3.9v14.8h-3.9zM553.4 687.0h3.9v14.8h-3.9zM578.7 687.0h3.9v14.8h-3.9zM589.5 687.0h3.9v14.8h-3.9zM185.5 701.5h3.9v14.8h-3.9zM189.1 701.5h3.9v14.8h-3.9zM207.1 701.5h3.9v14.8h-3.9zM333.4 701.5h3.9v14.8h-3.9zM394.7 701.5h3.9v14.8h-3.9zM456.0 701.5h3.9v14.8h-3.9zM531.8 701.5h3.9v14.8h-3.9zM217.9 716.0h3.9v14.8h-3.9zM254.0 716.0h3.9v14.8h-3.9zM272.0 716.0h3.9v14.8h-3.9zM286.5 716.0h3.9v14.8h-3.9zM311.7 716.0h3.9v14.8h-3.9zM326.2 716.0h3.9v14.8h-3.9zM430.8 716.0h3.9v14.8h-3.9zM463.2 716.0h3.9v14.8h-3.9zM474.1 716.0h3.9v14.8h-3.9zM499.3 716.0h3.9v14.8h-3.9zM528.2 716.0h3.9v14.8h-3.9zM636.4 716.0h3.9v14.8h-3.9zM196.3 730.5h3.9v14.8h-3.9zM210.7 730.5h3.9v14.8h-3.9zM275.6 730.5h3.9v14.8h-3.9zM279.3 730.5h3.9v14.8h-3.9zM300.9 730.5h3.9v14.8h-3.9zM391.1 730.5h3.9v14.8h-3.9zM535.4 730.5h3.9v14.8h-3.9zM567.9 730.5h3.9v14.8h-3.9zM618.4 730.5h3.9v14.8h-3.9zM625.6 730.5h3.9v14.8h-3.9zM632.8 730.5h3.9v14.8h-3.9zM196.3 745.0h3.9v14.8h-3.9zM297.3 745.0h3.9v14.8h-3.9zM315.3 745.0h3.9v14.8h-3.9zM318.9 745.0h3.9v14.8h-3.9zM322.5 745.0h3.9v14.8h-3.9zM329.8 745.0h3.9v14.8h-3.9zM333.4 745.0h3.9v14.8h-3.9zM351.4 745.0h3.9v14.8h-3.9zM567.9 745.0h3.9v14.8h-3.9zM582.3 745.0h3.9v14.8h-3.9zM618.4 745.0h3.9v14.8h-3.9zM225.1 759.5h3.9v14.8h-3.9zM286.5 759.5h3.9v14.8h-3.9zM297.3 759.5h3.9v14.8h-3.9zM362.2 759.5h3.9v14.8h-3.9zM434.4 759.5h3.9v14.8h-3.9zM441.6 759.5h3.9v14.8h-3.9zM499.3 759.5h3.9v14.8h-3.9zM531.8 759.5h3.9v14.8h-3.9zM546.2 759.5h3.9v14.8h-3.9zM571.5 759.5h3.9v14.8h-3.9zM582.3 759.5h3.9v14.8h-3.9zM618.4 759.5h3.9v14.8h-3.9zM622.0 759.5h3.9v14.8h-3.9zM174.6 774.0h3.9v14.8h-3.9zM178.2 774.0h3.9v14.8h-3.9zM214.3 774.0h3.9v14.8h-3.9zM254.0 774.0h3.9v14.8h-3.9zM275.6 774.0h3.9v14.8h-3.9zM286.5 774.0h3.9v14.8h-3.9zM394.7 774.0h3.9v14.8h-3.9zM521.0 774.0h3.9v14.8h-3.9zM524.6 774.0h3.9v14.8h-3.9zM557.0 774.0h3.9v14.8h-3.9zM585.9 774.0h3.9v14.8h-3.9zM589.5 774.0h3.9v14.8h-3.9zM622.0 774.0h3.9v14.8h-3.9zM203.5 788.6h3.9v14.8h-3.9zM272.0 788.6h3.9v14.8h-3.9zM282.9 788.6h3.9v14.8h-3.9zM304.5 788.6h3.9v14.8h-3.9zM326.2 788.6h3.9v14.8h-3.9zM337.0 788.6h3.9v14.8h-3.9zM416.3 788.6h3.9v14.8h-3.9zM445.2 788.6h3.9v14.8h-3.9zM539.0 788.6h3.9v14.8h-3.9zM585.9 788.6h3.9v14.8h-3.9zM593.1 788.6h3.9v14.8h-3.9zM228.7 803.1h3.9v14.8h-3.9zM261.2 803.1h3.9v14.8h-3.9zM275.6 803.1h3.9v14.8h-3.9zM300.9 803.1h3.9v14.8h-3.9zM351.4 803.1h3.9v14.8h-3.9zM355.0 803.1h3.9v14.8h-3.9zM391.1 803.1h3.9v14.8h-3.9zM394.7 803.1h3.9v14.8h-3.9zM398.3 803.1h3.9v14.8h-3.9zM430.8 803.1h3.9v14.8h-3.9zM434.4 803.1h3.9v14.8h-3.9zM438.0 803.1h3.9v14.8h-3.9zM492.1 803.1h3.9v14.8h-3.9zM495.7 803.1h3.9v14.8h-3.9zM521.0 803.1h3.9v14.8h-3.9zM564.2 803.1h3.9v14.8h-3.9zM160.2 817.6h3.9v14.8h-3.9zM225.1 817.6h3.9v14.8h-3.9zM279.3 817.6h3.9v14.8h-3.9zM304.5 817.6h3.9v14.8h-3.9zM355.0 817.6h3.9v14.8h-3.9zM394.7 817.6h3.9v14.8h-3.9zM398.3 817.6h3.9v14.8h-3.9zM423.6 817.6h3.9v14.8h-3.9zM510.1 817.6h3.9v14.8h-3.9zM585.9 817.6h3.9v14.8h-3.9zM160.2 832.1h3.9v14.8h-3.9zM196.3 832.1h3.9v14.8h-3.9zM210.7 832.1h3.9v14.8h-3.9zM236.0 832.1h3.9v14.8h-3.9zM340.6 832.1h3.9v14.8h-3.9zM416.3 832.1h3.9v14.8h-3.9zM463.2 832.1h3.9v14.8h-3.9zM466.8 832.1h3.9v14.8h-3.9zM484.9 832.1h3.9v14.8h-3.9zM524.6 832.1h3.9v14.8h-3.9zM578.7 832.1h3.9v14.8h-3.9zM207.1 846.6h3.9v14.8h-3.9zM282.9 846.6h3.9v14.8h-3.9zM290.1 846.6h3.9v14.8h-3.9zM524.6 846.6h3.9v14.8h-3.9zM539.0 846.6h3.9v14.8h-3.9zM373.0 861.1h3.9v14.8h-3.9zM380.3 861.1h3.9v14.8h-3.9zM398.3 861.1h3.9v14.8h-3.9zM481.3 861.1h3.9v14.8h-3.9zM506.5 861.1h3.9v14.8h-3.9zM513.7 861.1h3.9v14.8h-3.9zM524.6 861.1h3.9v14.8h-3.9zM528.2 861.1h3.9v14.8h-3.9zM578.7 861.1h3.9v14.8h-3.9zM611.1 861.1h3.9v14.8h-3.9zM614.7 861.1h3.9v14.8h-3.9zM199.9 875.6h3.9v14.8h-3.9zM210.7 875.6h3.9v14.8h-3.9zM286.5 875.6h3.9v14.8h-3.9zM318.9 875.6h3.9v14.8h-3.9zM380.3 875.6h3.9v14.8h-3.9zM438.0 875.6h3.9v14.8h-3.9zM488.5 875.6h3.9v14.8h-3.9zM524.6 875.6h3.9v14.8h-3.9zM196.3 890.1h3.9v14.8h-3.9zM279.3 890.1h3.9v14.8h-3.9zM398.3 890.1h3.9v14.8h-3.9zM401.9 890.1h3.9v14.8h-3.9zM409.1 890.1h3.9v14.8h-3.9zM452.4 890.1h3.9v14.8h-3.9zM492.1 890.1h3.9v14.8h-3.9zM567.9 890.1h3.9v14.8h-3.9zM167.4 904.6h3.9v14.8h-3.9zM214.3 904.6h3.9v14.8h-3.9zM311.7 904.6h3.9v14.8h-3.9zM318.9 904.6h3.9v14.8h-3.9zM333.4 904.6h3.9v14.8h-3.9zM340.6 904.6h3.9v14.8h-3.9zM355.0 904.6h3.9v14.8h-3.9zM445.2 904.6h3.9v14.8h-3.9zM488.5 904.6h3.9v14.8h-3.9zM521.0 904.6h3.9v14.8h-3.9zM585.9 904.6h3.9v14.8h-3.9zM199.9 919.1h3.9v14.8h-3.9zM272.0 919.1h3.9v14.8h-3.9zM340.6 919.1h3.9v14.8h-3.9zM376.7 919.1h3.9v14.8h-3.9zM513.7 919.1h3.9v14.8h-3.9zM517.3 919.1h3.9v14.8h-3.9zM589.5 919.1h3.9v14.8h-3.9zM603.9 919.1h3.9v14.8h-3.9zM607.5 919.1h3.9v14.8h-3.9zM185.5 933.7h3.9v14.8h-3.9zM315.3 933.7h3.9v14.8h-3.9zM365.8 933.7h3.9v14.8h-3.9zM434.4 933.7h3.9v14.8h-3.9zM466.8 933.7h3.9v14.8h-3.9zM477.7 933.7h3.9v14.8h-3.9zM521.0 933.7h3.9v14.8h-3.9zM582.3 933.7h3.9v14.8h-3.9zM593.1 933.7h3.9v14.8h-3.9zM618.4 933.7h3.9v14.8h-3.9zM632.8 933.7h3.9v14.8h-3.9zM290.1 948.2h3.9v14.8h-3.9zM311.7 948.2h3.9v14.8h-3.9zM344.2 948.2h3.9v14.8h-3.9zM362.2 948.2h3.9v14.8h-3.9zM416.3 948.2h3.9v14.8h-3.9zM571.5 948.2h3.9v14.8h-3.9zM156.6 962.7h3.9v14.8h-3.9zM297.3 962.7h3.9v14.8h-3.9zM326.2 962.7h3.9v14.8h-3.9zM340.6 962.7h3.9v14.8h-3.9zM344.2 962.7h3.9v14.8h-3.9zM380.3 962.7h3.9v14.8h-3.9zM398.3 962.7h3.9v14.8h-3.9zM405.5 962.7h3.9v14.8h-3.9zM423.6 962.7h3.9v14.8h-3.9zM481.3 962.7h3.9v14.8h-3.9zM535.4 962.7h3.9v14.8h-3.9zM564.2 962.7h3.9v14.8h-3.9zM160.2 977.2h3.9v14.8h-3.9zM203.5 977.2h3.9v14.8h-3.9zM250.4 977.2h3.9v14.8h-3.9zM279.3 977.2h3.9v14.8h-3.9zM315.3 977.2h3.9v14.8h-3.9zM387.5 977.2h3.9v14.8h-3.9zM416.3 977.2h3.9v14.8h-3.9zM423.6 977.2h3.9v14.8h-3.9zM531.8 977.2h3.9v14.8h-3.9zM560.6 977.2h3.9v14.8h-3.9zM607.5 977.2h3.9v14.8h-3.9zM185.5 991.7h3.9v14.8h-3.9zM329.8 991.7h3.9v14.8h-3.9zM358.6 991.7h3.9v14.8h-3.9zM376.7 991.7h3.9v14.8h-3.9zM466.8 991.7h3.9v14.8h-3.9zM484.9 991.7h3.9v14.8h-3.9zM510.1 991.7h3.9v14.8h-3.9zM549.8 991.7h3.9v14.8h-3.9zM564.2 991.7h3.9v14.8h-3.9zM575.1 991.7h3.9v14.8h-3.9zM156.6 1006.2h3.9v14.8h-3.9zM160.2 1006.2h3.9v14.8h-3.9zM163.8 1006.2h3.9v14.8h-3.9zM171.0 1006.2h3.9v14.8h-3.9zM174.6 1006.2h3.9v14.8h-3.9zM178.2 1006.2h3.9v14.8h-3.9zM181.9 1006.2h3.9v14.8h-3.9zM185.5 1006.2h3.9v14.8h-3.9zM189.1 1006.2h3.9v14.8h-3.9zM192.7 1006.2h3.9v14.8h-3.9zM196.3 1006.2h3.9v14.8h-3.9zM199.9 1006.2h3.9v14.8h-3.9zM203.5 1006.2h3.9v14.8h-3.9zM207.1 1006.2h3.9v14.8h-3.9zM210.7 1006.2h3.9v14.8h-3.9zM214.3 1006.2h3.9v14.8h-3.9zM217.9 1006.2h3.9v14.8h-3.9zM221.5 1006.2h3.9v14.8h-3.9zM225.1 1006.2h3.9v14.8h-3.9zM228.7 1006.2h3.9v14.8h-3.9zM232.4 1006.2h3.9v14.8h-3.9zM236.0 1006.2h3.9v14.8h-3.9zM239.6 1006.2h3.9v14.8h-3.9zM243.2 1006.2h3.9v14.8h-3.9zM246.8 1006.2h3.9v14.8h-3.9zM250.4 1006.2h3.9v14.8h-3.9zM254.0 1006.2h3.9v14.8h-3.9zM257.6 1006.2h3.9v14.8h-3.9zM261.2 1006.2h3.9v14.8h-3.9zM268.4 1006.2h3.9v14.8h-3.9zM192.7 1020.7h3.9v14.8h-3.9zM254.0 1020.7h3.9v14.8h-3.9zM257.6 1020.7h3.9v14.8h-3.9zM297.3 1020.7h3.9v14.8h-3.9zM300.9 1020.7h3.9v14.8h-3.9zM318.9 1020.7h3.9v14.8h-3.9zM340.6 1020.7h3.9v14.8h-3.9zM347.8 1020.7h3.9v14.8h-3.9zM380.3 1020.7h3.9v14.8h-3.9zM387.5 1020.7h3.9v14.8h-3.9zM391.1 1020.7h3.9v14.8h-3.9zM405.5 1020.7h3.9v14.8h-3.9zM409.1 1020.7h3.9v14.8h-3.9zM419.9 1020.7h3.9v14.8h-3.9zM445.2 1020.7h3.9v14.8h-3.9zM448.8 1020.7h3.9v14.8h-3.9zM463.2 1020.7h3.9v14.8h-3.9zM488.5 1020.7h3.9v14.8h-3.9zM499.3 1020.7h3.9v14.8h-3.9zM513.7 1020.7h3.9v14.8h-3.9zM517.3 1020.7h3.9v14.8h-3.9zM521.0 1020.7h3.9v14.8h-3.9zM524.6 1020.7h3.9v14.8h-3.9zM542.6 1020.7h3.9v14.8h-3.9zM553.4 1020.7h3.9v14.8h-3.9zM567.9 1020.7h3.9v14.8h-3.9zM571.5 1020.7h3.9v14.8h-3.9zM585.9 1020.7h3.9v14.8h-3.9zM593.1 1020.7h3.9v14.8h-3.9zM596.7 1020.7h3.9v14.8h-3.9zM600.3 1020.7h3.9v14.8h-3.9zM614.7 1020.7h3.9v14.8h-3.9zM622.0 1020.7h3.9v14.8h-3.9zM629.2 1020.7h3.9v14.8h-3.9zM239.6 1035.2h3.9v14.8h-3.9zM297.3 1035.2h3.9v14.8h-3.9zM311.7 1035.2h3.9v14.8h-3.9zM315.3 1035.2h3.9v14.8h-3.9zM326.2 1035.2h3.9v14.8h-3.9zM329.8 1035.2h3.9v14.8h-3.9zM337.0 1035.2h3.9v14.8h-3.9zM347.8 1035.2h3.9v14.8h-3.9zM380.3 1035.2h3.9v14.8h-3.9zM445.2 1035.2h3.9v14.8h-3.9zM459.6 1035.2h3.9v14.8h-3.9zM481.3 1035.2h3.9v14.8h-3.9zM484.9 1035.2h3.9v14.8h-3.9zM539.0 1035.2h3.9v14.8h-3.9zM549.8 1035.2h3.9v14.8h-3.9zM553.4 1035.2h3.9v14.8h-3.9zM557.0 1035.2h3.9v14.8h-3.9zM560.6 1035.2h3.9v14.8h-3.9zM585.9 1035.2h3.9v14.8h-3.9zM607.5 1035.2h3.9v14.8h-3.9zM611.1 1035.2h3.9v14.8h-3.9zM622.0 1035.2h3.9v14.8h-3.9zM636.4 1035.2h3.9v14.8h-3.9zM282.9 1049.7h3.9v14.8h-3.9zM322.5 1049.7h3.9v14.8h-3.9zM387.5 1049.7h3.9v14.8h-3.9zM459.6 1049.7h3.9v14.8h-3.9zM513.7 1049.7h3.9v14.8h-3.9zM542.6 1049.7h3.9v14.8h-3.9zM286.5 1064.2h3.9v14.8h-3.9zM304.5 1064.2h3.9v14.8h-3.9zM337.0 1064.2h3.9v14.8h-3.9zM344.2 1064.2h3.9v14.8h-3.9zM380.3 1064.2h3.9v14.8h-3.9zM387.5 1064.2h3.9v14.8h-3.9zM416.3 1064.2h3.9v14.8h-3.9zM564.2 1064.2h3.9v14.8h-3.9zM575.1 1064.2h3.9v14.8h-3.9zM632.8 1064.2h3.9v14.8h-3.9zM192.7 1078.8h3.9v14.8h-3.9zM225.1 1078.8h3.9v14.8h-3.9zM311.7 1078.8h3.9v14.8h-3.9zM322.5 1078.8h3.9v14.8h-3.9zM326.2 1078.8h3.9v14.8h-3.9zM351.4 1078.8h3.9v14.8h-3.9zM369.4 1078.8h3.9v14.8h-3.9zM459.6 1078.8h3.9v14.8h-3.9zM542.6 1078.8h3.9v14.8h-3.9zM625.6 1078.8h3.9v14.8h-3.9zM181.9 1093.3h3.9v14.8h-3.9zM192.7 1093.3h3.9v14.8h-3.9zM199.9 1093.3h3.9v14.8h-3.9zM239.6 1093.3h3.9v14.8h-3.9zM318.9 1093.3h3.9v14.8h-3.9zM373.0 1093.3h3.9v14.8h-3.9zM412.7 1093.3h3.9v14.8h-3.9zM419.9 1093.3h3.9v14.8h-3.9zM445.2 1093.3h3.9v14.8h-3.9zM448.8 1093.3h3.9v14.8h-3.9zM524.6 1093.3h3.9v14.8h-3.9zM585.9 1093.3h3.9v14.8h-3.9zM611.1 1093.3h3.9v14.8h-3.9zM228.7 1107.8h3.9v14.8h-3.9zM254.0 1107.8h3.9v14.8h-3.9zM257.6 1107.8h3.9v14.8h-3.9zM333.4 1107.8h3.9v14.8h-3.9zM337.0 1107.8h3.9v14.8h-3.9zM369.4 1107.8h3.9v14.8h-3.9zM441.6 1107.8h3.9v14.8h-3.9zM517.3 1107.8h3.9v14.8h-3.9zM553.4 1107.8h3.9v14.8h-3.9zM567.9 1107.8h3.9v14.8h-3.9zM607.5 1107.8h3.9v14.8h-3.9zM618.4 1107.8h3.9v14.8h-3.9zM264.8 1122.3h3.9v14.8h-3.9zM337.0 1122.3h3.9v14.8h-3.9zM365.8 1122.3h3.9v14.8h-3.9zM430.8 1122.3h3.9v14.8h-3.9zM441.6 1122.3h3.9v14.8h-3.9zM474.1 1122.3h3.9v14.8h-3.9zM477.7 1122.3h3.9v14.8h-3.9zM521.0 1122.3h3.9v14.8h-3.9zM531.8 1122.3h3.9v14.8h-3.9zM593.1 1122.3h3.9v14.8h-3.9zM611.1 1122.3h3.9v14.8h-3.9zM614.7 1122.3h3.9v14.8h-3.9zM618.4 1122.3h3.9v14.8h-3.9zM160.2 1136.8h3.9v14.8h-3.9zM171.0 1136.8h3.9v14.8h-3.9zM192.7 1136.8h3.9v14.8h-3.9zM217.9 1136.8h3.9v14.8h-3.9zM264.8 1136.8h3.9v14.8h-3.9zM300.9 1136.8h3.9v14.8h-3.9zM445.2 1136.8h3.9v14.8h-3.9zM466.8 1136.8h3.9v14.8h-3.9zM477.7 1136.8h3.9v14.8h-3.9zM506.5 1136.8h3.9v14.8h-3.9zM521.0 1136.8h3.9v14.8h-3.9zM564.2 1136.8h3.9v14.8h-3.9zM567.9 1136.8h3.9v14.8h-3.9zM575.1 1136.8h3.9v14.8h-3.9zM160.2 1151.3h3.9v14.8h-3.9zM163.8 1151.3h3.9v14.8h-3.9zM293.7 1151.3h3.9v14.8h-3.9zM326.2 1151.3h3.9v14.8h-3.9zM347.8 1151.3h3.9v14.8h-3.9zM351.4 1151.3h3.9v14.8h-3.9zM376.7 1151.3h3.9v14.8h-3.9zM394.7 1151.3h3.9v14.8h-3.9zM409.1 1151.3h3.9v14.8h-3.9zM459.6 1151.3h3.9v14.8h-3.9zM560.6 1151.3h3.9v14.8h-3.9zM567.9 1151.3h3.9v14.8h-3.9zM585.9 1151.3h3.9v14.8h-3.9zM618.4 1151.3h3.9v14.8h-3.9z"/>
<path fill="rgb(219,223,237)" d="M275.6 556.4h3.9v14.8h-3.9zM412.7 556.4h3.9v14.8h-3.9zM419.9 556.4h3.9v14.8h-3.9zM434.4 556.4h3.9v14.8h-3.9zM521.0 556.4h3.9v14.8h-3.9zM531.8 556.4h3.9v14.8h-3.9zM542.6 556.4h3.9v14.8h-3.9zM607.5 556.4h3.9v14.8h-3.9zM618.4 556.4h3.9v14.8h-3.9zM156.6 570.9h3.9v14.8h-3.9zM171.0 570.9h3.9v14.8h-3.9zM315.3 570.9h3.9v14.8h-3.9zM318.9 570.9h3.9v14.8h-3.9zM369.4 570.9h3.9v14.8h-3.9zM398.3 570.9h3.9v14.8h-3.9zM456.0 570.9h3.9v14.8h-3.9zM466.8 570.9h3.9v14.8h-3.9zM488.5 570.9h3.9v14.8h-3.9zM531.8 570.9h3.9v14.8h-3.9zM539.0 570.9h3.9v14.8h-3.9zM575.1 570.9h3.9v14.8h-3.9zM625.6 570.9h3.9v14.8h-3.9zM629.2 570.9h3.9v14.8h-3.9zM636.4 570.9h3.9v14.8h-3.9zM199.9 585.4h3.9v14.8h-3.9zM210.7 585.4h3.9v14.8h-3.9zM297.3 585.4h3.9v14.8h-3.9zM304.5 585.4h3.9v14.8h-3.9zM318.9 585.4h3.9v14.8h-3.9zM351.4 585.4h3.9v14.8h-3.9zM355.0 585.4h3.9v14.8h-3.9zM513.7 585.4h3.9v14.8h-3.9zM531.8 585.4h3.9v14.8h-3.9zM535.4 585.4h3.9v14.8h-3.9zM553.4 585.4h3.9v14.8h-3.9zM593.1 585.4h3.9v14.8h-3.9zM625.6 585.4h3.9v14.8h-3.9zM163.8 599.9h3.9v14.8h-3.9zM192.7 599.9h3.9v14.8h-3.9zM243.2 599.9h3.9v14.8h-3.9zM318.9 599.9h3.9v14.8h-3.9zM358.6 599.9h3.9v14.8h-3.9zM365.8 599.9h3.9v14.8h-3.9zM448.8 599.9h3.9v14.8h-3.9zM456.0 599.9h3.9v14.8h-3.9zM470.4 599.9h3.9v14.8h-3.9zM510.1 599.9h3.9v14.8h-3.9zM582.3 599.9h3.9v14.8h-3.9zM629.2 599.9h3.9v14.8h-3.9zM286.5 614.4h3.9v14.8h-3.9zM351.4 614.4h3.9v14.8h-3.9zM365.8 614.4h3.9v14.8h-3.9zM380.3 614.4h3.9v14.8h-3.9zM463.2 614.4h3.9v14.8h-3.9zM474.1 614.4h3.9v14.8h-3.9zM488.5 614.4h3.9v14.8h-3.9zM549.8 614.4h3.9v14.8h-3.9zM585.9 614.4h3.9v14.8h-3.9zM607.5 614.4h3.9v14.8h-3.9zM614.7 614.4h3.9v14.8h-3.9zM156.6 628.9h3.9v14.8h-3.9zM174.6 628.9h3.9v14.8h-3.9zM207.1 628.9h3.9v14.8h-3.9zM279.3 628.9h3.9v14.8h-3.9zM318.9 628.9h3.9v14.8h-3.9zM322.5 628.9h3.9v14.8h-3.9zM337.0 628.9h3.9v14.8h-3.9zM340.6 628.9h3.9v14.8h-3.9zM380.3 628.9h3.9v14.8h-3.9zM430.8 628.9h3.9v14.8h-3.9zM474.1 628.9h3.9v14.8h-3.9zM528.2 628.9h3.9v14.8h-3.9zM539.0 628.9h3.9v14.8h-3.9zM618.4 628.9h3.9v14.8h-3.9zM254.0 643.5h3.9v14.8h-3.9zM394.7 643.5h3.9v14.8h-3.9zM438.0 643.5h3.9v14.8h-3.9zM448.8 643.5h3.9v14.8h-3.9zM459.6 643.5h3.9v14.8h-3.9zM466.8 643.5h3.9v14.8h-3.9zM492.1 643.5h3.9v14.8h-3.9zM502.9 643.5h3.9v14.8h-3.9zM625.6 643.5h3.9v14.8h-3.9zM629.2 643.5h3.9v14.8h-3.9zM160.2 658.0h3.9v14.8h-3.9zM308.1 658.0h3.9v14.8h-3.9zM329.8 658.0h3.9v14.8h-3.9zM337.0 658.0h3.9v14.8h-3.9zM347.8 658.0h3.9v14.8h-3.9zM355.0 658.0h3.9v14.8h-3.9zM463.2 658.0h3.9v14.8h-3.9zM477.7 658.0h3.9v14.8h-3.9zM506.5 658.0h3.9v14.8h-3.9zM539.0 658.0h3.9v14.8h-3.9zM553.4 658.0h3.9v14.8h-3.9zM632.8 658.0h3.9v14.8h-3.9zM290.1 672.5h3.9v14.8h-3.9zM300.9 672.5h3.9v14.8h-3.9zM344.2 672.5h3.9v14.8h-3.9zM391.1 672.5h3.9v14.8h-3.9zM412.7 672.5h3.9v14.8h-3.9zM427.2 672.5h3.9v14.8h-3.9zM466.8 672.5h3.9v14.8h-3.9zM600.3 672.5h3.9v14.8h-3.9zM167.4 687.0h3.9v14.8h-3.9zM174.6 687.0h3.9v14.8h-3.9zM246.8 687.0h3.9v14.8h-3.9zM272.0 687.0h3.9v14.8h-3.9zM300.9 687.0h3.9v14.8h-3.9zM322.5 687.0h3.9v14.8h-3.9zM329.8 687.0h3.9v14.8h-3.9zM337.0 687.0h3.9v14.8h-3.9zM340.6 687.0h3.9v14.8h-3.9zM347.8 687.0h3.9v14.8h-3.9zM358.6 687.0h3.9v14.8h-3.9zM394.7 687.0h3.9v14.8h-3.9zM470.4 687.0h3.9v14.8h-3.9zM481.3 687.0h3.9v14.8h-3.9zM513.7 687.0h3.9v14.8h-3.9zM521.0 687.0h3.9v14.8h-3.9zM524.6 687.0h3.9v14.8h-3.9zM596.7 687.0h3.9v14.8h-3.9zM622.0 687.0h3.9v14.8h-3.9zM160.2 701.5h3.9v14.8h-3.9zM171.0 701.5h3.9v14.8h-3.9zM192.7 701.5h3.9v14.8h-3.9zM203.5 701.5h3.9v14.8h-3.9zM232.4 701.5h3.9v14.8h-3.9zM243.2 701.5h3.9v14.8h-3.9zM279.3 701.5h3.9v14.8h-3.9zM304.5 701.5h3.9v14.8h-3.9zM311.7 701.5h3.9v14.8h-3.9zM362.2 701.5h3.9v14.8h-3.9zM373.0 701.5h3.9v14.8h-3.9zM427.2 701.5h3.9v14.8h-3.9zM434.4 701.5h3.9v14.8h-3.9zM441.6 701.5h3.9v14.8h-3.9zM448.8 701.5h3.9v14.8h-3.9zM470.4 701.5h3.9v14.8h-3.9zM474.1 701.5h3.9v14.8h-3.9zM513.7 701.5h3.9v14.8h-3.9zM549.8 701.5h3.9v14.8h-3.9zM636.4 701.5h3.9v14.8h-3.9zM297.3 716.0h3.9v14.8h-3.9zM362.2 716.0h3.9v14.8h-3.9zM380.3 716.0h3.9v14.8h-3.9zM409.1 716.0h3.9v14.8h-3.9zM459.6 716.0h3.9v14.8h-3.9zM481.3 716.0h3.9v14.8h-3.9zM510.1 716.0h3.9v14.8h-3.9zM517.3 716.0h3.9v14.8h-3.9zM593.1 716.0h3.9v14.8h-3.9zM618.4 716.0h3.9v14.8h-3.9zM622.0 716.0h3.9v14.8h-3.9zM239.6 730.5h3.9v14.8h-3.9zM254.0 730.5h3.9v14.8h-3.9zM376.7 730.5h3.9v14.8h-3.9zM409.1 730.5h3.9v14.8h-3.9zM441.6 730.5h3.9v14.8h-3.9zM477.7 730.5h3.9v14.8h-3.9zM492.1 730.5h3.9v14.8h-3.9zM495.7 730.5h3.9v14.8h-3.9zM510.1 730.5h3.9v14.8h-3.9zM553.4 730.5h3.9v14.8h-3.9zM596.7 730.5h3.9v14.8h-3.9zM203.5 745.0h3.9v14.8h-3.9zM250.4 745.0h3.9v14.8h-3.9zM261.2 745.0h3.9v14.8h-3.9zM290.1 745.0h3.9v14.8h-3.9zM304.5 745.0h3.9v14.8h-3.9zM337.0 745.0h3.9v14.8h-3.9zM362.2 745.0h3.9v14.8h-3.9zM405.5 745.0h3.9v14.8h-3.9zM412.7 745.0h3.9v14.8h-3.9zM452.4 745.0h3.9v14.8h-3.9zM466.8 745.0h3.9v14.8h-3.9zM477.7 745.0h3.9v14.8h-3.9zM499.3 745.0h3.9v14.8h-3.9zM510.1 745.0h3.9v14.8h-3.9zM521.0 745.0h3.9v14.8h-3.9zM524.6 745.0h3.9v14.8h-3.9zM542.6 745.0h3.9v14.8h-3.9zM549.8 745.0h3.9v14.8h-3.9zM553.4 745.0h3.9v14.8h-3.9zM593.1 745.0h3.9v14.8h-3.9zM611.1 745.0h3.9v14.8h-3.9zM629.2 745.0h3.9v14.8h-3.9zM171.0 759.5h3.9v14.8h-3.9zM239.6 759.5h3.9v14.8h-3.9zM272.0 759.5h3.9v14.8h-3.9zM311.7 759.5h3.9v14.8h-3.9zM333.4 759.5h3.9v14.8h-3.9zM387.5 759.5h3.9v14.8h-3.9zM463.2 759.5h3.9v14.8h-3.9zM466.8 759.5h3.9v14.8h-3.9zM517.3 759.5h3.9v14.8h-3.9zM553.4 759.5h3.9v14.8h-3.9zM557.0 759.5h3.9v14.8h-3.9zM578.7 759.5h3.9v14.8h-3.9zM589.5 759.5h3.9v14.8h-3.9zM593.1 759.5h3.9v14.8h-3.9zM156.6 774.0h3.9v14.8h-3.9zM160.2 774.0h3.9v14.8h-3.9zM189.1 774.0h3.9v14.8h-3.9zM196.3 774.0h3.9v14.8h-3.9zM210.7 774.0h3.9v14.8h-3.9zM217.9 774.0h3.9v14.8h-3.9zM221.5 774.0h3.9v14.8h-3.9zM239.6 774.0h3.9v14.8h-3.9zM250.4 774.0h3.9v14.8h-3.9zM261.2 774.0h3.9v14.8h-3.9zM268.4 774.0h3.9v14.8h-3.9zM272.0 774.0h3.9v14.8h-3.9zM355.0 774.0h3.9v14.8h-3.9zM358.6 774.0h3.9v14.8h-3.9zM373.0 774.0h3.9v14.8h-3.9zM391.1 774.0h3.9v14.8h-3.9zM398.3 774.0h3.9v14.8h-3.9zM430.8 774.0h3.9v14.8h-3.9zM448.8 774.0h3.9v14.8h-3.9zM463.2 774.0h3.9v14.8h-3.9zM560.6 774.0h3.9v14.8h-3.9zM567.9 774.0h3.9v14.8h-3.9zM163.8 788.6h3.9v14.8h-3.9zM174.6 788.6h3.9v14.8h-3.9zM196.3 788.6h3.9v14.8h-3.9zM214.3 788.6h3.9v14.8h-3.9zM315.3 788.6h3.9v14.8h-3.9zM318.9 788.6h3.9v14.8h-3.9zM329.8 788.6h3.9v14.8h-3.9zM369.4 788.6h3.9v14.8h-3.9zM373.0 788.6h3.9v14.8h-3.9zM434.4 788.6h3.9v14.8h-3.9zM484.9 788.6h3.9v14.8h-3.9zM488.5 788.6h3.9v14.8h-3.9zM546.2 788.6h3.9v14.8h-3.9zM163.8 803.1h3.9v14.8h-3.9zM207.1 803.1h3.9v14.8h-3.9zM236.0 803.1h3.9v14.8h-3.9zM250.4 803.1h3.9v14.8h-3.9zM257.6 803.1h3.9v14.8h-3.9zM333.4 803.1h3.9v14.8h-3.9zM358.6 803.1h3.9v14.8h-3.9zM376.7 803.1h3.9v14.8h-3.9zM405.5 803.1h3.9v14.8h-3.9zM445.2 803.1h3.9v14.8h-3.9zM452.4 803.1h3.9v14.8h-3.9zM549.8 803.1h3.9v14.8h-3.9zM174.6 817.6h3.9v14.8h-3.9zM192.7 817.6h3.9v14.8h-3.9zM214.3 817.6h3.9v14.8h-3.9zM236.0 817.6h3.9v14.8h-3.9zM239.6 817.6h3.9v14.8h-3.9zM286.5 817.6h3.9v14.8h-3.9zM315.3 817.6h3.9v14.8h-3.9zM318.9 817.6h3.9v14.8h-3.9zM358.6 817.6h3.9v14.8h-3.9zM409.1 817.6h3.9v14.8h-3.9zM441.6 817.6h3.9v14.8h-3.9zM495.7 817.6h3.9v14.8h-3.9zM499.3 817.6h3.9v14.8h-3.9zM517.3 817.6h3.9v14.8h-3.9zM524.6 817.6h3.9v14.8h-3.9zM582.3 817.6h3.9v14.8h-3.9zM199.9 832.1h3.9v14.8h-3.9zM232.4 832.1h3.9v14.8h-3.9zM239.6 832.1h3.9v14.8h-3.9zM365.8 832.1h3.9v14.8h-3.9zM373.0 832.1h3.9v14.8h-3.9zM376.7 832.1h3.9v14.8h-3.9zM387.5 832.1h3.9v14.8h-3.9zM394.7 832.1h3.9v14.8h-3.9zM412.7 832.1h3.9v14.8h-3.9zM419.9 832.1h3.9v14.8h-3.9zM427.2 832.1h3.9v14.8h-3.9zM445.2 832.1h3.9v14.8h-3.9zM502.9 832.1h3.9v14.8h-3.9zM506.5 832.1h3.9v14.8h-3.9zM600.3 832.1h3.9v14.8h-3.9zM622.0 832.1h3.9v14.8h-3.9zM625.6 832.1h3.9v14.8h-3.9zM629.2 832.1h3.9v14.8h-3.9zM636.4 832.1h3.9v14.8h-3.9zM163.8 846.6h3.9v14.8h-3.9zM192.7 846.6h3.9v14.8h-3.9zM358.6 846.6h3.9v14.8h-3.9zM391.1 846.6h3.9v14.8h-3.9zM412.7 846.6h3.9v14.8h-3.9zM438.0 846.6h3.9v14.8h-3.9zM441.6 846.6h3.9v14.8h-3.9zM484.9 846.6h3.9v14.8h-3.9zM560.6 846.6h3.9v14.8h-3.9zM567.9 846.6h3.9v14.8h-3.9zM571.5 846.6h3.9v14.8h-3.9zM596.7 846.6h3.9v14.8h-3.9zM196.3 861.1h3.9v14.8h-3.9zM210.7 861.1h3.9v14.8h-3.9zM275.6 861.1h3.9v14.8h-3.9zM282.9 861.1h3.9v14.8h-3.9zM318.9 861.1h3.9v14.8h-3.9zM394.7 861.1h3.9v14.8h-3.9zM405.5 861.1h3.9v14.8h-3.9zM438.0 861.1h3.9v14.8h-3.9zM441.6 861.1h3.9v14.8h-3.9zM539.0 861.1h3.9v14.8h-3.9zM557.0 861.1h3.9v14.8h-3.9zM629.2 861.1h3.9v14.8h-3.9zM174.6 875.6h3.9v14.8h-3.9zM261.2 875.6h3.9v14.8h-3.9zM394.7 875.6h3.9v14.8h-3.9zM445.2 875.6h3.9v14.8h-3.9zM459.6 875.6h3.9v14.8h-3.9zM521.0 875.6h3.9v14.8h-3.9zM542.6 875.6h3.9v14.8h-3.9zM578.7 875.6h3.9v14.8h-3.9zM636.4 875.6h3.9v14.8h-3.9zM174.6 890.1h3.9v14.8h-3.9zM185.5 890.1h3.9v14.8h-3.9zM214.3 890.1h3.9v14.8h-3.9zM236.0 890.1h3.9v14.8h-3.9zM246.8 890.1h3.9v14.8h-3.9zM261.2 890.1h3.9v14.8h-3.9zM282.9 890.1h3.9v14.8h-3.9zM311.7 890.1h3.9v14.8h-3.9zM326.2 890.1h3.9v14.8h-3.9zM358.6 890.1h3.9v14.8h-3.9zM380.3 890.1h3.9v14.8h-3.9zM441.6 890.1h3.9v14.8h-3.9zM459.6 890.1h3.9v14.8h-3.9zM571.5 890.1h3.9v14.8h-3.9zM578.7 890.1h3.9v14.8h-3.9zM629.2 890.1h3.9v14.8h-3.9zM163.8 904.6h3.9v14.8h-3.9zM192.7 904.6h3.9v14.8h-3.9zM326.2 904.6h3.9v14.8h-3.9zM401.9 904.6h3.9v14.8h-3.9zM470.4 904.6h3.9v14.8h-3.9zM531.8 904.6h3.9v14.8h-3.9zM596.7 904.6h3.9v14.8h-3.9zM600.3 904.6h3.9v14.8h-3.9zM185.5 919.1h3.9v14.8h-3.9zM243.2 919.1h3.9v14.8h-3.9zM261.2 919.1h3.9v14.8h-3.9zM275.6 919.1h3.9v14.8h-3.9zM358.6 919.1h3.9v14.8h-3.9zM412.7 919.1h3.9v14.8h-3.9zM434.4 919.1h3.9v14.8h-3.9zM557.0 919.1h3.9v14.8h-3.9zM210.7 933.7h3.9v14.8h-3.9zM261.2 933.7h3.9v14.8h-3.9zM297.3 933.7h3.9v14.8h-3.9zM358.6 933.7h3.9v14.8h-3.9zM362.2 933.7h3.9v14.8h-3.9zM376.7 933.7h3.9v14.8h-3.9zM401.9 933.7h3.9v14.8h-3.9zM441.6 933.7h3.9v14.8h-3.9zM459.6 933.7h3.9v14.8h-3.9zM463.2 933.7h3.9v14.8h-3.9zM492.1 933.7h3.9v14.8h-3.9zM575.1 933.7h3.9v14.8h-3.9zM629.2 933.7h3.9v14.8h-3.9zM178.2 948.2h3.9v14.8h-3.9zM196.3 948.2h3.9v14.8h-3.9zM214.3 948.2h3.9v14.8h-3.9zM232.4 948.2h3.9v14.8h-3.9zM297.3 948.2h3.9v14.8h-3.9zM340.6 948.2h3.9v14.8h-3.9zM405.5 948.2h3.9v14.8h-3.9zM466.8 948.2h3.9v14.8h-3.9zM481.3 948.2h3.9v14.8h-3.9zM567.9 948.2h3.9v14.8h-3.9zM611.1 948.2h3.9v14.8h-3.9zM632.8 948.2h3.9v14.8h-3.9zM178.2 962.7h3.9v14.8h-3.9zM185.5 962.7h3.9v14.8h-3.9zM196.3 962.7h3.9v14.8h-3.9zM214.3 962.7h3.9v14.8h-3.9zM254.0 962.7h3.9v14.8h-3.9zM333.4 962.7h3.9v14.8h-3.9zM365.8 962.7h3.9v14.8h-3.9zM376.7 962.7h3.9v14.8h-3.9zM521.0 962.7h3.9v14.8h-3.9zM553.4 962.7h3.9v14.8h-3.9zM603.9 962.7h3.9v14.8h-3.9zM214.3 977.2h3.9v14.8h-3.9zM254.0 977.2h3.9v14.8h-3.9zM326.2 977.2h3.9v14.8h-3.9zM347.8 977.2h3.9v14.8h-3.9zM355.0 977.2h3.9v14.8h-3.9zM401.9 977.2h3.9v14.8h-3.9zM405.5 977.2h3.9v14.8h-3.9zM438.0 977.2h3.9v14.8h-3.9zM445.2 977.2h3.9v14.8h-3.9zM466.8 977.2h3.9v14.8h-3.9zM575.1 977.2h3.9v14.8h-3.9zM593.1 977.2h3.9v14.8h-3.9zM596.7 977.2h3.9v14.8h-3.9zM600.3 977.2h3.9v14.8h-3.9zM618.4 977.2h3.9v14.8h-3.9zM174.6 991.7h3.9v14.8h-3.9zM225.1 991.7h3.9v14.8h-3.9zM243.2 991.7h3.9v14.8h-3.9zM250.4 991.7h3.9v14.8h-3.9zM304.5 991.7h3.9v14.8h-3.9zM308.1 991.7h3.9v14.8h-3.9zM318.9 991.7h3.9v14.8h-3.9zM405.5 991.7h3.9v14.8h-3.9zM448.8 991.7h3.9v14.8h-3.9zM481.3 991.7h3.9v14.8h-3.9zM513.7 991.7h3.9v14.8h-3.9zM524.6 991.7h3.9v14.8h-3.9zM181.9 1020.7h3.9v14.8h-3.9zM189.1 1020.7h3.9v14.8h-3.9zM196.3 1020.7h3.9v14.8h-3.9zM203.5 1020.7h3.9v14.8h-3.9zM207.1 1020.7h3.9v14.8h-3.9zM210.7 1020.7h3.9v14.8h-3.9zM250.4 1020.7h3.9v14.8h-3.9zM279.3 1020.7h3.9v14.8h-3.9zM293.7 1020.7h3.9v14.8h-3.9zM337.0 1020.7h3.9v14.8h-3.9zM351.4 1020.7h3.9v14.8h-3.9zM358.6 1020.7h3.9v14.8h-3.9zM423.6 1020.7h3.9v14.8h-3.9zM466.8 1020.7h3.9v14.8h-3.9zM481.3 1020.7h3.9v14.8h-3.9zM506.5 1020.7h3.9v14.8h-3.9zM535.4 1020.7h3.9v14.8h-3.9zM546.2 1020.7h3.9v14.8h-3.9zM560.6 1020.7h3.9v14.8h-3.9zM625.6 1020.7h3.9v14.8h-3.9zM160.2 1035.2h3.9v14.8h-3.9zM167.4 1035.2h3.9v14.8h-3.9zM171.0 1035.2h3.9v14.8h-3.9zM174.6 1035.2h3.9v14.8h-3.9zM192.7 1035.2h3.9v14.8h-3.9zM228.7 1035.2h3.9v14.8h-3.9zM236.0 1035.2h3.9v14.8h-3.9zM250.4 1035.2h3.9v14.8h-3.9zM268.4 1035.2h3.9v14.8h-3.9zM293.7 1035.2h3.9v14.8h-3.9zM318.9 1035.2h3.9v14.8h-3.9zM355.0 1035.2h3.9v14.8h-3.9zM358.6 1035.2h3.9v14.8h-3.9zM369.4 1035.2h3.9v14.8h-3.9zM391.1 1035.2h3.9v14.8h-3.9zM394.7 1035.2h3.9v14.8h-3.9zM401.9 1035.2h3.9v14.8h-3.9zM409.1 1035.2h3.9v14.8h-3.9zM448.8 1035.2h3.9v14.8h-3.9zM466.8 1035.2h3.9v14.8h-3.9zM499.3 1035.2h3.9v14.8h-3.9zM502.9 1035.2h3.9v14.8h-3.9zM513.7 1035.2h3.9v14.8h-3.9zM535.4 1035.2h3.9v14.8h-3.9zM571.5 1035.2h3.9v14.8h-3.9zM614.7 1035.2h3.9v14.8h-3.9zM618.4 1035.2h3.9v14.8h-3.9zM160.2 1049.7h3.9v14.8h-3.9zM207.1 1049.7h3.9v14.8h-3.9zM275.6 1049.7h3.9v14.8h-3.9zM329.8 1049.7h3.9v14.8h-3.9zM358.6 1049.7h3.9v14.8h-3.9zM376.7 1049.7h3.9v14.8h-3.9zM427.2 1049.7h3.9v14.8h-3.9zM636.4 1049.7h3.9v14.8h-3.9zM160.2 1064.2h3.9v14.8h-3.9zM174.6 1064.2h3.9v14.8h-3.9zM217.9 1064.2h3.9v14.8h-3.9zM232.4 1064.2h3.9v14.8h-3.9zM279.3 1064.2h3.9v14.8h-3.9zM430.8 1064.2h3.9v14.8h-3.9zM463.2 1064.2h3.9v14.8h-3.9zM466.8 1064.2h3.9v14.8h-3.9zM499.3 1064.2h3.9v14.8h-3.9zM567.9 1064.2h3.9v14.8h-3.9zM582.3 1064.2h3.9v14.8h-3.9zM600.3 1064.2h3.9v14.8h-3.9zM174.6 1078.8h3.9v14.8h-3.9zM217.9 1078.8h3.9v14.8h-3.9zM282.9 1078.8h3.9v14.8h-3.9zM297.3 1078.8h3.9v14.8h-3.9zM333.4 1078.8h3.9v14.8h-3.9zM373.0 1078.8h3.9v14.8h-3.9zM391.1 1078.8h3.9v14.8h-3.9zM394.7 1078.8h3.9v14.8h-3.9zM423.6 1078.8h3.9v14.8h-3.9zM438.0 1078.8h3.9v14.8h-3.9zM481.3 1078.8h3.9v14.8h-3.9zM502.9 1078.8h3.9v14.8h-3.9zM567.9 1078.8h3.9v14.8h-3.9zM571.5 1078.8h3.9v14.8h-3.9zM286.5 1093.3h3.9v14.8h-3.9zM290.1 1093.3h3.9v14.8h-3.9zM340.6 1093.3h3.9v14.8h-3.9zM380.3 1093.3h3.9v14.8h-3.9zM387.5 1093.3h3.9v14.8h-3.9zM456.0 1093.3h3.9v14.8h-3.9zM459.6 1093.3h3.9v14.8h-3.9zM499.3 1093.3h3.9v14.8h-3.9zM502.9 1093.3h3.9v14.8h-3.9zM510.1 1093.3h3.9v14.8h-3.9zM632.8 1093.3h3.9v14.8h-3.9zM160.2 1107.8h3.9v14.8h-3.9zM174.6 1107.8h3.9v14.8h-3.9zM214.3 1107.8h3.9v14.8h-3.9zM239.6 1107.8h3.9v14.8h-3.9zM246.8 1107.8h3.9v14.8h-3.9zM261.2 1107.8h3.9v14.8h-3.9zM279.3 1107.8h3.9v14.8h-3.9zM308.1 1107.8h3.9v14.8h-3.9zM315.3 1107.8h3.9v14.8h-3.9zM326.2 1107.8h3.9v14.8h-3.9zM412.7 1107.8h3.9v14.8h-3.9zM499.3 1107.8h3.9v14.8h-3.9zM528.2 1107.8h3.9v14.8h-3.9zM557.0 1107.8h3.9v14.8h-3.9zM622.0 1107.8h3.9v14.8h-3.9zM160.2 1122.3h3.9v14.8h-3.9zM196.3 1122.3h3.9v14.8h-3.9zM228.7 1122.3h3.9v14.8h-3.9zM236.0 1122.3h3.9v14.8h-3.9zM239.6 1122.3h3.9v14.8h-3.9zM275.6 1122.3h3.9v14.8h-3.9zM297.3 1122.3h3.9v14.8h-3.9zM300.9 1122.3h3.9v14.8h-3.9zM344.2 1122.3h3.9v14.8h-3.9zM362.2 1122.3h3.9v14.8h-3.9zM398.3 1122.3h3.9v14.8h-3.9zM405.5 1122.3h3.9v14.8h-3.9zM427.2 1122.3h3.9v14.8h-3.9zM567.9 1122.3h3.9v14.8h-3.9zM603.9 1122.3h3.9v14.8h-3.9zM163.8 1136.8h3.9v14.8h-3.9zM174.6 1136.8h3.9v14.8h-3.9zM207.1 1136.8h3.9v14.8h-3.9zM221.5 1136.8h3.9v14.8h-3.9zM246.8 1136.8h3.9v14.8h-3.9zM272.0 1136.8h3.9v14.8h-3.9zM308.1 1136.8h3.9v14.8h-3.9zM311.7 1136.8h3.9v14.8h-3.9zM318.9 1136.8h3.9v14.8h-3.9zM326.2 1136.8h3.9v14.8h-3.9zM329.8 1136.8h3.9v14.8h-3.9zM391.1 1136.8h3.9v14.8h-3.9zM405.5 1136.8h3.9v14.8h-3.9zM448.8 1136.8h3.9v14.8h-3.9zM452.4 1136.8h3.9v14.8h-3.9zM474.1 1136.8h3.9v14.8h-3.9zM560.6 1136.8h3.9v14.8h-3.9zM571.5 1136.8h3.9v14.8h-3.9zM578.7 1136.8h3.9v14.8h-3.9zM600.3 1136.8h3.9v14.8h-3.9zM614.7 1136.8h3.9v14.8h-3.9zM625.6 1136.8h3.9v14.8h-3.9zM181.9 1151.3h3.9v14.8h-3.9zM196.3 1151.3h3.9v14.8h-3.9zM225.1 1151.3h3.9v14.8h-3.9zM250.4 1151.3h3.9v14.8h-3.9zM286.5 1151.3h3.9v14.8h-3.9zM300.9 1151.3h3.9v14.8h-3.9zM369.4 1151.3h3.9v14.8h-3.9zM383.9 1151.3h3.9v14.8h-3.9zM398.3 1151.3h3.9v14.8h-3.9zM405.5 1151.3h3.9v14.8h-3.9zM423.6 1151.3h3.9v14.8h-3.9zM502.9 1151.3h3.9v14.8h-3.9zM524.6 1151.3h3.9v14.8h-3.9zM593.1 1151.3h3.9v14.8h-3.9zM596.7 1151.3h3.9v14.8h-3.9z"/>
<path fill="rgb(202,208,229)" d="M293.7 556.4h3.9v14.8h-3.9zM351.4 556.4h3.9v14.8h-3.9zM394.7 556.4h3.9v14.8h-3.9zM423.6 556.4h3.9v14.8h-3.9zM438.0 556.4h3.9v14.8h-3.9zM459.6 556.4h3.9v14.8h-3.9zM481.3 556.4h3.9v14.8h-3.9zM495.7 556.4h3.9v14.8h-3.9zM502.9 556.4h3.9v14.8h-3.9zM510.1 556.4h3.9v14.8h-3.9zM571.5 556.4h3.9v14.8h-3.9zM575.1 556.4h3.9v14.8h-3.9zM600.3 556.4h3.9v14.8h-3.9zM603.9 556.4h3.9v14.8h-3.9zM286.5 570.9h3.9v14.8h-3.9zM376.7 570.9h3.9v14.8h-3.9zM383.9 570.9h3.9v14.8h-3.9zM412.7 570.9h3.9v14.8h-3.9zM427.2 570.9h3.9v14.8h-3.9zM434.4 570.9h3.9v14.8h-3.9zM441.6 570.9h3.9v14.8h-3.9zM560.6 570.9h3.9v14.8h-3.9zM578.7 570.9h3.9v14.8h-3.9zM614.7 570.9h3.9v14.8h-3.9zM632.8 570.9h3.9v14.8h-3.9zM156.6 585.4h3.9v14.8h-3.9zM167.4 585.4h3.9v14.8h-3.9zM246.8 585.4h3.9v14.8h-3.9zM268.4 585.4h3.9v14.8h-3.9zM286.5 585.4h3.9v14.8h-3.9zM344.2 585.4h3.9v14.8h-3.9zM347.8 585.4h3.9v14.8h-3.9zM376.7 585.4h3.9v14.8h-3.9zM423.6 585.4h3.9v14.8h-3.9zM427.2 585.4h3.9v14.8h-3.9zM521.0 585.4h3.9v14.8h-3.9zM571.5 585.4h3.9v14.8h-3.9zM589.5 585.4h3.9v14.8h-3.9zM174.6 599.9h3.9v14.8h-3.9zM203.5 599.9h3.9v14.8h-3.9zM207.1 599.9h3.9v14.8h-3.9zM286.5 599.9h3.9v14.8h-3.9zM340.6 599.9h3.9v14.8h-3.9zM409.1 599.9h3.9v14.8h-3.9zM419.9 599.9h3.9v14.8h-3.9zM441.6 599.9h3.9v14.8h-3.9zM445.2 599.9h3.9v14.8h-3.9zM463.2 599.9h3.9v14.8h-3.9zM549.8 599.9h3.9v14.8h-3.9zM571.5 599.9h3.9v14.8h-3.9zM575.1 599.9h3.9v14.8h-3.9zM603.9 599.9h3.9v14.8h-3.9zM300.9 614.4h3.9v14.8h-3.9zM333.4 614.4h3.9v14.8h-3.9zM423.6 614.4h3.9v14.8h-3.9zM438.0 614.4h3.9v14.8h-3.9zM448.8 614.4h3.9v14.8h-3.9zM452.4 614.4h3.9v14.8h-3.9zM484.9 614.4h3.9v14.8h-3.9zM524.6 614.4h3.9v14.8h-3.9zM452.4 628.9h3.9v14.8h-3.9zM506.5 628.9h3.9v14.8h-3.9zM560.6 628.9h3.9v14.8h-3.9zM607.5 628.9h3.9v14.8h-3.9zM611.1 628.9h3.9v14.8h-3.9zM282.9 643.5h3.9v14.8h-3.9zM337.0 643.5h3.9v14.8h-3.9zM373.0 643.5h3.9v14.8h-3.9zM419.9 643.5h3.9v14.8h-3.9zM477.7 643.5h3.9v14.8h-3.9zM282.9 658.0h3.9v14.8h-3.9zM380.3 658.0h3.9v14.8h-3.9zM430.8 658.0h3.9v14.8h-3.9zM448.8 658.0h3.9v14.8h-3.9zM466.8 658.0h3.9v14.8h-3.9zM470.4 658.0h3.9v14.8h-3.9zM524.6 658.0h3.9v14.8h-3.9zM567.9 658.0h3.9v14.8h-3.9zM582.3 658.0h3.9v14.8h-3.9zM383.9 672.5h3.9v14.8h-3.9zM394.7 672.5h3.9v14.8h-3.9zM398.3 672.5h3.9v14.8h-3.9zM452.4 672.5h3.9v14.8h-3.9zM470.4 672.5h3.9v14.8h-3.9zM524.6 672.5h3.9v14.8h-3.9zM535.4 672.5h3.9v14.8h-3.9zM553.4 672.5h3.9v14.8h-3.9zM189.1 687.0h3.9v14.8h-3.9zM232.4 687.0h3.9v14.8h-3.9zM279.3 687.0h3.9v14.8h-3.9zM355.0 687.0h3.9v14.8h-3.9zM441.6 687.0h3.9v14.8h-3.9zM459.6 687.0h3.9v14.8h-3.9zM499.3 687.0h3.9v14.8h-3.9zM506.5 687.0h3.9v14.8h-3.9zM625.6 687.0h3.9v14.8h-3.9zM636.4 687.0h3.9v14.8h-3.9zM254.0 701.5h3.9v14.8h-3.9zM272.0 701.5h3.9v14.8h-3.9zM322.5 701.5h3.9v14.8h-3.9zM326.2 701.5h3.9v14.8h-3.9zM347.8 701.5h3.9v14.8h-3.9zM466.8 701.5h3.9v14.8h-3.9zM502.9 701.5h3.9v14.8h-3.9zM542.6 701.5h3.9v14.8h-3.9zM553.4 701.5h3.9v14.8h-3.9zM575.1 701.5h3.9v14.8h-3.9zM582.3 701.5h3.9v14.8h-3.9zM203.5 716.0h3.9v14.8h-3.9zM232.4 716.0h3.9v14.8h-3.9zM279.3 716.0h3.9v14.8h-3.9zM358.6 716.0h3.9v14.8h-3.9zM369.4 716.0h3.9v14.8h-3.9zM441.6 716.0h3.9v14.8h-3.9zM448.8 716.0h3.9v14.8h-3.9zM456.0 716.0h3.9v14.8h-3.9zM564.2 716.0h3.9v14.8h-3.9zM578.7 716.0h3.9v14.8h-3.9zM629.2 716.0h3.9v14.8h-3.9zM246.8 730.5h3.9v14.8h-3.9zM268.4 730.5h3.9v14.8h-3.9zM481.3 730.5h3.9v14.8h-3.9zM502.9 730.5h3.9v14.8h-3.9zM524.6 730.5h3.9v14.8h-3.9zM163.8 745.0h3.9v14.8h-3.9zM167.4 745.0h3.9v14.8h-3.9zM369.4 745.0h3.9v14.8h-3.9zM376.7 745.0h3.9v14.8h-3.9zM391.1 745.0h3.9v14.8h-3.9zM535.4 745.0h3.9v14.8h-3.9zM622.0 745.0h3.9v14.8h-3.9zM156.6 759.5h3.9v14.8h-3.9zM163.8 759.5h3.9v14.8h-3.9zM228.7 759.5h3.9v14.8h-3.9zM236.0 759.5h3.9v14.8h-3.9zM268.4 759.5h3.9v14.8h-3.9zM279.3 759.5h3.9v14.8h-3.9zM401.9 759.5h3.9v14.8h-3.9zM405.5 759.5h3.9v14.8h-3.9zM409.1 759.5h3.9v14.8h-3.9zM448.8 759.5h3.9v14.8h-3.9zM510.1 759.5h3.9v14.8h-3.9zM513.7 759.5h3.9v14.8h-3.9zM521.0 759.5h3.9v14.8h-3.9zM542.6 759.5h3.9v14.8h-3.9zM564.2 759.5h3.9v14.8h-3.9zM625.6 759.5h3.9v14.8h-3.9zM167.4 774.0h3.9v14.8h-3.9zM171.0 774.0h3.9v14.8h-3.9zM181.9 774.0h3.9v14.8h-3.9zM203.5 774.0h3.9v14.8h-3.9zM225.1 774.0h3.9v14.8h-3.9zM228.7 774.0h3.9v14.8h-3.9zM236.0 774.0h3.9v14.8h-3.9zM246.8 774.0h3.9v14.8h-3.9zM290.1 774.0h3.9v14.8h-3.9zM318.9 774.0h3.9v14.8h-3.9zM337.0 774.0h3.9v14.8h-3.9zM344.2 774.0h3.9v14.8h-3.9zM362.2 774.0h3.9v14.8h-3.9zM495.7 774.0h3.9v14.8h-3.9zM499.3 774.0h3.9v14.8h-3.9zM502.9 774.0h3.9v14.8h-3.9zM517.3 774.0h3.9v14.8h-3.9zM199.9 788.6h3.9v14.8h-3.9zM225.1 788.6h3.9v14.8h-3.9zM243.2 788.6h3.9v14.8h-3.9zM293.7 788.6h3.9v14.8h-3.9zM340.6 788.6h3.9v14.8h-3.9zM521.0 788.6h3.9v14.8h-3.9zM622.0 788.6h3.9v14.8h-3.9zM174.6 803.1h3.9v14.8h-3.9zM221.5 803.1h3.9v14.8h-3.9zM254.0 803.1h3.9v14.8h-3.9zM293.7 803.1h3.9v14.8h-3.9zM369.4 803.1h3.9v14.8h-3.9zM419.9 803.1h3.9v14.8h-3.9zM488.5 803.1h3.9v14.8h-3.9zM502.9 803.1h3.9v14.8h-3.9zM506.5 803.1h3.9v14.8h-3.9zM557.0 803.1h3.9v14.8h-3.9zM560.6 803.1h3.9v14.8h-3.9zM578.7 803.1h3.9v14.8h-3.9zM290.1 817.6h3.9v14.8h-3.9zM333.4 817.6h3.9v14.8h-3.9zM340.6 817.6h3.9v14.8h-3.9zM445.2 817.6h3.9v14.8h-3.9zM459.6 817.6h3.9v14.8h-3.9zM466.8 817.6h3.9v14.8h-3.9zM502.9 817.6h3.9v14.8h-3.9zM567.9 817.6h3.9v14.8h-3.9zM600.3 817.6h3.9v14.8h-3.9zM632.8 817.6h3.9v14.8h-3.9zM156.6 832.1h3.9v14.8h-3.9zM174.6 832.1h3.9v14.8h-3.9zM203.5 832.1h3.9v14.8h-3.9zM261.2 832.1h3.9v14.8h-3.9zM282.9 832.1h3.9v14.8h-3.9zM286.5 832.1h3.9v14.8h-3.9zM290.1 832.1h3.9v14.8h-3.9zM318.9 832.1h3.9v14.8h-3.9zM405.5 832.1h3.9v14.8h-3.9zM409.1 832.1h3.9v14.8h-3.9zM521.0 832.1h3.9v14.8h-3.9zM557.0 832.1h3.9v14.8h-3.9zM611.1 832.1h3.9v14.8h-3.9zM160.2 846.6h3.9v14.8h-3.9zM174.6 846.6h3.9v14.8h-3.9zM185.5 846.6h3.9v14.8h-3.9zM214.3 846.6h3.9v14.8h-3.9zM254.0 846.6h3.9v14.8h-3.9zM261.2 846.6h3.9v14.8h-3.9zM286.5 846.6h3.9v14.8h-3.9zM304.5 846.6h3.9v14.8h-3.9zM365.8 846.6h3.9v14.8h-3.9zM466.8 846.6h3.9v14.8h-3.9zM502.9 846.6h3.9v14.8h-3.9zM513.7 846.6h3.9v14.8h-3.9zM582.3 846.6h3.9v14.8h-3.9zM192.7 861.1h3.9v14.8h-3.9zM221.5 861.1h3.9v14.8h-3.9zM261.2 861.1h3.9v14.8h-3.9zM279.3 861.1h3.9v14.8h-3.9zM326.2 861.1h3.9v14.8h-3.9zM362.2 861.1h3.9v14.8h-3.9zM391.1 861.1h3.9v14.8h-3.9zM521.0 861.1h3.9v14.8h-3.9zM571.5 861.1h3.9v14.8h-3.9zM607.5 861.1h3.9v14.8h-3.9zM632.8 861.1h3.9v14.8h-3.9zM156.6 875.6h3.9v14.8h-3.9zM214.3 875.6h3.9v14.8h-3.9zM217.9 875.6h3.9v14.8h-3.9zM315.3 875.6h3.9v14.8h-3.9zM362.2 875.6h3.9v14.8h-3.9zM499.3 875.6h3.9v14.8h-3.9zM528.2 875.6h3.9v14.8h-3.9zM531.8 875.6h3.9v14.8h-3.9zM611.1 875.6h3.9v14.8h-3.9zM163.8 890.1h3.9v14.8h-3.9zM167.4 890.1h3.9v14.8h-3.9zM217.9 890.1h3.9v14.8h-3.9zM272.0 890.1h3.9v14.8h-3.9zM275.6 890.1h3.9v14.8h-3.9zM300.9 890.1h3.9v14.8h-3.9zM337.0 890.1h3.9v14.8h-3.9zM405.5 890.1h3.9v14.8h-3.9zM419.9 890.1h3.9v14.8h-3.9zM448.8 890.1h3.9v14.8h-3.9zM488.5 890.1h3.9v14.8h-3.9zM560.6 890.1h3.9v14.8h-3.9zM611.1 890.1h3.9v14.8h-3.9zM618.4 890.1h3.9v14.8h-3.9zM156.6 904.6h3.9v14.8h-3.9zM185.5 904.6h3.9v14.8h-3.9zM199.9 904.6h3.9v14.8h-3.9zM210.7 904.6h3.9v14.8h-3.9zM257.6 904.6h3.9v14.8h-3.9zM261.2 904.6h3.9v14.8h-3.9zM264.8 904.6h3.9v14.8h-3.9zM304.5 904.6h3.9v14.8h-3.9zM358.6 904.6h3.9v14.8h-3.9zM416.3 904.6h3.9v14.8h-3.9zM463.2 904.6h3.9v14.8h-3.9zM510.1 904.6h3.9v14.8h-3.9zM528.2 904.6h3.9v14.8h-3.9zM542.6 904.6h3.9v14.8h-3.9zM163.8 919.1h3.9v14.8h-3.9zM196.3 919.1h3.9v14.8h-3.9zM210.7 919.1h3.9v14.8h-3.9zM217.9 919.1h3.9v14.8h-3.9zM221.5 919.1h3.9v14.8h-3.9zM225.1 919.1h3.9v14.8h-3.9zM264.8 919.1h3.9v14.8h-3.9zM268.4 919.1h3.9v14.8h-3.9zM567.9 919.1h3.9v14.8h-3.9zM156.6 933.7h3.9v14.8h-3.9zM163.8 933.7h3.9v14.8h-3.9zM167.4 933.7h3.9v14.8h-3.9zM178.2 933.7h3.9v14.8h-3.9zM257.6 933.7h3.9v14.8h-3.9zM264.8 933.7h3.9v14.8h-3.9zM275.6 933.7h3.9v14.8h-3.9zM286.5 933.7h3.9v14.8h-3.9zM419.9 933.7h3.9v14.8h-3.9zM502.9 933.7h3.9v14.8h-3.9zM542.6 933.7h3.9v14.8h-3.9zM589.5 933.7h3.9v14.8h-3.9zM600.3 933.7h3.9v14.8h-3.9zM160.2 948.2h3.9v14.8h-3.9zM337.0 948.2h3.9v14.8h-3.9zM441.6 948.2h3.9v14.8h-3.9zM477.7 948.2h3.9v14.8h-3.9zM499.3 948.2h3.9v14.8h-3.9zM510.1 948.2h3.9v14.8h-3.9zM582.3 948.2h3.9v14.8h-3.9zM636.4 948.2h3.9v14.8h-3.9zM174.6 962.7h3.9v14.8h-3.9zM225.1 962.7h3.9v14.8h-3.9zM264.8 962.7h3.9v14.8h-3.9zM275.6 962.7h3.9v14.8h-3.9zM304.5 962.7h3.9v14.8h-3.9zM401.9 962.7h3.9v14.8h-3.9zM438.0 962.7h3.9v14.8h-3.9zM506.5 962.7h3.9v14.8h-3.9zM607.5 962.7h3.9v14.8h-3.9zM171.0 977.2h3.9v14.8h-3.9zM174.6 977.2h3.9v14.8h-3.9zM192.7 977.2h3.9v14.8h-3.9zM286.5 977.2h3.9v14.8h-3.9zM293.7 977.2h3.9v14.8h-3.9zM383.9 977.2h3.9v14.8h-3.9zM434.4 977.2h3.9v14.8h-3.9zM484.9 977.2h3.9v14.8h-3.9zM510.1 977.2h3.9v14.8h-3.9zM546.2 977.2h3.9v14.8h-3.9zM611.1 977.2h3.9v14.8h-3.9zM163.8 991.7h3.9v14.8h-3.9zM181.9 991.7h3.9v14.8h-3.9zM207.1 991.7h3.9v14.8h-3.9zM254.0 991.7h3.9v14.8h-3.9zM297.3 991.7h3.9v14.8h-3.9zM394.7 991.7h3.9v14.8h-3.9zM434.4 991.7h3.9v14.8h-3.9zM438.0 991.7h3.9v14.8h-3.9zM571.5 991.7h3.9v14.8h-3.9zM632.8 991.7h3.9v14.8h-3.9zM156.6 1020.7h3.9v14.8h-3.9zM160.2 1020.7h3.9v14.8h-3.9zM171.0 1020.7h3.9v14.8h-3.9zM185.5 1020.7h3.9v14.8h-3.9zM214.3 1020.7h3.9v14.8h-3.9zM217.9 1020.7h3.9v14.8h-3.9zM221.5 1020.7h3.9v14.8h-3.9zM246.8 1020.7h3.9v14.8h-3.9zM261.2 1020.7h3.9v14.8h-3.9zM264.8 1020.7h3.9v14.8h-3.9zM268.4 1020.7h3.9v14.8h-3.9zM272.0 1020.7h3.9v14.8h-3.9zM156.6 1035.2h3.9v14.8h-3.9zM163.8 1035.2h3.9v14.8h-3.9zM178.2 1035.2h3.9v14.8h-3.9zM181.9 1035.2h3.9v14.8h-3.9zM185.5 1035.2h3.9v14.8h-3.9zM196.3 1035.2h3.9v14.8h-3.9zM199.9 1035.2h3.9v14.8h-3.9zM203.5 1035.2h3.9v14.8h-3.9zM210.7 1035.2h3.9v14.8h-3.9zM214.3 1035.2h3.9v14.8h-3.9zM217.9 1035.2h3.9v14.8h-3.9zM225.1 1035.2h3.9v14.8h-3.9zM243.2 1035.2h3.9v14.8h-3.9zM246.8 1035.2h3.9v14.8h-3.9zM254.0 1035.2h3.9v14.8h-3.9zM257.6 1035.2h3.9v14.8h-3.9zM261.2 1035.2h3.9v14.8h-3.9zM264.8 1035.2h3.9v14.8h-3.9zM272.0 1035.2h3.9v14.8h-3.9zM167.4 1049.7h3.9v14.8h-3.9zM210.7 1049.7h3.9v14.8h-3.9zM293.7 1049.7h3.9v14.8h-3.9zM297.3 1049.7h3.9v14.8h-3.9zM326.2 1049.7h3.9v14.8h-3.9zM347.8 1049.7h3.9v14.8h-3.9zM517.3 1049.7h3.9v14.8h-3.9zM539.0 1049.7h3.9v14.8h-3.9zM589.5 1049.7h3.9v14.8h-3.9zM603.9 1049.7h3.9v14.8h-3.9zM622.0 1049.7h3.9v14.8h-3.9zM632.8 1049.7h3.9v14.8h-3.9zM171.0 1064.2h3.9v14.8h-3.9zM199.9 1064.2h3.9v14.8h-3.9zM207.1 1064.2h3.9v14.8h-3.9zM254.0 1064.2h3.9v14.8h-3.9zM268.4 1064.2h3.9v14.8h-3.9zM358.6 1064.2h3.9v14.8h-3.9zM376.7 1064.2h3.9v14.8h-3.9zM614.7 1064.2h3.9v14.8h-3.9zM228.7 1078.8h3.9v14.8h-3.9zM236.0 1078.8h3.9v14.8h-3.9zM250.4 1078.8h3.9v14.8h-3.9zM272.0 1078.8h3.9v14.8h-3.9zM279.3 1078.8h3.9v14.8h-3.9zM286.5 1078.8h3.9v14.8h-3.9zM315.3 1078.8h3.9v14.8h-3.9zM376.7 1078.8h3.9v14.8h-3.9zM412.7 1078.8h3.9v14.8h-3.9zM593.1 1078.8h3.9v14.8h-3.9zM160.2 1093.3h3.9v14.8h-3.9zM167.4 1093.3h3.9v14.8h-3.9zM174.6 1093.3h3.9v14.8h-3.9zM210.7 1093.3h3.9v14.8h-3.9zM225.1 1093.3h3.9v14.8h-3.9zM268.4 1093.3h3.9v14.8h-3.9zM282.9 1093.3h3.9v14.8h-3.9zM322.5 1093.3h3.9v14.8h-3.9zM365.8 1093.3h3.9v14.8h-3.9zM376.7 1093.3h3.9v14.8h-3.9zM466.8 1093.3h3.9v14.8h-3.9zM470.4 1093.3h3.9v14.8h-3.9zM156.6 1107.8h3.9v14.8h-3.9zM178.2 1107.8h3.9v14.8h-3.9zM192.7 1107.8h3.9v14.8h-3.9zM203.5 1107.8h3.9v14.8h-3.9zM207.1 1107.8h3.9v14.8h-3.9zM232.4 1107.8h3.9v14.8h-3.9zM264.8 1107.8h3.9v14.8h-3.9zM268.4 1107.8h3.9v14.8h-3.9zM286.5 1107.8h3.9v14.8h-3.9zM318.9 1107.8h3.9v14.8h-3.9zM373.0 1107.8h3.9v14.8h-3.9zM387.5 1107.8h3.9v14.8h-3.9zM419.9 1107.8h3.9v14.8h-3.9zM430.8 1107.8h3.9v14.8h-3.9zM434.4 1107.8h3.9v14.8h-3.9zM510.1 1107.8h3.9v14.8h-3.9zM521.0 1107.8h3.9v14.8h-3.9zM167.4 1122.3h3.9v14.8h-3.9zM174.6 1122.3h3.9v14.8h-3.9zM178.2 1122.3h3.9v14.8h-3.9zM243.2 1122.3h3.9v14.8h-3.9zM318.9 1122.3h3.9v14.8h-3.9zM329.8 1122.3h3.9v14.8h-3.9zM434.4 1122.3h3.9v14.8h-3.9zM510.1 1122.3h3.9v14.8h-3.9zM564.2 1122.3h3.9v14.8h-3.9zM156.6 1136.8h3.9v14.8h-3.9zM167.4 1136.8h3.9v14.8h-3.9zM178.2 1136.8h3.9v14.8h-3.9zM185.5 1136.8h3.9v14.8h-3.9zM189.1 1136.8h3.9v14.8h-3.9zM196.3 1136.8h3.9v14.8h-3.9zM214.3 1136.8h3.9v14.8h-3.9zM225.1 1136.8h3.9v14.8h-3.9zM232.4 1136.8h3.9v14.8h-3.9zM239.6 1136.8h3.9v14.8h-3.9zM243.2 1136.8h3.9v14.8h-3.9zM268.4 1136.8h3.9v14.8h-3.9zM286.5 1136.8h3.9v14.8h-3.9zM463.2 1136.8h3.9v14.8h-3.9zM495.7 1136.8h3.9v14.8h-3.9zM531.8 1136.8h3.9v14.8h-3.9zM593.1 1136.8h3.9v14.8h-3.9zM171.0 1151.3h3.9v14.8h-3.9zM189.1 1151.3h3.9v14.8h-3.9zM192.7 1151.3h3.9v14.8h-3.9zM207.1 1151.3h3.9v14.8h-3.9zM239.6 1151.3h3.9v14.8h-3.9zM282.9 1151.3h3.9v14.8h-3.9zM304.5 1151.3h3.9v14.8h-3.9zM445.2 1151.3h3.9v14.8h-3.9zM477.7 1151.3h3.9v14.8h-3.9z"/>
<path fill="rgb(166,176,211)" d="M308.1 556.4h3.9v14.8h-3.9zM315.3 556.4h3.9v14.8h-3.9zM337.0 556.4h3.9v14.8h-3.9zM373.0 556.4h3.9v14.8h-3.9zM470.4 556.4h3.9v14.8h-3.9zM484.9 556.4h3.9v14.8h-3.9zM492.1 556.4h3.9v14.8h-3.9zM539.0 556.4h3.9v14.8h-3.9zM557.0 556.4h3.9v14.8h-3.9zM582.3 556.4h3.9v14.8h-3.9zM596.7 556.4h3.9v14.8h-3.9zM282.9 570.9h3.9v14.8h-3.9zM308.1 570.9h3.9v14.8h-3.9zM459.6 570.9h3.9v14.8h-3.9zM564.2 570.9h3.9v14.8h-3.9zM456.0 585.4h3.9v14.8h-3.9zM474.1 585.4h3.9v14.8h-3.9zM528.2 585.4h3.9v14.8h-3.9zM557.0 585.4h3.9v14.8h-3.9zM160.2 599.9h3.9v14.8h-3.9zM279.3 599.9h3.9v14.8h-3.9zM297.3 599.9h3.9v14.8h-3.9zM347.8 599.9h3.9v14.8h-3.9zM484.9 599.9h3.9v14.8h-3.9zM499.3 599.9h3.9v14.8h-3.9zM521.0 599.9h3.9v14.8h-3.9zM596.7 599.9h3.9v14.8h-3.9zM340.6 614.4h3.9v14.8h-3.9zM394.7 614.4h3.9v14.8h-3.9zM441.6 614.4h3.9v14.8h-3.9zM506.5 614.4h3.9v14.8h-3.9zM564.2 614.4h3.9v14.8h-3.9zM578.7 614.4h3.9v14.8h-3.9zM596.7 614.4h3.9v14.8h-3.9zM625.6 614.4h3.9v14.8h-3.9zM304.5 628.9h3.9v14.8h-3.9zM347.8 628.9h3.9v14.8h-3.9zM358.6 628.9h3.9v14.8h-3.9zM423.6 628.9h3.9v14.8h-3.9zM492.1 628.9h3.9v14.8h-3.9zM502.9 628.9h3.9v14.8h-3.9zM575.1 628.9h3.9v14.8h-3.9zM582.3 628.9h3.9v14.8h-3.9zM614.7 628.9h3.9v14.8h-3.9zM315.3 643.5h3.9v14.8h-3.9zM318.9 643.5h3.9v14.8h-3.9zM347.8 643.5h3.9v14.8h-3.9zM351.4 643.5h3.9v14.8h-3.9zM365.8 643.5h3.9v14.8h-3.9zM380.3 643.5h3.9v14.8h-3.9zM398.3 643.5h3.9v14.8h-3.9zM401.9 643.5h3.9v14.8h-3.9zM430.8 643.5h3.9v14.8h-3.9zM441.6 643.5h3.9v14.8h-3.9zM481.3 643.5h3.9v14.8h-3.9zM564.2 643.5h3.9v14.8h-3.9zM293.7 658.0h3.9v14.8h-3.9zM300.9 658.0h3.9v14.8h-3.9zM387.5 658.0h3.9v14.8h-3.9zM394.7 658.0h3.9v14.8h-3.9zM401.9 658.0h3.9v14.8h-3.9zM488.5 658.0h3.9v14.8h-3.9zM502.9 658.0h3.9v14.8h-3.9zM517.3 658.0h3.9v14.8h-3.9zM564.2 658.0h3.9v14.8h-3.9zM322.5 672.5h3.9v14.8h-3.9zM333.4 672.5h3.9v14.8h-3.9zM358.6 672.5h3.9v14.8h-3.9zM369.4 672.5h3.9v14.8h-3.9zM549.8 672.5h3.9v14.8h-3.9zM578.7 672.5h3.9v14.8h-3.9zM582.3 672.5h3.9v14.8h-3.9zM160.2 687.0h3.9v14.8h-3.9zM181.9 687.0h3.9v14.8h-3.9zM282.9 687.0h3.9v14.8h-3.9zM311.7 687.0h3.9v14.8h-3.9zM362.2 687.0h3.9v14.8h-3.9zM474.1 687.0h3.9v14.8h-3.9zM510.1 687.0h3.9v14.8h-3.9zM567.9 687.0h3.9v14.8h-3.9zM593.1 687.0h3.9v14.8h-3.9zM297.3 701.5h3.9v14.8h-3.9zM318.9 701.5h3.9v14.8h-3.9zM376.7 701.5h3.9v14.8h-3.9zM387.5 701.5h3.9v14.8h-3.9zM304.5 716.0h3.9v14.8h-3.9zM322.5 716.0h3.9v14.8h-3.9zM470.4 716.0h3.9v14.8h-3.9zM539.0 716.0h3.9v14.8h-3.9zM560.6 716.0h3.9v14.8h-3.9zM607.5 716.0h3.9v14.8h-3.9zM614.7 716.0h3.9v14.8h-3.9zM625.6 716.0h3.9v14.8h-3.9zM214.3 730.5h3.9v14.8h-3.9zM293.7 730.5h3.9v14.8h-3.9zM333.4 730.5h3.9v14.8h-3.9zM337.0 730.5h3.9v14.8h-3.9zM347.8 730.5h3.9v14.8h-3.9zM387.5 730.5h3.9v14.8h-3.9zM394.7 730.5h3.9v14.8h-3.9zM419.9 730.5h3.9v14.8h-3.9zM430.8 730.5h3.9v14.8h-3.9zM575.1 730.5h3.9v14.8h-3.9zM578.7 730.5h3.9v14.8h-3.9zM607.5 730.5h3.9v14.8h-3.9zM629.2 730.5h3.9v14.8h-3.9zM192.7 745.0h3.9v14.8h-3.9zM254.0 745.0h3.9v14.8h-3.9zM268.4 745.0h3.9v14.8h-3.9zM358.6 745.0h3.9v14.8h-3.9zM373.0 745.0h3.9v14.8h-3.9zM383.9 745.0h3.9v14.8h-3.9zM387.5 745.0h3.9v14.8h-3.9zM419.9 745.0h3.9v14.8h-3.9zM492.1 745.0h3.9v14.8h-3.9zM246.8 759.5h3.9v14.8h-3.9zM261.2 759.5h3.9v14.8h-3.9zM264.8 759.5h3.9v14.8h-3.9zM293.7 759.5h3.9v14.8h-3.9zM412.7 759.5h3.9v14.8h-3.9zM445.2 759.5h3.9v14.8h-3.9zM192.7 774.0h3.9v14.8h-3.9zM369.4 774.0h3.9v14.8h-3.9zM228.7 788.6h3.9v14.8h-3.9zM279.3 788.6h3.9v14.8h-3.9zM286.5 788.6h3.9v14.8h-3.9zM344.2 788.6h3.9v14.8h-3.9zM351.4 788.6h3.9v14.8h-3.9zM178.2 803.1h3.9v14.8h-3.9zM189.1 803.1h3.9v14.8h-3.9zM290.1 803.1h3.9v14.8h-3.9zM347.8 803.1h3.9v14.8h-3.9zM373.0 803.1h3.9v14.8h-3.9zM607.5 803.1h3.9v14.8h-3.9zM199.9 817.6h3.9v14.8h-3.9zM207.1 817.6h3.9v14.8h-3.9zM228.7 817.6h3.9v14.8h-3.9zM232.4 817.6h3.9v14.8h-3.9zM246.8 817.6h3.9v14.8h-3.9zM264.8 817.6h3.9v14.8h-3.9zM272.0 817.6h3.9v14.8h-3.9zM329.8 817.6h3.9v14.8h-3.9zM362.2 817.6h3.9v14.8h-3.9zM369.4 817.6h3.9v14.8h-3.9zM448.8 817.6h3.9v14.8h-3.9zM452.4 817.6h3.9v14.8h-3.9zM589.5 817.6h3.9v14.8h-3.9zM607.5 817.6h3.9v14.8h-3.9zM636.4 817.6h3.9v14.8h-3.9zM207.1 832.1h3.9v14.8h-3.9zM481.3 832.1h3.9v14.8h-3.9zM510.1 832.1h3.9v14.8h-3.9zM513.7 832.1h3.9v14.8h-3.9zM210.7 846.6h3.9v14.8h-3.9zM217.9 846.6h3.9v14.8h-3.9zM221.5 846.6h3.9v14.8h-3.9zM232.4 846.6h3.9v14.8h-3.9zM236.0 846.6h3.9v14.8h-3.9zM264.8 846.6h3.9v14.8h-3.9zM318.9 846.6h3.9v14.8h-3.9zM401.9 846.6h3.9v14.8h-3.9zM448.8 846.6h3.9v14.8h-3.9zM564.2 846.6h3.9v14.8h-3.9zM607.5 846.6h3.9v14.8h-3.9zM632.8 846.6h3.9v14.8h-3.9zM160.2 861.1h3.9v14.8h-3.9zM167.4 861.1h3.9v14.8h-3.9zM171.0 861.1h3.9v14.8h-3.9zM250.4 861.1h3.9v14.8h-3.9zM311.7 861.1h3.9v14.8h-3.9zM337.0 861.1h3.9v14.8h-3.9zM456.0 861.1h3.9v14.8h-3.9zM492.1 861.1h3.9v14.8h-3.9zM560.6 861.1h3.9v14.8h-3.9zM160.2 875.6h3.9v14.8h-3.9zM163.8 875.6h3.9v14.8h-3.9zM221.5 875.6h3.9v14.8h-3.9zM232.4 875.6h3.9v14.8h-3.9zM239.6 875.6h3.9v14.8h-3.9zM246.8 875.6h3.9v14.8h-3.9zM272.0 875.6h3.9v14.8h-3.9zM337.0 875.6h3.9v14.8h-3.9zM452.4 875.6h3.9v14.8h-3.9zM477.7 875.6h3.9v14.8h-3.9zM589.5 875.6h3.9v14.8h-3.9zM632.8 875.6h3.9v14.8h-3.9zM178.2 890.1h3.9v14.8h-3.9zM181.9 890.1h3.9v14.8h-3.9zM221.5 890.1h3.9v14.8h-3.9zM225.1 890.1h3.9v14.8h-3.9zM239.6 890.1h3.9v14.8h-3.9zM250.4 890.1h3.9v14.8h-3.9zM257.6 890.1h3.9v14.8h-3.9zM362.2 890.1h3.9v14.8h-3.9zM427.2 890.1h3.9v14.8h-3.9zM607.5 890.1h3.9v14.8h-3.9zM622.0 890.1h3.9v14.8h-3.9zM160.2 904.6h3.9v14.8h-3.9zM171.0 904.6h3.9v14.8h-3.9zM189.1 904.6h3.9v14.8h-3.9zM217.9 904.6h3.9v14.8h-3.9zM228.7 904.6h3.9v14.8h-3.9zM243.2 904.6h3.9v14.8h-3.9zM246.8 904.6h3.9v14.8h-3.9zM272.0 904.6h3.9v14.8h-3.9zM405.5 904.6h3.9v14.8h-3.9zM419.9 904.6h3.9v14.8h-3.9zM502.9 904.6h3.9v14.8h-3.9zM560.6 904.6h3.9v14.8h-3.9zM567.9 904.6h3.9v14.8h-3.9zM593.1 904.6h3.9v14.8h-3.9zM607.5 904.6h3.9v14.8h-3.9zM156.6 919.1h3.9v14.8h-3.9zM160.2 919.1h3.9v14.8h-3.9zM178.2 919.1h3.9v14.8h-3.9zM192.7 919.1h3.9v14.8h-3.9zM246.8 919.1h3.9v14.8h-3.9zM362.2 919.1h3.9v14.8h-3.9zM459.6 919.1h3.9v14.8h-3.9zM481.3 919.1h3.9v14.8h-3.9zM171.0 933.7h3.9v14.8h-3.9zM192.7 933.7h3.9v14.8h-3.9zM221.5 933.7h3.9v14.8h-3.9zM243.2 933.7h3.9v14.8h-3.9zM254.0 933.7h3.9v14.8h-3.9zM268.4 933.7h3.9v14.8h-3.9zM383.9 933.7h3.9v14.8h-3.9zM481.3 933.7h3.9v14.8h-3.9zM488.5 933.7h3.9v14.8h-3.9zM528.2 933.7h3.9v14.8h-3.9zM167.4 948.2h3.9v14.8h-3.9zM171.0 948.2h3.9v14.8h-3.9zM174.6 948.2h3.9v14.8h-3.9zM185.5 948.2h3.9v14.8h-3.9zM189.1 948.2h3.9v14.8h-3.9zM192.7 948.2h3.9v14.8h-3.9zM207.1 948.2h3.9v14.8h-3.9zM210.7 948.2h3.9v14.8h-3.9zM268.4 948.2h3.9v14.8h-3.9zM272.0 948.2h3.9v14.8h-3.9zM434.4 948.2h3.9v14.8h-3.9zM488.5 948.2h3.9v14.8h-3.9zM199.9 962.7h3.9v14.8h-3.9zM203.5 962.7h3.9v14.8h-3.9zM217.9 962.7h3.9v14.8h-3.9zM261.2 962.7h3.9v14.8h-3.9zM268.4 962.7h3.9v14.8h-3.9zM358.6 962.7h3.9v14.8h-3.9zM513.7 962.7h3.9v14.8h-3.9zM517.3 962.7h3.9v14.8h-3.9zM163.8 977.2h3.9v14.8h-3.9zM167.4 977.2h3.9v14.8h-3.9zM199.9 977.2h3.9v14.8h-3.9zM217.9 977.2h3.9v14.8h-3.9zM232.4 977.2h3.9v14.8h-3.9zM257.6 977.2h3.9v14.8h-3.9zM261.2 977.2h3.9v14.8h-3.9zM264.8 977.2h3.9v14.8h-3.9zM272.0 977.2h3.9v14.8h-3.9zM290.1 977.2h3.9v14.8h-3.9zM236.0 991.7h3.9v14.8h-3.9zM257.6 991.7h3.9v14.8h-3.9zM261.2 991.7h3.9v14.8h-3.9zM275.6 991.7h3.9v14.8h-3.9zM365.8 991.7h3.9v14.8h-3.9zM463.2 991.7h3.9v14.8h-3.9zM499.3 991.7h3.9v14.8h-3.9zM178.2 1049.7h3.9v14.8h-3.9zM181.9 1049.7h3.9v14.8h-3.9zM185.5 1049.7h3.9v14.8h-3.9zM189.1 1049.7h3.9v14.8h-3.9zM192.7 1049.7h3.9v14.8h-3.9zM196.3 1049.7h3.9v14.8h-3.9zM228.7 1049.7h3.9v14.8h-3.9zM232.4 1049.7h3.9v14.8h-3.9zM261.2 1049.7h3.9v14.8h-3.9zM300.9 1049.7h3.9v14.8h-3.9zM412.7 1049.7h3.9v14.8h-3.9zM419.9 1049.7h3.9v14.8h-3.9zM495.7 1049.7h3.9v14.8h-3.9zM600.3 1049.7h3.9v14.8h-3.9zM167.4 1064.2h3.9v14.8h-3.9zM178.2 1064.2h3.9v14.8h-3.9zM185.5 1064.2h3.9v14.8h-3.9zM192.7 1064.2h3.9v14.8h-3.9zM228.7 1064.2h3.9v14.8h-3.9zM257.6 1064.2h3.9v14.8h-3.9zM264.8 1064.2h3.9v14.8h-3.9zM282.9 1064.2h3.9v14.8h-3.9zM362.2 1064.2h3.9v14.8h-3.9zM398.3 1064.2h3.9v14.8h-3.9zM405.5 1064.2h3.9v14.8h-3.9zM434.4 1064.2h3.9v14.8h-3.9zM510.1 1064.2h3.9v14.8h-3.9zM517.3 1064.2h3.9v14.8h-3.9zM585.9 1064.2h3.9v14.8h-3.9zM181.9 1078.8h3.9v14.8h-3.9zM199.9 1078.8h3.9v14.8h-3.9zM207.1 1078.8h3.9v14.8h-3.9zM210.7 1078.8h3.9v14.8h-3.9zM214.3 1078.8h3.9v14.8h-3.9zM275.6 1078.8h3.9v14.8h-3.9zM308.1 1078.8h3.9v14.8h-3.9zM441.6 1078.8h3.9v14.8h-3.9zM163.8 1093.3h3.9v14.8h-3.9zM196.3 1093.3h3.9v14.8h-3.9zM254.0 1093.3h3.9v14.8h-3.9zM264.8 1093.3h3.9v14.8h-3.9zM279.3 1093.3h3.9v14.8h-3.9zM297.3 1093.3h3.9v14.8h-3.9zM315.3 1093.3h3.9v14.8h-3.9zM369.4 1093.3h3.9v14.8h-3.9zM401.9 1093.3h3.9v14.8h-3.9zM521.0 1093.3h3.9v14.8h-3.9zM531.8 1093.3h3.9v14.8h-3.9zM629.2 1093.3h3.9v14.8h-3.9zM163.8 1107.8h3.9v14.8h-3.9zM185.5 1107.8h3.9v14.8h-3.9zM189.1 1107.8h3.9v14.8h-3.9zM236.0 1107.8h3.9v14.8h-3.9zM611.1 1107.8h3.9v14.8h-3.9zM636.4 1107.8h3.9v14.8h-3.9zM221.5 1122.3h3.9v14.8h-3.9zM261.2 1122.3h3.9v14.8h-3.9zM272.0 1122.3h3.9v14.8h-3.9zM456.0 1122.3h3.9v14.8h-3.9zM181.9 1136.8h3.9v14.8h-3.9zM203.5 1136.8h3.9v14.8h-3.9zM257.6 1136.8h3.9v14.8h-3.9zM347.8 1136.8h3.9v14.8h-3.9zM492.1 1136.8h3.9v14.8h-3.9zM502.9 1136.8h3.9v14.8h-3.9zM156.6 1151.3h3.9v14.8h-3.9zM167.4 1151.3h3.9v14.8h-3.9zM178.2 1151.3h3.9v14.8h-3.9zM199.9 1151.3h3.9v14.8h-3.9zM210.7 1151.3h3.9v14.8h-3.9zM228.7 1151.3h3.9v14.8h-3.9zM232.4 1151.3h3.9v14.8h-3.9zM401.9 1151.3h3.9v14.8h-3.9zM456.0 1151.3h3.9v14.8h-3.9zM466.8 1151.3h3.9v14.8h-3.9zM531.8 1151.3h3.9v14.8h-3.9z"/>
<path fill="rgb(184,192,220)" d="M333.4 556.4h3.9v14.8h-3.9zM387.5 556.4h3.9v14.8h-3.9zM405.5 556.4h3.9v14.8h-3.9zM409.1 556.4h3.9v14.8h-3.9zM441.6 556.4h3.9v14.8h-3.9zM474.1 556.4h3.9v14.8h-3.9zM528.2 556.4h3.9v14.8h-3.9zM560.6 556.4h3.9v14.8h-3.9zM614.7 556.4h3.9v14.8h-3.9zM293.7 570.9h3.9v14.8h-3.9zM304.5 570.9h3.9v14.8h-3.9zM322.5 570.9h3.9v14.8h-3.9zM337.0 570.9h3.9v14.8h-3.9zM419.9 570.9h3.9v14.8h-3.9zM430.8 570.9h3.9v14.8h-3.9zM445.2 570.9h3.9v14.8h-3.9zM492.1 570.9h3.9v14.8h-3.9zM495.7 570.9h3.9v14.8h-3.9zM585.9 570.9h3.9v14.8h-3.9zM279.3 585.4h3.9v14.8h-3.9zM282.9 585.4h3.9v14.8h-3.9zM308.1 585.4h3.9v14.8h-3.9zM362.2 585.4h3.9v14.8h-3.9zM398.3 585.4h3.9v14.8h-3.9zM466.8 585.4h3.9v14.8h-3.9zM477.7 585.4h3.9v14.8h-3.9zM492.1 585.4h3.9v14.8h-3.9zM502.9 585.4h3.9v14.8h-3.9zM539.0 585.4h3.9v14.8h-3.9zM542.6 585.4h3.9v14.8h-3.9zM156.6 599.9h3.9v14.8h-3.9zM167.4 599.9h3.9v14.8h-3.9zM185.5 599.9h3.9v14.8h-3.9zM304.5 599.9h3.9v14.8h-3.9zM337.0 599.9h3.9v14.8h-3.9zM535.4 599.9h3.9v14.8h-3.9zM567.9 599.9h3.9v14.8h-3.9zM607.5 599.9h3.9v14.8h-3.9zM622.0 599.9h3.9v14.8h-3.9zM636.4 599.9h3.9v14.8h-3.9zM282.9 614.4h3.9v14.8h-3.9zM297.3 614.4h3.9v14.8h-3.9zM315.3 614.4h3.9v14.8h-3.9zM322.5 614.4h3.9v14.8h-3.9zM358.6 614.4h3.9v14.8h-3.9zM383.9 614.4h3.9v14.8h-3.9zM430.8 614.4h3.9v14.8h-3.9zM445.2 614.4h3.9v14.8h-3.9zM510.1 614.4h3.9v14.8h-3.9zM582.3 614.4h3.9v14.8h-3.9zM297.3 628.9h3.9v14.8h-3.9zM311.7 628.9h3.9v14.8h-3.9zM376.7 628.9h3.9v14.8h-3.9zM383.9 628.9h3.9v14.8h-3.9zM441.6 628.9h3.9v14.8h-3.9zM557.0 628.9h3.9v14.8h-3.9zM622.0 628.9h3.9v14.8h-3.9zM333.4 643.5h3.9v14.8h-3.9zM506.5 643.5h3.9v14.8h-3.9zM560.6 643.5h3.9v14.8h-3.9zM596.7 643.5h3.9v14.8h-3.9zM618.4 643.5h3.9v14.8h-3.9zM297.3 658.0h3.9v14.8h-3.9zM311.7 658.0h3.9v14.8h-3.9zM365.8 658.0h3.9v14.8h-3.9zM427.2 658.0h3.9v14.8h-3.9zM441.6 658.0h3.9v14.8h-3.9zM510.1 658.0h3.9v14.8h-3.9zM528.2 658.0h3.9v14.8h-3.9zM531.8 658.0h3.9v14.8h-3.9zM279.3 672.5h3.9v14.8h-3.9zM355.0 672.5h3.9v14.8h-3.9zM373.0 672.5h3.9v14.8h-3.9zM380.3 672.5h3.9v14.8h-3.9zM445.2 672.5h3.9v14.8h-3.9zM456.0 672.5h3.9v14.8h-3.9zM474.1 672.5h3.9v14.8h-3.9zM531.8 672.5h3.9v14.8h-3.9zM542.6 672.5h3.9v14.8h-3.9zM596.7 672.5h3.9v14.8h-3.9zM614.7 672.5h3.9v14.8h-3.9zM210.7 687.0h3.9v14.8h-3.9zM297.3 687.0h3.9v14.8h-3.9zM304.5 687.0h3.9v14.8h-3.9zM318.9 687.0h3.9v14.8h-3.9zM333.4 687.0h3.9v14.8h-3.9zM351.4 687.0h3.9v14.8h-3.9zM365.8 687.0h3.9v14.8h-3.9zM387.5 687.0h3.9v14.8h-3.9zM412.7 687.0h3.9v14.8h-3.9zM438.0 687.0h3.9v14.8h-3.9zM466.8 687.0h3.9v14.8h-3.9zM542.6 687.0h3.9v14.8h-3.9zM549.8 687.0h3.9v14.8h-3.9zM557.0 687.0h3.9v14.8h-3.9zM571.5 687.0h3.9v14.8h-3.9zM575.1 687.0h3.9v14.8h-3.9zM167.4 701.5h3.9v14.8h-3.9zM315.3 701.5h3.9v14.8h-3.9zM351.4 701.5h3.9v14.8h-3.9zM355.0 701.5h3.9v14.8h-3.9zM369.4 701.5h3.9v14.8h-3.9zM459.6 701.5h3.9v14.8h-3.9zM488.5 701.5h3.9v14.8h-3.9zM521.0 701.5h3.9v14.8h-3.9zM535.4 701.5h3.9v14.8h-3.9zM578.7 701.5h3.9v14.8h-3.9zM585.9 701.5h3.9v14.8h-3.9zM607.5 701.5h3.9v14.8h-3.9zM618.4 701.5h3.9v14.8h-3.9zM300.9 716.0h3.9v14.8h-3.9zM329.8 716.0h3.9v14.8h-3.9zM333.4 716.0h3.9v14.8h-3.9zM365.8 716.0h3.9v14.8h-3.9zM376.7 716.0h3.9v14.8h-3.9zM398.3 716.0h3.9v14.8h-3.9zM412.7 716.0h3.9v14.8h-3.9zM438.0 716.0h3.9v14.8h-3.9zM488.5 716.0h3.9v14.8h-3.9zM513.7 716.0h3.9v14.8h-3.9zM571.5 716.0h3.9v14.8h-3.9zM163.8 730.5h3.9v14.8h-3.9zM203.5 730.5h3.9v14.8h-3.9zM257.6 730.5h3.9v14.8h-3.9zM272.0 730.5h3.9v14.8h-3.9zM286.5 730.5h3.9v14.8h-3.9zM304.5 730.5h3.9v14.8h-3.9zM344.2 730.5h3.9v14.8h-3.9zM362.2 730.5h3.9v14.8h-3.9zM383.9 730.5h3.9v14.8h-3.9zM401.9 730.5h3.9v14.8h-3.9zM434.4 730.5h3.9v14.8h-3.9zM488.5 730.5h3.9v14.8h-3.9zM593.1 730.5h3.9v14.8h-3.9zM622.0 730.5h3.9v14.8h-3.9zM156.6 745.0h3.9v14.8h-3.9zM181.9 745.0h3.9v14.8h-3.9zM189.1 745.0h3.9v14.8h-3.9zM199.9 745.0h3.9v14.8h-3.9zM286.5 745.0h3.9v14.8h-3.9zM311.7 745.0h3.9v14.8h-3.9zM430.8 745.0h3.9v14.8h-3.9zM448.8 745.0h3.9v14.8h-3.9zM488.5 745.0h3.9v14.8h-3.9zM517.3 745.0h3.9v14.8h-3.9zM282.9 759.5h3.9v14.8h-3.9zM337.0 759.5h3.9v14.8h-3.9zM351.4 759.5h3.9v14.8h-3.9zM358.6 759.5h3.9v14.8h-3.9zM373.0 759.5h3.9v14.8h-3.9zM391.1 759.5h3.9v14.8h-3.9zM488.5 759.5h3.9v14.8h-3.9zM596.7 759.5h3.9v14.8h-3.9zM611.1 759.5h3.9v14.8h-3.9zM199.9 774.0h3.9v14.8h-3.9zM207.1 774.0h3.9v14.8h-3.9zM232.4 774.0h3.9v14.8h-3.9zM243.2 774.0h3.9v14.8h-3.9zM257.6 774.0h3.9v14.8h-3.9zM351.4 774.0h3.9v14.8h-3.9zM575.1 774.0h3.9v14.8h-3.9zM582.3 774.0h3.9v14.8h-3.9zM178.2 788.6h3.9v14.8h-3.9zM185.5 788.6h3.9v14.8h-3.9zM207.1 788.6h3.9v14.8h-3.9zM210.7 788.6h3.9v14.8h-3.9zM217.9 788.6h3.9v14.8h-3.9zM232.4 788.6h3.9v14.8h-3.9zM254.0 788.6h3.9v14.8h-3.9zM347.8 788.6h3.9v14.8h-3.9zM383.9 788.6h3.9v14.8h-3.9zM405.5 788.6h3.9v14.8h-3.9zM430.8 788.6h3.9v14.8h-3.9zM528.2 788.6h3.9v14.8h-3.9zM575.1 788.6h3.9v14.8h-3.9zM582.3 788.6h3.9v14.8h-3.9zM589.5 788.6h3.9v14.8h-3.9zM629.2 788.6h3.9v14.8h-3.9zM156.6 803.1h3.9v14.8h-3.9zM171.0 803.1h3.9v14.8h-3.9zM210.7 803.1h3.9v14.8h-3.9zM214.3 803.1h3.9v14.8h-3.9zM268.4 803.1h3.9v14.8h-3.9zM423.6 803.1h3.9v14.8h-3.9zM484.9 803.1h3.9v14.8h-3.9zM546.2 803.1h3.9v14.8h-3.9zM582.3 803.1h3.9v14.8h-3.9zM585.9 803.1h3.9v14.8h-3.9zM629.2 803.1h3.9v14.8h-3.9zM178.2 817.6h3.9v14.8h-3.9zM189.1 817.6h3.9v14.8h-3.9zM196.3 817.6h3.9v14.8h-3.9zM268.4 817.6h3.9v14.8h-3.9zM322.5 817.6h3.9v14.8h-3.9zM401.9 817.6h3.9v14.8h-3.9zM416.3 817.6h3.9v14.8h-3.9zM506.5 817.6h3.9v14.8h-3.9zM521.0 817.6h3.9v14.8h-3.9zM546.2 817.6h3.9v14.8h-3.9zM614.7 817.6h3.9v14.8h-3.9zM618.4 817.6h3.9v14.8h-3.9zM625.6 817.6h3.9v14.8h-3.9zM171.0 832.1h3.9v14.8h-3.9zM181.9 832.1h3.9v14.8h-3.9zM189.1 832.1h3.9v14.8h-3.9zM214.3 832.1h3.9v14.8h-3.9zM225.1 832.1h3.9v14.8h-3.9zM228.7 832.1h3.9v14.8h-3.9zM254.0 832.1h3.9v14.8h-3.9zM304.5 832.1h3.9v14.8h-3.9zM347.8 832.1h3.9v14.8h-3.9zM358.6 832.1h3.9v14.8h-3.9zM362.2 832.1h3.9v14.8h-3.9zM369.4 832.1h3.9v14.8h-3.9zM452.4 832.1h3.9v14.8h-3.9zM614.7 832.1h3.9v14.8h-3.9zM618.4 832.1h3.9v14.8h-3.9zM189.1 846.6h3.9v14.8h-3.9zM225.1 846.6h3.9v14.8h-3.9zM243.2 846.6h3.9v14.8h-3.9zM250.4 846.6h3.9v14.8h-3.9zM268.4 846.6h3.9v14.8h-3.9zM297.3 846.6h3.9v14.8h-3.9zM315.3 846.6h3.9v14.8h-3.9zM333.4 846.6h3.9v14.8h-3.9zM340.6 846.6h3.9v14.8h-3.9zM409.1 846.6h3.9v14.8h-3.9zM452.4 846.6h3.9v14.8h-3.9zM488.5 846.6h3.9v14.8h-3.9zM611.1 846.6h3.9v14.8h-3.9zM618.4 846.6h3.9v14.8h-3.9zM156.6 861.1h3.9v14.8h-3.9zM163.8 861.1h3.9v14.8h-3.9zM174.6 861.1h3.9v14.8h-3.9zM217.9 861.1h3.9v14.8h-3.9zM236.0 861.1h3.9v14.8h-3.9zM239.6 861.1h3.9v14.8h-3.9zM254.0 861.1h3.9v14.8h-3.9zM272.0 861.1h3.9v14.8h-3.9zM322.5 861.1h3.9v14.8h-3.9zM427.2 861.1h3.9v14.8h-3.9zM542.6 861.1h3.9v14.8h-3.9zM622.0 861.1h3.9v14.8h-3.9zM167.4 875.6h3.9v14.8h-3.9zM171.0 875.6h3.9v14.8h-3.9zM181.9 875.6h3.9v14.8h-3.9zM192.7 875.6h3.9v14.8h-3.9zM236.0 875.6h3.9v14.8h-3.9zM257.6 875.6h3.9v14.8h-3.9zM340.6 875.6h3.9v14.8h-3.9zM387.5 875.6h3.9v14.8h-3.9zM419.9 875.6h3.9v14.8h-3.9zM427.2 875.6h3.9v14.8h-3.9zM456.0 875.6h3.9v14.8h-3.9zM481.3 875.6h3.9v14.8h-3.9zM553.4 875.6h3.9v14.8h-3.9zM614.7 875.6h3.9v14.8h-3.9zM629.2 875.6h3.9v14.8h-3.9zM160.2 890.1h3.9v14.8h-3.9zM210.7 890.1h3.9v14.8h-3.9zM308.1 890.1h3.9v14.8h-3.9zM318.9 890.1h3.9v14.8h-3.9zM340.6 890.1h3.9v14.8h-3.9zM351.4 890.1h3.9v14.8h-3.9zM528.2 890.1h3.9v14.8h-3.9zM614.7 890.1h3.9v14.8h-3.9zM174.6 904.6h3.9v14.8h-3.9zM178.2 904.6h3.9v14.8h-3.9zM181.9 904.6h3.9v14.8h-3.9zM196.3 904.6h3.9v14.8h-3.9zM207.1 904.6h3.9v14.8h-3.9zM236.0 904.6h3.9v14.8h-3.9zM250.4 904.6h3.9v14.8h-3.9zM254.0 904.6h3.9v14.8h-3.9zM441.6 904.6h3.9v14.8h-3.9zM452.4 904.6h3.9v14.8h-3.9zM535.4 904.6h3.9v14.8h-3.9zM611.1 904.6h3.9v14.8h-3.9zM167.4 919.1h3.9v14.8h-3.9zM171.0 919.1h3.9v14.8h-3.9zM174.6 919.1h3.9v14.8h-3.9zM181.9 919.1h3.9v14.8h-3.9zM207.1 919.1h3.9v14.8h-3.9zM236.0 919.1h3.9v14.8h-3.9zM239.6 919.1h3.9v14.8h-3.9zM250.4 919.1h3.9v14.8h-3.9zM318.9 919.1h3.9v14.8h-3.9zM333.4 919.1h3.9v14.8h-3.9zM337.0 919.1h3.9v14.8h-3.9zM344.2 919.1h3.9v14.8h-3.9zM401.9 919.1h3.9v14.8h-3.9zM409.1 919.1h3.9v14.8h-3.9zM419.9 919.1h3.9v14.8h-3.9zM441.6 919.1h3.9v14.8h-3.9zM452.4 919.1h3.9v14.8h-3.9zM502.9 919.1h3.9v14.8h-3.9zM521.0 919.1h3.9v14.8h-3.9zM528.2 919.1h3.9v14.8h-3.9zM535.4 919.1h3.9v14.8h-3.9zM571.5 919.1h3.9v14.8h-3.9zM160.2 933.7h3.9v14.8h-3.9zM174.6 933.7h3.9v14.8h-3.9zM196.3 933.7h3.9v14.8h-3.9zM217.9 933.7h3.9v14.8h-3.9zM228.7 933.7h3.9v14.8h-3.9zM236.0 933.7h3.9v14.8h-3.9zM250.4 933.7h3.9v14.8h-3.9zM290.1 933.7h3.9v14.8h-3.9zM311.7 933.7h3.9v14.8h-3.9zM326.2 933.7h3.9v14.8h-3.9zM329.8 933.7h3.9v14.8h-3.9zM340.6 933.7h3.9v14.8h-3.9zM535.4 933.7h3.9v14.8h-3.9zM163.8 948.2h3.9v14.8h-3.9zM181.9 948.2h3.9v14.8h-3.9zM217.9 948.2h3.9v14.8h-3.9zM221.5 948.2h3.9v14.8h-3.9zM250.4 948.2h3.9v14.8h-3.9zM261.2 948.2h3.9v14.8h-3.9zM365.8 948.2h3.9v14.8h-3.9zM376.7 948.2h3.9v14.8h-3.9zM445.2 948.2h3.9v14.8h-3.9zM452.4 948.2h3.9v14.8h-3.9zM163.8 962.7h3.9v14.8h-3.9zM167.4 962.7h3.9v14.8h-3.9zM171.0 962.7h3.9v14.8h-3.9zM192.7 962.7h3.9v14.8h-3.9zM207.1 962.7h3.9v14.8h-3.9zM221.5 962.7h3.9v14.8h-3.9zM239.6 962.7h3.9v14.8h-3.9zM250.4 962.7h3.9v14.8h-3.9zM322.5 962.7h3.9v14.8h-3.9zM456.0 962.7h3.9v14.8h-3.9zM463.2 962.7h3.9v14.8h-3.9zM546.2 962.7h3.9v14.8h-3.9zM156.6 977.2h3.9v14.8h-3.9zM178.2 977.2h3.9v14.8h-3.9zM185.5 977.2h3.9v14.8h-3.9zM196.3 977.2h3.9v14.8h-3.9zM207.1 977.2h3.9v14.8h-3.9zM210.7 977.2h3.9v14.8h-3.9zM221.5 977.2h3.9v14.8h-3.9zM304.5 977.2h3.9v14.8h-3.9zM362.2 977.2h3.9v14.8h-3.9zM376.7 977.2h3.9v14.8h-3.9zM391.1 977.2h3.9v14.8h-3.9zM419.9 977.2h3.9v14.8h-3.9zM463.2 977.2h3.9v14.8h-3.9zM513.7 977.2h3.9v14.8h-3.9zM636.4 977.2h3.9v14.8h-3.9zM160.2 991.7h3.9v14.8h-3.9zM167.4 991.7h3.9v14.8h-3.9zM178.2 991.7h3.9v14.8h-3.9zM232.4 991.7h3.9v14.8h-3.9zM246.8 991.7h3.9v14.8h-3.9zM322.5 991.7h3.9v14.8h-3.9zM340.6 991.7h3.9v14.8h-3.9zM362.2 991.7h3.9v14.8h-3.9zM502.9 991.7h3.9v14.8h-3.9zM506.5 991.7h3.9v14.8h-3.9zM163.8 1020.7h3.9v14.8h-3.9zM174.6 1020.7h3.9v14.8h-3.9zM178.2 1020.7h3.9v14.8h-3.9zM225.1 1020.7h3.9v14.8h-3.9zM228.7 1020.7h3.9v14.8h-3.9zM232.4 1020.7h3.9v14.8h-3.9zM236.0 1020.7h3.9v14.8h-3.9zM243.2 1020.7h3.9v14.8h-3.9zM207.1 1035.2h3.9v14.8h-3.9zM221.5 1035.2h3.9v14.8h-3.9zM232.4 1035.2h3.9v14.8h-3.9zM174.6 1049.7h3.9v14.8h-3.9zM217.9 1049.7h3.9v14.8h-3.9zM225.1 1049.7h3.9v14.8h-3.9zM243.2 1049.7h3.9v14.8h-3.9zM250.4 1049.7h3.9v14.8h-3.9zM272.0 1049.7h3.9v14.8h-3.9zM308.1 1049.7h3.9v14.8h-3.9zM477.7 1049.7h3.9v14.8h-3.9zM499.3 1049.7h3.9v14.8h-3.9zM524.6 1049.7h3.9v14.8h-3.9zM528.2 1049.7h3.9v14.8h-3.9zM607.5 1049.7h3.9v14.8h-3.9zM181.9 1064.2h3.9v14.8h-3.9zM272.0 1064.2h3.9v14.8h-3.9zM297.3 1064.2h3.9v14.8h-3.9zM300.9 1064.2h3.9v14.8h-3.9zM326.2 1064.2h3.9v14.8h-3.9zM373.0 1064.2h3.9v14.8h-3.9zM394.7 1064.2h3.9v14.8h-3.9zM528.2 1064.2h3.9v14.8h-3.9zM254.0 1078.8h3.9v14.8h-3.9zM261.2 1078.8h3.9v14.8h-3.9zM304.5 1078.8h3.9v14.8h-3.9zM466.8 1078.8h3.9v14.8h-3.9zM510.1 1078.8h3.9v14.8h-3.9zM564.2 1078.8h3.9v14.8h-3.9zM636.4 1078.8h3.9v14.8h-3.9zM156.6 1093.3h3.9v14.8h-3.9zM185.5 1093.3h3.9v14.8h-3.9zM203.5 1093.3h3.9v14.8h-3.9zM217.9 1093.3h3.9v14.8h-3.9zM232.4 1093.3h3.9v14.8h-3.9zM257.6 1093.3h3.9v14.8h-3.9zM261.2 1093.3h3.9v14.8h-3.9zM326.2 1093.3h3.9v14.8h-3.9zM329.8 1093.3h3.9v14.8h-3.9zM409.1 1093.3h3.9v14.8h-3.9zM593.1 1093.3h3.9v14.8h-3.9zM600.3 1093.3h3.9v14.8h-3.9zM607.5 1093.3h3.9v14.8h-3.9zM636.4 1093.3h3.9v14.8h-3.9zM196.3 1107.8h3.9v14.8h-3.9zM210.7 1107.8h3.9v14.8h-3.9zM217.9 1107.8h3.9v14.8h-3.9zM304.5 1107.8h3.9v14.8h-3.9zM329.8 1107.8h3.9v14.8h-3.9zM603.9 1107.8h3.9v14.8h-3.9zM163.8 1122.3h3.9v14.8h-3.9zM171.0 1122.3h3.9v14.8h-3.9zM185.5 1122.3h3.9v14.8h-3.9zM192.7 1122.3h3.9v14.8h-3.9zM210.7 1122.3h3.9v14.8h-3.9zM459.6 1122.3h3.9v14.8h-3.9zM470.4 1122.3h3.9v14.8h-3.9zM502.9 1122.3h3.9v14.8h-3.9zM546.2 1122.3h3.9v14.8h-3.9zM582.3 1122.3h3.9v14.8h-3.9zM607.5 1122.3h3.9v14.8h-3.9zM199.9 1136.8h3.9v14.8h-3.9zM210.7 1136.8h3.9v14.8h-3.9zM228.7 1136.8h3.9v14.8h-3.9zM236.0 1136.8h3.9v14.8h-3.9zM254.0 1136.8h3.9v14.8h-3.9zM261.2 1136.8h3.9v14.8h-3.9zM293.7 1136.8h3.9v14.8h-3.9zM315.3 1136.8h3.9v14.8h-3.9zM427.2 1136.8h3.9v14.8h-3.9zM441.6 1136.8h3.9v14.8h-3.9zM459.6 1136.8h3.9v14.8h-3.9zM528.2 1136.8h3.9v14.8h-3.9zM603.9 1136.8h3.9v14.8h-3.9zM185.5 1151.3h3.9v14.8h-3.9zM221.5 1151.3h3.9v14.8h-3.9zM236.0 1151.3h3.9v14.8h-3.9zM246.8 1151.3h3.9v14.8h-3.9zM254.0 1151.3h3.9v14.8h-3.9zM261.2 1151.3h3.9v14.8h-3.9zM264.8 1151.3h3.9v14.8h-3.9zM337.0 1151.3h3.9v14.8h-3.9zM373.0 1151.3h3.9v14.8h-3.9zM463.2 1151.3h3.9v14.8h-3.9zM492.1 1151.3h3.9v14.8h-3.9zM589.5 1151.3h3.9v14.8h-3.9z"/>
<path fill="rgb(142,157,201)" d="M376.7 556.4h3.9v14.8h-3.9zM427.2 556.4h3.9v14.8h-3.9zM524.6 556.4h3.9v14.8h-3.9zM351.4 570.9h3.9v14.8h-3.9zM470.4 570.9h3.9v14.8h-3.9zM506.5 570.9h3.9v14.8h-3.9zM571.5 570.9h3.9v14.8h-3.9zM618.4 570.9h3.9v14.8h-3.9zM506.5 585.4h3.9v14.8h-3.9zM315.3 599.9h3.9v14.8h-3.9zM322.5 599.9h3.9v14.8h-3.9zM531.8 599.9h3.9v14.8h-3.9zM632.8 599.9h3.9v14.8h-3.9zM279.3 614.4h3.9v14.8h-3.9zM318.9 614.4h3.9v14.8h-3.9zM419.9 614.4h3.9v14.8h-3.9zM456.0 614.4h3.9v14.8h-3.9zM466.8 614.4h3.9v14.8h-3.9zM575.1 614.4h3.9v14.8h-3.9zM622.0 614.4h3.9v14.8h-3.9zM333.4 628.9h3.9v14.8h-3.9zM351.4 628.9h3.9v14.8h-3.9zM456.0 628.9h3.9v14.8h-3.9zM463.2 628.9h3.9v14.8h-3.9zM484.9 628.9h3.9v14.8h-3.9zM585.9 628.9h3.9v14.8h-3.9zM279.3 643.5h3.9v14.8h-3.9zM293.7 643.5h3.9v14.8h-3.9zM340.6 643.5h3.9v14.8h-3.9zM484.9 643.5h3.9v14.8h-3.9zM495.7 643.5h3.9v14.8h-3.9zM513.7 643.5h3.9v14.8h-3.9zM578.7 643.5h3.9v14.8h-3.9zM607.5 643.5h3.9v14.8h-3.9zM632.8 643.5h3.9v14.8h-3.9zM362.2 658.0h3.9v14.8h-3.9zM423.6 658.0h3.9v14.8h-3.9zM459.6 658.0h3.9v14.8h-3.9zM484.9 658.0h3.9v14.8h-3.9zM535.4 658.0h3.9v14.8h-3.9zM542.6 658.0h3.9v14.8h-3.9zM560.6 658.0h3.9v14.8h-3.9zM575.1 658.0h3.9v14.8h-3.9zM589.5 658.0h3.9v14.8h-3.9zM614.7 658.0h3.9v14.8h-3.9zM618.4 658.0h3.9v14.8h-3.9zM629.2 658.0h3.9v14.8h-3.9zM376.7 672.5h3.9v14.8h-3.9zM387.5 672.5h3.9v14.8h-3.9zM409.1 672.5h3.9v14.8h-3.9zM506.5 672.5h3.9v14.8h-3.9zM622.0 672.5h3.9v14.8h-3.9zM315.3 687.0h3.9v14.8h-3.9zM398.3 687.0h3.9v14.8h-3.9zM409.1 687.0h3.9v14.8h-3.9zM582.3 687.0h3.9v14.8h-3.9zM398.3 701.5h3.9v14.8h-3.9zM438.0 701.5h3.9v14.8h-3.9zM499.3 701.5h3.9v14.8h-3.9zM524.6 701.5h3.9v14.8h-3.9zM528.2 701.5h3.9v14.8h-3.9zM557.0 701.5h3.9v14.8h-3.9zM567.9 701.5h3.9v14.8h-3.9zM571.5 701.5h3.9v14.8h-3.9zM308.1 716.0h3.9v14.8h-3.9zM373.0 716.0h3.9v14.8h-3.9zM199.9 730.5h3.9v14.8h-3.9zM217.9 730.5h3.9v14.8h-3.9zM228.7 730.5h3.9v14.8h-3.9zM264.8 730.5h3.9v14.8h-3.9zM290.1 730.5h3.9v14.8h-3.9zM445.2 730.5h3.9v14.8h-3.9zM557.0 730.5h3.9v14.8h-3.9zM571.5 730.5h3.9v14.8h-3.9zM611.1 730.5h3.9v14.8h-3.9zM185.5 745.0h3.9v14.8h-3.9zM272.0 745.0h3.9v14.8h-3.9zM401.9 745.0h3.9v14.8h-3.9zM571.5 745.0h3.9v14.8h-3.9zM167.4 759.5h3.9v14.8h-3.9zM185.5 759.5h3.9v14.8h-3.9zM189.1 759.5h3.9v14.8h-3.9zM217.9 759.5h3.9v14.8h-3.9zM290.1 759.5h3.9v14.8h-3.9zM419.9 759.5h3.9v14.8h-3.9zM502.9 759.5h3.9v14.8h-3.9zM441.6 774.0h3.9v14.8h-3.9zM488.5 774.0h3.9v14.8h-3.9zM506.5 774.0h3.9v14.8h-3.9zM171.0 788.6h3.9v14.8h-3.9zM268.4 788.6h3.9v14.8h-3.9zM365.8 788.6h3.9v14.8h-3.9zM502.9 788.6h3.9v14.8h-3.9zM506.5 788.6h3.9v14.8h-3.9zM232.4 803.1h3.9v14.8h-3.9zM279.3 803.1h3.9v14.8h-3.9zM304.5 803.1h3.9v14.8h-3.9zM344.2 803.1h3.9v14.8h-3.9zM448.8 803.1h3.9v14.8h-3.9zM611.1 803.1h3.9v14.8h-3.9zM156.6 817.6h3.9v14.8h-3.9zM203.5 817.6h3.9v14.8h-3.9zM210.7 817.6h3.9v14.8h-3.9zM221.5 817.6h3.9v14.8h-3.9zM373.0 817.6h3.9v14.8h-3.9zM481.3 817.6h3.9v14.8h-3.9zM264.8 832.1h3.9v14.8h-3.9zM488.5 832.1h3.9v14.8h-3.9zM607.5 832.1h3.9v14.8h-3.9zM156.6 846.6h3.9v14.8h-3.9zM178.2 846.6h3.9v14.8h-3.9zM199.9 846.6h3.9v14.8h-3.9zM228.7 846.6h3.9v14.8h-3.9zM246.8 846.6h3.9v14.8h-3.9zM257.6 846.6h3.9v14.8h-3.9zM272.0 846.6h3.9v14.8h-3.9zM419.9 846.6h3.9v14.8h-3.9zM575.1 846.6h3.9v14.8h-3.9zM178.2 861.1h3.9v14.8h-3.9zM207.1 861.1h3.9v14.8h-3.9zM214.3 861.1h3.9v14.8h-3.9zM225.1 861.1h3.9v14.8h-3.9zM228.7 861.1h3.9v14.8h-3.9zM243.2 861.1h3.9v14.8h-3.9zM246.8 861.1h3.9v14.8h-3.9zM257.6 861.1h3.9v14.8h-3.9zM387.5 861.1h3.9v14.8h-3.9zM178.2 875.6h3.9v14.8h-3.9zM189.1 875.6h3.9v14.8h-3.9zM207.1 875.6h3.9v14.8h-3.9zM225.1 875.6h3.9v14.8h-3.9zM243.2 875.6h3.9v14.8h-3.9zM254.0 875.6h3.9v14.8h-3.9zM268.4 875.6h3.9v14.8h-3.9zM308.1 875.6h3.9v14.8h-3.9zM391.1 875.6h3.9v14.8h-3.9zM560.6 875.6h3.9v14.8h-3.9zM171.0 890.1h3.9v14.8h-3.9zM189.1 890.1h3.9v14.8h-3.9zM207.1 890.1h3.9v14.8h-3.9zM254.0 890.1h3.9v14.8h-3.9zM264.8 890.1h3.9v14.8h-3.9zM582.3 890.1h3.9v14.8h-3.9zM203.5 904.6h3.9v14.8h-3.9zM221.5 904.6h3.9v14.8h-3.9zM225.1 904.6h3.9v14.8h-3.9zM232.4 904.6h3.9v14.8h-3.9zM383.9 904.6h3.9v14.8h-3.9zM481.3 904.6h3.9v14.8h-3.9zM571.5 904.6h3.9v14.8h-3.9zM189.1 919.1h3.9v14.8h-3.9zM228.7 919.1h3.9v14.8h-3.9zM257.6 919.1h3.9v14.8h-3.9zM463.2 919.1h3.9v14.8h-3.9zM542.6 919.1h3.9v14.8h-3.9zM564.2 919.1h3.9v14.8h-3.9zM625.6 919.1h3.9v14.8h-3.9zM189.1 933.7h3.9v14.8h-3.9zM232.4 933.7h3.9v14.8h-3.9zM246.8 933.7h3.9v14.8h-3.9zM344.2 933.7h3.9v14.8h-3.9zM445.2 933.7h3.9v14.8h-3.9zM567.9 933.7h3.9v14.8h-3.9zM571.5 933.7h3.9v14.8h-3.9zM607.5 933.7h3.9v14.8h-3.9zM199.9 948.2h3.9v14.8h-3.9zM203.5 948.2h3.9v14.8h-3.9zM225.1 948.2h3.9v14.8h-3.9zM228.7 948.2h3.9v14.8h-3.9zM236.0 948.2h3.9v14.8h-3.9zM239.6 948.2h3.9v14.8h-3.9zM243.2 948.2h3.9v14.8h-3.9zM246.8 948.2h3.9v14.8h-3.9zM257.6 948.2h3.9v14.8h-3.9zM264.8 948.2h3.9v14.8h-3.9zM275.6 948.2h3.9v14.8h-3.9zM564.2 948.2h3.9v14.8h-3.9zM603.9 948.2h3.9v14.8h-3.9zM181.9 962.7h3.9v14.8h-3.9zM189.1 962.7h3.9v14.8h-3.9zM210.7 962.7h3.9v14.8h-3.9zM228.7 962.7h3.9v14.8h-3.9zM236.0 962.7h3.9v14.8h-3.9zM243.2 962.7h3.9v14.8h-3.9zM246.8 962.7h3.9v14.8h-3.9zM257.6 962.7h3.9v14.8h-3.9zM383.9 962.7h3.9v14.8h-3.9zM445.2 962.7h3.9v14.8h-3.9zM459.6 962.7h3.9v14.8h-3.9zM567.9 962.7h3.9v14.8h-3.9zM189.1 977.2h3.9v14.8h-3.9zM228.7 977.2h3.9v14.8h-3.9zM236.0 977.2h3.9v14.8h-3.9zM243.2 977.2h3.9v14.8h-3.9zM268.4 977.2h3.9v14.8h-3.9zM322.5 977.2h3.9v14.8h-3.9zM380.3 977.2h3.9v14.8h-3.9zM488.5 977.2h3.9v14.8h-3.9zM567.9 977.2h3.9v14.8h-3.9zM192.7 991.7h3.9v14.8h-3.9zM203.5 991.7h3.9v14.8h-3.9zM214.3 991.7h3.9v14.8h-3.9zM217.9 991.7h3.9v14.8h-3.9zM221.5 991.7h3.9v14.8h-3.9zM228.7 991.7h3.9v14.8h-3.9zM264.8 991.7h3.9v14.8h-3.9zM268.4 991.7h3.9v14.8h-3.9zM272.0 991.7h3.9v14.8h-3.9zM286.5 991.7h3.9v14.8h-3.9zM344.2 991.7h3.9v14.8h-3.9zM373.0 991.7h3.9v14.8h-3.9zM517.3 991.7h3.9v14.8h-3.9zM214.3 1049.7h3.9v14.8h-3.9zM246.8 1049.7h3.9v14.8h-3.9zM286.5 1049.7h3.9v14.8h-3.9zM448.8 1049.7h3.9v14.8h-3.9zM553.4 1049.7h3.9v14.8h-3.9zM618.4 1049.7h3.9v14.8h-3.9zM156.6 1064.2h3.9v14.8h-3.9zM163.8 1064.2h3.9v14.8h-3.9zM189.1 1064.2h3.9v14.8h-3.9zM214.3 1064.2h3.9v14.8h-3.9zM221.5 1064.2h3.9v14.8h-3.9zM236.0 1064.2h3.9v14.8h-3.9zM293.7 1064.2h3.9v14.8h-3.9zM160.2 1078.8h3.9v14.8h-3.9zM203.5 1078.8h3.9v14.8h-3.9zM232.4 1078.8h3.9v14.8h-3.9zM239.6 1078.8h3.9v14.8h-3.9zM264.8 1078.8h3.9v14.8h-3.9zM268.4 1078.8h3.9v14.8h-3.9zM318.9 1078.8h3.9v14.8h-3.9zM521.0 1078.8h3.9v14.8h-3.9zM178.2 1093.3h3.9v14.8h-3.9zM236.0 1093.3h3.9v14.8h-3.9zM246.8 1093.3h3.9v14.8h-3.9zM250.4 1093.3h3.9v14.8h-3.9zM272.0 1093.3h3.9v14.8h-3.9zM405.5 1093.3h3.9v14.8h-3.9zM441.6 1093.3h3.9v14.8h-3.9zM549.8 1093.3h3.9v14.8h-3.9zM557.0 1093.3h3.9v14.8h-3.9zM571.5 1093.3h3.9v14.8h-3.9zM171.0 1107.8h3.9v14.8h-3.9zM272.0 1107.8h3.9v14.8h-3.9zM347.8 1107.8h3.9v14.8h-3.9zM564.2 1107.8h3.9v14.8h-3.9zM585.9 1107.8h3.9v14.8h-3.9zM189.1 1122.3h3.9v14.8h-3.9zM207.1 1122.3h3.9v14.8h-3.9zM517.3 1136.8h3.9v14.8h-3.9zM203.5 1151.3h3.9v14.8h-3.9zM214.3 1151.3h3.9v14.8h-3.9zM217.9 1151.3h3.9v14.8h-3.9zM257.6 1151.3h3.9v14.8h-3.9z"/>
<path fill="rgb(95,120,181)" d="M535.4 556.4h3.9v14.8h-3.9zM376.7 599.9h3.9v14.8h-3.9zM409.1 614.4h3.9v14.8h-3.9zM499.3 614.4h3.9v14.8h-3.9zM611.1 614.4h3.9v14.8h-3.9zM445.2 628.9h3.9v14.8h-3.9zM499.3 628.9h3.9v14.8h-3.9zM524.6 628.9h3.9v14.8h-3.9zM625.6 628.9h3.9v14.8h-3.9zM636.4 628.9h3.9v14.8h-3.9zM311.7 643.5h3.9v14.8h-3.9zM423.6 643.5h3.9v14.8h-3.9zM456.0 643.5h3.9v14.8h-3.9zM575.1 643.5h3.9v14.8h-3.9zM315.3 658.0h3.9v14.8h-3.9zM513.7 658.0h3.9v14.8h-3.9zM578.7 658.0h3.9v14.8h-3.9zM607.5 658.0h3.9v14.8h-3.9zM347.8 672.5h3.9v14.8h-3.9zM351.4 672.5h3.9v14.8h-3.9zM484.9 672.5h3.9v14.8h-3.9zM560.6 672.5h3.9v14.8h-3.9zM585.9 672.5h3.9v14.8h-3.9zM625.6 672.5h3.9v14.8h-3.9zM340.6 701.5h3.9v14.8h-3.9zM535.4 716.0h3.9v14.8h-3.9zM181.9 730.5h3.9v14.8h-3.9zM185.5 730.5h3.9v14.8h-3.9zM207.1 730.5h3.9v14.8h-3.9zM463.2 730.5h3.9v14.8h-3.9zM171.0 745.0h3.9v14.8h-3.9zM210.7 745.0h3.9v14.8h-3.9zM236.0 745.0h3.9v14.8h-3.9zM264.8 745.0h3.9v14.8h-3.9zM196.3 759.5h3.9v14.8h-3.9zM181.9 788.6h3.9v14.8h-3.9zM189.1 788.6h3.9v14.8h-3.9zM192.7 788.6h3.9v14.8h-3.9zM571.5 788.6h3.9v14.8h-3.9zM199.9 803.1h3.9v14.8h-3.9zM567.9 803.1h3.9v14.8h-3.9zM311.7 817.6h3.9v14.8h-3.9zM575.1 817.6h3.9v14.8h-3.9zM246.8 832.1h3.9v14.8h-3.9zM239.6 846.6h3.9v14.8h-3.9zM405.5 846.6h3.9v14.8h-3.9zM297.3 861.1h3.9v14.8h-3.9zM308.1 861.1h3.9v14.8h-3.9zM315.3 861.1h3.9v14.8h-3.9zM477.7 861.1h3.9v14.8h-3.9zM192.7 890.1h3.9v14.8h-3.9zM203.5 890.1h3.9v14.8h-3.9zM391.1 890.1h3.9v14.8h-3.9zM394.7 890.1h3.9v14.8h-3.9zM521.0 890.1h3.9v14.8h-3.9zM329.8 919.1h3.9v14.8h-3.9zM405.5 919.1h3.9v14.8h-3.9zM510.1 933.7h3.9v14.8h-3.9zM383.9 948.2h3.9v14.8h-3.9zM459.6 948.2h3.9v14.8h-3.9zM434.4 962.7h3.9v14.8h-3.9zM225.1 977.2h3.9v14.8h-3.9zM297.3 977.2h3.9v14.8h-3.9zM456.0 991.7h3.9v14.8h-3.9zM539.0 991.7h3.9v14.8h-3.9zM607.5 991.7h3.9v14.8h-3.9zM268.4 1049.7h3.9v14.8h-3.9zM239.6 1064.2h3.9v14.8h-3.9zM250.4 1064.2h3.9v14.8h-3.9zM419.9 1064.2h3.9v14.8h-3.9zM221.5 1078.8h3.9v14.8h-3.9zM329.8 1078.8h3.9v14.8h-3.9zM221.5 1093.3h3.9v14.8h-3.9zM293.7 1093.3h3.9v14.8h-3.9zM528.2 1093.3h3.9v14.8h-3.9zM167.4 1107.8h3.9v14.8h-3.9zM181.9 1107.8h3.9v14.8h-3.9zM221.5 1107.8h3.9v14.8h-3.9zM250.4 1107.8h3.9v14.8h-3.9zM394.7 1107.8h3.9v14.8h-3.9zM181.9 1122.3h3.9v14.8h-3.9zM199.9 1122.3h3.9v14.8h-3.9zM203.5 1122.3h3.9v14.8h-3.9zM217.9 1122.3h3.9v14.8h-3.9zM257.6 1122.3h3.9v14.8h-3.9z"/>
<path fill="rgb(119,138,191)" d="M564.2 556.4h3.9v14.8h-3.9zM632.8 556.4h3.9v14.8h-3.9zM535.4 570.9h3.9v14.8h-3.9zM207.1 585.4h3.9v14.8h-3.9zM578.7 585.4h3.9v14.8h-3.9zM394.7 599.9h3.9v14.8h-3.9zM488.5 599.9h3.9v14.8h-3.9zM614.7 599.9h3.9v14.8h-3.9zM369.4 614.4h3.9v14.8h-3.9zM521.0 614.4h3.9v14.8h-3.9zM571.5 614.4h3.9v14.8h-3.9zM632.8 614.4h3.9v14.8h-3.9zM365.8 628.9h3.9v14.8h-3.9zM369.4 628.9h3.9v14.8h-3.9zM394.7 628.9h3.9v14.8h-3.9zM419.9 628.9h3.9v14.8h-3.9zM448.8 628.9h3.9v14.8h-3.9zM578.7 628.9h3.9v14.8h-3.9zM596.7 628.9h3.9v14.8h-3.9zM632.8 628.9h3.9v14.8h-3.9zM383.9 643.5h3.9v14.8h-3.9zM585.9 643.5h3.9v14.8h-3.9zM340.6 658.0h3.9v14.8h-3.9zM369.4 658.0h3.9v14.8h-3.9zM383.9 658.0h3.9v14.8h-3.9zM398.3 658.0h3.9v14.8h-3.9zM571.5 658.0h3.9v14.8h-3.9zM585.9 658.0h3.9v14.8h-3.9zM282.9 672.5h3.9v14.8h-3.9zM430.8 672.5h3.9v14.8h-3.9zM448.8 672.5h3.9v14.8h-3.9zM510.1 672.5h3.9v14.8h-3.9zM539.0 672.5h3.9v14.8h-3.9zM575.1 672.5h3.9v14.8h-3.9zM607.5 672.5h3.9v14.8h-3.9zM376.7 687.0h3.9v14.8h-3.9zM531.8 687.0h3.9v14.8h-3.9zM535.4 687.0h3.9v14.8h-3.9zM585.9 687.0h3.9v14.8h-3.9zM308.1 701.5h3.9v14.8h-3.9zM351.4 716.0h3.9v14.8h-3.9zM492.1 716.0h3.9v14.8h-3.9zM506.5 716.0h3.9v14.8h-3.9zM542.6 716.0h3.9v14.8h-3.9zM156.6 730.5h3.9v14.8h-3.9zM178.2 730.5h3.9v14.8h-3.9zM232.4 730.5h3.9v14.8h-3.9zM243.2 730.5h3.9v14.8h-3.9zM250.4 730.5h3.9v14.8h-3.9zM318.9 730.5h3.9v14.8h-3.9zM174.6 745.0h3.9v14.8h-3.9zM178.2 745.0h3.9v14.8h-3.9zM207.1 745.0h3.9v14.8h-3.9zM221.5 745.0h3.9v14.8h-3.9zM232.4 745.0h3.9v14.8h-3.9zM246.8 745.0h3.9v14.8h-3.9zM434.4 745.0h3.9v14.8h-3.9zM178.2 759.5h3.9v14.8h-3.9zM181.9 759.5h3.9v14.8h-3.9zM199.9 759.5h3.9v14.8h-3.9zM203.5 759.5h3.9v14.8h-3.9zM221.5 759.5h3.9v14.8h-3.9zM243.2 759.5h3.9v14.8h-3.9zM254.0 759.5h3.9v14.8h-3.9zM257.6 759.5h3.9v14.8h-3.9zM445.2 774.0h3.9v14.8h-3.9zM156.6 788.6h3.9v14.8h-3.9zM221.5 788.6h3.9v14.8h-3.9zM246.8 788.6h3.9v14.8h-3.9zM409.1 788.6h3.9v14.8h-3.9zM448.8 788.6h3.9v14.8h-3.9zM181.9 803.1h3.9v14.8h-3.9zM203.5 803.1h3.9v14.8h-3.9zM243.2 803.1h3.9v14.8h-3.9zM264.8 803.1h3.9v14.8h-3.9zM286.5 803.1h3.9v14.8h-3.9zM311.7 803.1h3.9v14.8h-3.9zM409.1 803.1h3.9v14.8h-3.9zM171.0 817.6h3.9v14.8h-3.9zM181.9 817.6h3.9v14.8h-3.9zM257.6 817.6h3.9v14.8h-3.9zM243.2 832.1h3.9v14.8h-3.9zM315.3 832.1h3.9v14.8h-3.9zM401.9 832.1h3.9v14.8h-3.9zM171.0 846.6h3.9v14.8h-3.9zM181.9 846.6h3.9v14.8h-3.9zM203.5 846.6h3.9v14.8h-3.9zM373.0 846.6h3.9v14.8h-3.9zM181.9 861.1h3.9v14.8h-3.9zM189.1 861.1h3.9v14.8h-3.9zM199.9 861.1h3.9v14.8h-3.9zM203.5 861.1h3.9v14.8h-3.9zM232.4 861.1h3.9v14.8h-3.9zM264.8 861.1h3.9v14.8h-3.9zM268.4 861.1h3.9v14.8h-3.9zM567.9 861.1h3.9v14.8h-3.9zM625.6 861.1h3.9v14.8h-3.9zM203.5 875.6h3.9v14.8h-3.9zM228.7 875.6h3.9v14.8h-3.9zM264.8 875.6h3.9v14.8h-3.9zM275.6 875.6h3.9v14.8h-3.9zM326.2 875.6h3.9v14.8h-3.9zM329.8 875.6h3.9v14.8h-3.9zM607.5 875.6h3.9v14.8h-3.9zM199.9 890.1h3.9v14.8h-3.9zM228.7 890.1h3.9v14.8h-3.9zM232.4 890.1h3.9v14.8h-3.9zM243.2 890.1h3.9v14.8h-3.9zM268.4 890.1h3.9v14.8h-3.9zM286.5 890.1h3.9v14.8h-3.9zM387.5 890.1h3.9v14.8h-3.9zM484.9 890.1h3.9v14.8h-3.9zM239.6 904.6h3.9v14.8h-3.9zM268.4 904.6h3.9v14.8h-3.9zM362.2 904.6h3.9v14.8h-3.9zM203.5 919.1h3.9v14.8h-3.9zM232.4 919.1h3.9v14.8h-3.9zM181.9 933.7h3.9v14.8h-3.9zM203.5 933.7h3.9v14.8h-3.9zM225.1 933.7h3.9v14.8h-3.9zM239.6 933.7h3.9v14.8h-3.9zM333.4 933.7h3.9v14.8h-3.9zM596.7 933.7h3.9v14.8h-3.9zM286.5 948.2h3.9v14.8h-3.9zM358.6 948.2h3.9v14.8h-3.9zM391.1 948.2h3.9v14.8h-3.9zM232.4 962.7h3.9v14.8h-3.9zM272.0 962.7h3.9v14.8h-3.9zM488.5 962.7h3.9v14.8h-3.9zM492.1 962.7h3.9v14.8h-3.9zM181.9 977.2h3.9v14.8h-3.9zM239.6 977.2h3.9v14.8h-3.9zM246.8 977.2h3.9v14.8h-3.9zM156.6 991.7h3.9v14.8h-3.9zM210.7 991.7h3.9v14.8h-3.9zM419.9 991.7h3.9v14.8h-3.9zM163.8 1049.7h3.9v14.8h-3.9zM171.0 1049.7h3.9v14.8h-3.9zM199.9 1049.7h3.9v14.8h-3.9zM203.5 1049.7h3.9v14.8h-3.9zM221.5 1049.7h3.9v14.8h-3.9zM236.0 1049.7h3.9v14.8h-3.9zM239.6 1049.7h3.9v14.8h-3.9zM257.6 1049.7h3.9v14.8h-3.9zM264.8 1049.7h3.9v14.8h-3.9zM405.5 1049.7h3.9v14.8h-3.9zM593.1 1049.7h3.9v14.8h-3.9zM596.7 1049.7h3.9v14.8h-3.9zM203.5 1064.2h3.9v14.8h-3.9zM246.8 1064.2h3.9v14.8h-3.9zM167.4 1078.8h3.9v14.8h-3.9zM171.0 1078.8h3.9v14.8h-3.9zM178.2 1078.8h3.9v14.8h-3.9zM185.5 1078.8h3.9v14.8h-3.9zM189.1 1078.8h3.9v14.8h-3.9zM196.3 1078.8h3.9v14.8h-3.9zM600.3 1078.8h3.9v14.8h-3.9zM629.2 1078.8h3.9v14.8h-3.9zM171.0 1093.3h3.9v14.8h-3.9zM189.1 1093.3h3.9v14.8h-3.9zM214.3 1093.3h3.9v14.8h-3.9zM228.7 1093.3h3.9v14.8h-3.9zM347.8 1093.3h3.9v14.8h-3.9zM351.4 1093.3h3.9v14.8h-3.9zM618.4 1093.3h3.9v14.8h-3.9zM405.5 1107.8h3.9v14.8h-3.9zM214.3 1122.3h3.9v14.8h-3.9zM225.1 1122.3h3.9v14.8h-3.9zM268.4 1122.3h3.9v14.8h-3.9zM347.8 1122.3h3.9v14.8h-3.9zM517.3 1122.3h3.9v14.8h-3.9zM268.4 1151.3h3.9v14.8h-3.9z"/>
<path fill="rgb(48,82,161)" d="M578.7 556.4h3.9v14.8h-3.9zM308.1 614.4h3.9v14.8h-3.9zM567.9 614.4h3.9v14.8h-3.9zM466.8 628.9h3.9v14.8h-3.9zM279.3 658.0h3.9v14.8h-3.9zM629.2 672.5h3.9v14.8h-3.9zM531.8 716.0h3.9v14.8h-3.9zM189.1 730.5h3.9v14.8h-3.9zM322.5 846.6h3.9v14.8h-3.9zM286.5 861.1h3.9v14.8h-3.9zM463.2 1078.8h3.9v14.8h-3.9zM603.9 1093.3h3.9v14.8h-3.9z"/>
<path fill="rgb(72,101,171)" d="M376.7 614.4h3.9v14.8h-3.9zM459.6 614.4h3.9v14.8h-3.9zM502.9 614.4h3.9v14.8h-3.9zM308.1 628.9h3.9v14.8h-3.9zM362.2 643.5h3.9v14.8h-3.9zM549.8 658.0h3.9v14.8h-3.9zM423.6 672.5h3.9v14.8h-3.9zM502.9 672.5h3.9v14.8h-3.9zM571.5 672.5h3.9v14.8h-3.9zM171.0 730.5h3.9v14.8h-3.9zM192.7 730.5h3.9v14.8h-3.9zM221.5 730.5h3.9v14.8h-3.9zM214.3 745.0h3.9v14.8h-3.9zM243.2 745.0h3.9v14.8h-3.9zM257.6 745.0h3.9v14.8h-3.9zM174.6 759.5h3.9v14.8h-3.9zM192.7 759.5h3.9v14.8h-3.9zM210.7 759.5h3.9v14.8h-3.9zM214.3 759.5h3.9v14.8h-3.9zM232.4 759.5h3.9v14.8h-3.9zM192.7 803.1h3.9v14.8h-3.9zM156.6 1049.7h3.9v14.8h-3.9zM477.7 1064.2h3.9v14.8h-3.9zM571.5 1064.2h3.9v14.8h-3.9zM246.8 1078.8h3.9v14.8h-3.9zM618.4 1078.8h3.9v14.8h-3.9zM394.7 1093.3h3.9v14.8h-3.9zM495.7 1122.3h3.9v14.8h-3.9z"/>
<path fill="rgb(30,70,155)" d="M409.1 628.9h3.9v14.8h-3.9zM474.1 643.5h3.9v14.8h-3.9zM542.6 643.5h3.9v14.8h-3.9zM571.5 643.5h3.9v14.8h-3.9zM376.7 658.0h3.9v14.8h-3.9zM474.1 658.0h3.9v14.8h-3.9zM297.3 672.5h3.9v14.8h-3.9z"/>
<g font-family="Liberation Sans, Arial, sans-serif" fill="#111" stroke="#111" stroke-width="0.2">
<text transform="translate(647.5 569.3) scale(0.92 1)" font-size="16.9">DPP7</text>
<text transform="translate(647.5 583.8) scale(0.92 1)" font-size="16.9">S1PR5</text>
<text transform="translate(647.5 598.3) scale(0.92 1)" font-size="16.9">SCN3A</text>
<text transform="translate(647.5 612.8) scale(0.92 1)" font-size="16.9">ABCC1</text>
<text transform="translate(647.5 627.3) scale(0.92 1)" font-size="16.9">PIK3R1</text>
<text transform="translate(647.5 641.8) scale(0.92 1)" font-size="16.9">TDP1</text>
<text transform="translate(647.5 656.3) scale(0.92 1)" font-size="16.9">APEX1</text>
<text transform="translate(647.5 670.8) scale(0.92 1)" font-size="16.9">METAP2</text>
<text transform="translate(647.5 685.3) scale(0.92 1)" font-size="16.9">HDAC3</text>
<text transform="translate(647.5 699.8) scale(0.92 1)" font-size="16.9">WDR5</text>
<text transform="translate(647.5 714.4) scale(0.92 1)" font-size="16.9">PTPN11</text>
<text transform="translate(647.5 728.9) scale(0.92 1)" font-size="16.9">TRIM24</text>
<text transform="translate(647.5 743.4) scale(0.92 1)" font-size="16.9">MAP2K2</text>
<text transform="translate(647.5 757.9) scale(0.92 1)" font-size="16.9">GPR35</text>
<text transform="translate(647.5 772.4) scale(0.92 1)" font-size="16.9">SLC9A1</text>
<text transform="translate(647.5 786.9) scale(0.92 1)" font-size="16.9">CA1</text>
<text transform="translate(647.5 801.4) scale(0.92 1)" font-size="16.9">CHRNA1</text>
<text transform="translate(647.5 815.9) scale(0.92 1)" font-size="16.9">CA9</text>
<text transform="translate(647.5 830.4) scale(0.92 1)" font-size="16.9">KLK7</text>
<text transform="translate(647.5 844.9) scale(0.92 1)" font-size="16.9">GRIK1</text>
<text transform="translate(647.5 859.5) scale(0.92 1)" font-size="16.9">TOP1</text>
<text transform="translate(647.5 874.0) scale(0.92 1)" font-size="16.9">KLF5</text>
<text transform="translate(647.5 888.5) scale(0.92 1)" font-size="16.9">HIF1A</text>
<text transform="translate(647.5 903.0) scale(0.92 1)" font-size="16.9">PIK3CB</text>
<text transform="translate(647.5 917.5) scale(0.92 1)" font-size="16.9">EGLN1</text>
<text transform="translate(647.5 932.0) scale(0.92 1)" font-size="16.9">FPR1</text>
<text transform="translate(647.5 946.5) scale(0.92 1)" font-size="16.9">SLC40A1</text>
<text transform="translate(647.5 961.0) scale(0.92 1)" font-size="16.9">NFE2L2</text>
<text transform="translate(647.5 975.5) scale(0.92 1)" font-size="16.9">CCR1</text>
<text transform="translate(647.5 990.0) scale(0.92 1)" font-size="16.9">FPR2</text>
<text transform="translate(647.5 1004.6) scale(0.92 1)" font-size="16.9">TLR4</text>
<text transform="translate(647.5 1019.1) scale(0.92 1)" font-size="16.9">CTSG</text>
<text transform="translate(647.5 1033.6) scale(0.92 1)" font-size="16.9">AURKB</text>
<text transform="translate(647.5 1048.1) scale(0.92 1)" font-size="16.9">TOP2A</text>
<text transform="translate(647.5 1062.6) scale(0.92 1)" font-size="16.9">CDK5</text>
<text transform="translate(647.5 1077.1) scale(0.92 1)" font-size="16.9">GRB2</text>
<text transform="translate(647.5 1091.6) scale(0.92 1)" font-size="16.9">RNPEP</text>
<text transform="translate(647.5 1106.1) scale(0.92 1)" font-size="16.9">GSTO1</text>
<text transform="translate(647.5 1120.6) scale(0.92 1)" font-size="16.9">CTSD</text>
<text transform="translate(647.5 1135.1) scale(0.92 1)" font-size="16.9">GUSB</text>
<text transform="translate(647.5 1149.7) scale(0.92 1)" font-size="16.9">ADORA3</text>
<text transform="translate(647.5 1164.2) scale(0.92 1)" font-size="16.9">BLM</text>
<text transform="translate(647.5 545.6) scale(0.92 1)" font-size="16.9">group</text>
<text transform="translate(736 747.0) scale(0.96 1)" font-size="16.6">group</text>
<text transform="translate(768.3 778.2) scale(0.92 1)" font-size="14.2">Control</text>
<text transform="translate(768.3 802.5) scale(0.92 1)" font-size="14.2">Sepsis</text>
<text transform="translate(766 849.0) scale(0.92 1)" font-size="13.3">2</text>
<text transform="translate(766 883.5) scale(0.92 1)" font-size="13.3">1</text>
<text transform="translate(766 918.0) scale(0.92 1)" font-size="13.3">0</text>
<text transform="translate(766 952.6) scale(0.92 1)" font-size="13.3">-1</text>
<text transform="translate(766 986.8) scale(0.92 1)" font-size="13.3">-2</text>
</g>
<rect x="737" y="762.1" width="22.8" height="21.8" fill="#0545c4"/>
<rect x="737" y="786.6" width="22.8" height="21.8" fill="#e64b32"/>
<defs><linearGradient id="cb" x1="0" y1="0" x2="0" y2="1">
<stop offset="0" stop-color="rgb(238,30,14)"/>
<stop offset="0.04" stop-color="rgb(242,48,24)"/>
<stop offset="0.28" stop-color="rgb(255,150,124)"/>
<stop offset="0.4" stop-color="rgb(255,205,190)"/>
<stop offset="0.512" stop-color="rgb(255,255,255)"/>
<stop offset="0.63" stop-color="rgb(222,226,240)"/>
<stop offset="0.744" stop-color="rgb(166,176,211)"/>
<stop offset="0.88" stop-color="rgb(100,125,185)"/>
<stop offset="0.977" stop-color="rgb(44,80,160)"/>
<stop offset="1" stop-color="rgb(34,72,155)"/>
</linearGradient></defs>
<rect x="735.5" y="838.3" width="24.3" height="149.6" fill="url(#cb)"/>
<path d="M735.5 844.3h7.5M759.8 844.3h-7.5M735.5 878.8h7.5M759.8 878.8h-7.5M735.5 947.9h7.5M759.8 947.9h-7.5M735.5 982.1h7.5M759.8 982.1h-7.5M735.5 913.3h7.5M759.8 913.3h-7.5" stroke="#fff" stroke-width="1.8"/>
<path d="M153.4 563.7H119.2V578.2H153.4M153.4 607.2H126V621.7H153.4M153.4 650.7H134.6V665.2H153.4M153.4 636.2H132.2V658.0H134.6M153.4 679.7H128.1V694.2H153.4M132.2 647.1H125.2V687.0H128.1M153.4 708.8H124.1V723.3H153.4M125.2 667.0H119.2V716.0H124.1M126.0 614.4H118.1V691.5H119.2M153.4 592.7H113.6V653.0H118.1M119.2 570.9H111.6V622.8H113.6M153.4 752.3H122.5V766.8H153.4M153.4 737.8H118.1V759.5H122.5M153.4 810.3H130.2V824.8H153.4M153.4 795.8H119.6V817.6H130.2M153.4 781.3H116.8V806.7H119.6M118.1 748.7H112V794.0H116.8M153.4 839.3H120.8V853.9H153.4M153.4 882.9H128.6V897.4H153.4M153.4 926.4H135.7V940.9H153.4M153.4 911.9H128.1V933.7H135.7M128.6 890.1H124.9V922.8H128.1M153.4 984.4H138.3V999.0H153.4M153.4 969.9H129.2V991.7H138.3M153.4 955.4H122.5V980.8H129.2M124.9 906.5H120.8V968.1H122.5M153.4 868.4H118.4V937.3H120.8M120.8 846.6H115.2V902.8H118.4M153.4 1028.0H138.3V1042.5H153.4M153.4 1013.5H121.7V1035.2H138.3M153.4 1071.5H130.9V1086.0H153.4M153.4 1057.0H128.1V1078.8H130.9M153.4 1115.0H128.6V1129.5H153.4M153.4 1100.5H127.3V1122.3H128.6M128.1 1067.9H121.2V1111.4H127.3M153.4 1144.1H117.6V1158.6H153.4M121.2 1089.6H116.3V1151.3H117.6M121.7 1024.3H113.6V1120.5H116.3M115.2 874.7H110.8V1072.4H113.6M112.0 771.3H105V973.6H110.8M111.6 596.9H101.5V872.4H105.0" stroke="#111" stroke-width="1.7" fill="none"/>
</g>
<g id="pE">
<path d="M941.6 593.1L1119.8 593.1M941.6 593.1L1119.8 862.1M941.6 593.1L1119.8 1131.0M941.6 682.8L1297.9 682.8M941.6 682.8L941.6 772.4M941.6 682.8L1476.1 862.1M941.6 682.8L1476.1 951.7M941.6 682.8L1297.9 1041.4M941.6 682.8L1297.9 1131.0M941.6 862.1L1119.8 593.1M941.6 772.4L1476.1 862.1M941.6 772.4L1476.1 951.7M941.6 951.7L1297.9 772.4M1654.3 593.1L1476.1 682.8M941.6 951.7L1654.3 951.7M941.6 951.7L941.6 1131.0M941.6 1041.4L1297.9 1041.4M941.6 1131.0L1119.8 951.7M941.6 1131.0L1476.1 1041.4M1119.8 593.1L1119.8 1131.0M1119.8 593.1L1297.9 862.1M1119.8 682.8L1476.1 951.7M1119.8 772.4L1297.9 682.8M1297.9 593.1L1297.9 1041.4M1297.9 593.1L1119.8 1131.0M1297.9 593.1L1654.3 862.1M1297.9 593.1L1654.3 951.7M1297.9 682.8L1654.3 593.1M1297.9 682.8L1119.8 951.7M1297.9 682.8L1476.1 862.1M1119.8 951.7L1297.9 772.4M1119.8 951.7L1476.1 772.4M1119.8 951.7L1654.3 593.1M1119.8 951.7L1654.3 772.4M1119.8 951.7L1476.1 862.1M1119.8 951.7L1476.1 1041.4M1119.8 951.7L1654.3 1041.4M1119.8 1041.4L1476.1 682.8M1119.8 1041.4L1476.1 1131.0M1119.8 1131.0L1297.9 772.4M1119.8 1131.0L1297.9 862.1M1119.8 1131.0L1654.3 593.1M1119.8 1131.0L1654.3 862.1M1297.9 1131.0L1654.3 593.1M1297.9 1131.0L1476.1 951.7M1476.1 1041.4L1654.3 682.8M1476.1 1041.4L1654.3 1041.4M1476.1 593.1L1654.3 593.1M1297.9 772.4L1654.3 862.1M1297.9 772.4L1654.3 951.7M1476.1 682.8L1476.1 951.7M1654.3 862.1L1654.3 951.7" stroke="#848684" stroke-width="4" fill="none"/>
<g fill="#FF0033">
<circle cx="941.6" cy="593.1" r="39"/>
<circle cx="941.6" cy="682.8" r="39"/>
<circle cx="941.6" cy="772.4" r="39"/>
<circle cx="941.6" cy="862.1" r="39"/>
<circle cx="941.6" cy="951.7" r="39"/>
<circle cx="941.6" cy="1041.4" r="39"/>
<circle cx="941.6" cy="1131.0" r="39"/>
<circle cx="1119.8" cy="593.1" r="39"/>
<circle cx="1119.8" cy="682.8" r="39"/>
<circle cx="1119.8" cy="772.4" r="39"/>
<circle cx="1119.8" cy="862.1" r="39"/>
<circle cx="1119.8" cy="951.7" r="39"/>
<circle cx="1119.8" cy="1041.4" r="39"/>
<circle cx="1119.8" cy="1131.0" r="39"/>
<circle cx="1297.9" cy="593.1" r="39"/>
<circle cx="1297.9" cy="682.8" r="39"/>
<circle cx="1297.9" cy="772.4" r="39"/>
<circle cx="1297.9" cy="862.1" r="39"/>
<circle cx="1297.9" cy="951.7" r="39"/>
<circle cx="1297.9" cy="1041.4" r="39"/>
<circle cx="1297.9" cy="1131.0" r="39"/>
<circle cx="1476.1" cy="593.1" r="39"/>
<circle cx="1476.1" cy="682.8" r="39"/>
<circle cx="1476.1" cy="772.4" r="39"/>
<circle cx="1476.1" cy="862.1" r="39"/>
<circle cx="1476.1" cy="951.7" r="39"/>
<circle cx="1476.1" cy="1041.4" r="39"/>
<circle cx="1476.1" cy="1131.0" r="39"/>
<circle cx="1654.3" cy="593.1" r="39"/>
<circle cx="1654.3" cy="682.8" r="39"/>
<circle cx="1654.3" cy="772.4" r="39"/>
<circle cx="1654.3" cy="862.1" r="39"/>
<circle cx="1654.3" cy="951.7" r="39"/>
<circle cx="1654.3" cy="1041.4" r="39"/>
</g>
<g font-family="Liberation Sans, Arial, sans-serif" font-size="29" fill="#1c0008" text-anchor="middle">
<text transform="translate(941.6 602.8) scale(0.915 1)">FPR2</text>
<text transform="translate(941.6 692.5) scale(0.915 1)">TOP1</text>
<text transform="translate(941.6 782.1) scale(0.915 1)">BLM</text>
<text transform="translate(941.6 871.8) scale(0.915 1)">ADORA3</text>
<text transform="translate(941.6 961.4) scale(0.915 1)">MAP2K2</text>
<text transform="translate(941.6 1051.1) scale(0.915 1)">GUSB</text>
<text transform="translate(941.6 1140.7) scale(0.915 1)">SLC9A1</text>
<text transform="translate(1119.8 602.8) scale(0.915 1)">FPR1</text>
<text transform="translate(1119.8 692.5) scale(0.915 1)">AURKB</text>
<text transform="translate(1119.8 782.1) scale(0.915 1)">WDR5</text>
<text transform="translate(1119.8 871.8) scale(0.915 1)">CCR1</text>
<text transform="translate(1119.8 961.4) scale(0.915 1)">HIF1A</text>
<text transform="translate(1119.8 1051.1) scale(0.915 1)">CTSD</text>
<text transform="translate(1119.8 1140.7) scale(0.915 1)">TLR4</text>
<text transform="translate(1297.9 602.8) scale(0.915 1)">PIK3R1</text>
<text transform="translate(1297.9 692.5) scale(0.915 1)">HDAC3</text>
<text transform="translate(1297.9 782.1) scale(0.915 1)">PTPN11</text>
<text transform="translate(1297.9 871.8) scale(0.915 1)">CTSG</text>
<text transform="translate(1297.9 961.4) scale(0.915 1)">TRIM24</text>
<text transform="translate(1297.9 1051.1) scale(0.915 1)">CDK5</text>
<text transform="translate(1297.9 1140.7) scale(0.915 1)">TDP1</text>
<text transform="translate(1476.1 602.8) scale(0.915 1)">SLC40A1</text>
<text transform="translate(1476.1 692.5) scale(0.915 1)">GSTO1</text>
<text transform="translate(1476.1 782.1) scale(0.915 1)">ABCC1</text>
<text transform="translate(1476.1 871.8) scale(0.915 1)">APEX1</text>
<text transform="translate(1476.1 961.4) scale(0.915 1)">TOP2A</text>
<text transform="translate(1476.1 1051.1) scale(0.915 1)">CA9</text>
<text transform="translate(1476.1 1140.7) scale(0.915 1)">DPP7</text>
<text transform="translate(1654.3 602.8) scale(0.915 1)">NFE2L2</text>
<text transform="translate(1654.3 692.5) scale(0.915 1)">CA1</text>
<text transform="translate(1654.3 782.1) scale(0.915 1)">KLF5</text>
<text transform="translate(1654.3 871.8) scale(0.915 1)">PIK3CB</text>
<text transform="translate(1654.3 961.4) scale(0.915 1)">GRB2</text>
<text transform="translate(1654.3 1051.1) scale(0.915 1)">EGLN1</text>
</g>
</g>
<g font-family="Liberation Serif, Times New Roman, serif" font-size="31" fill="#000">
<text transform="translate(4 25.8) scale(0.93 1)">A</text>
<text transform="translate(742 24.8) scale(0.93 1)">B</text>
<text transform="translate(1226 24.6) scale(0.93 1)">C</text>
<text transform="translate(99.7 533) scale(0.93 1)">D</text>
<text transform="translate(922 533.6) scale(0.93 1)">E</text>
</g>
</svg>
</body></html>
